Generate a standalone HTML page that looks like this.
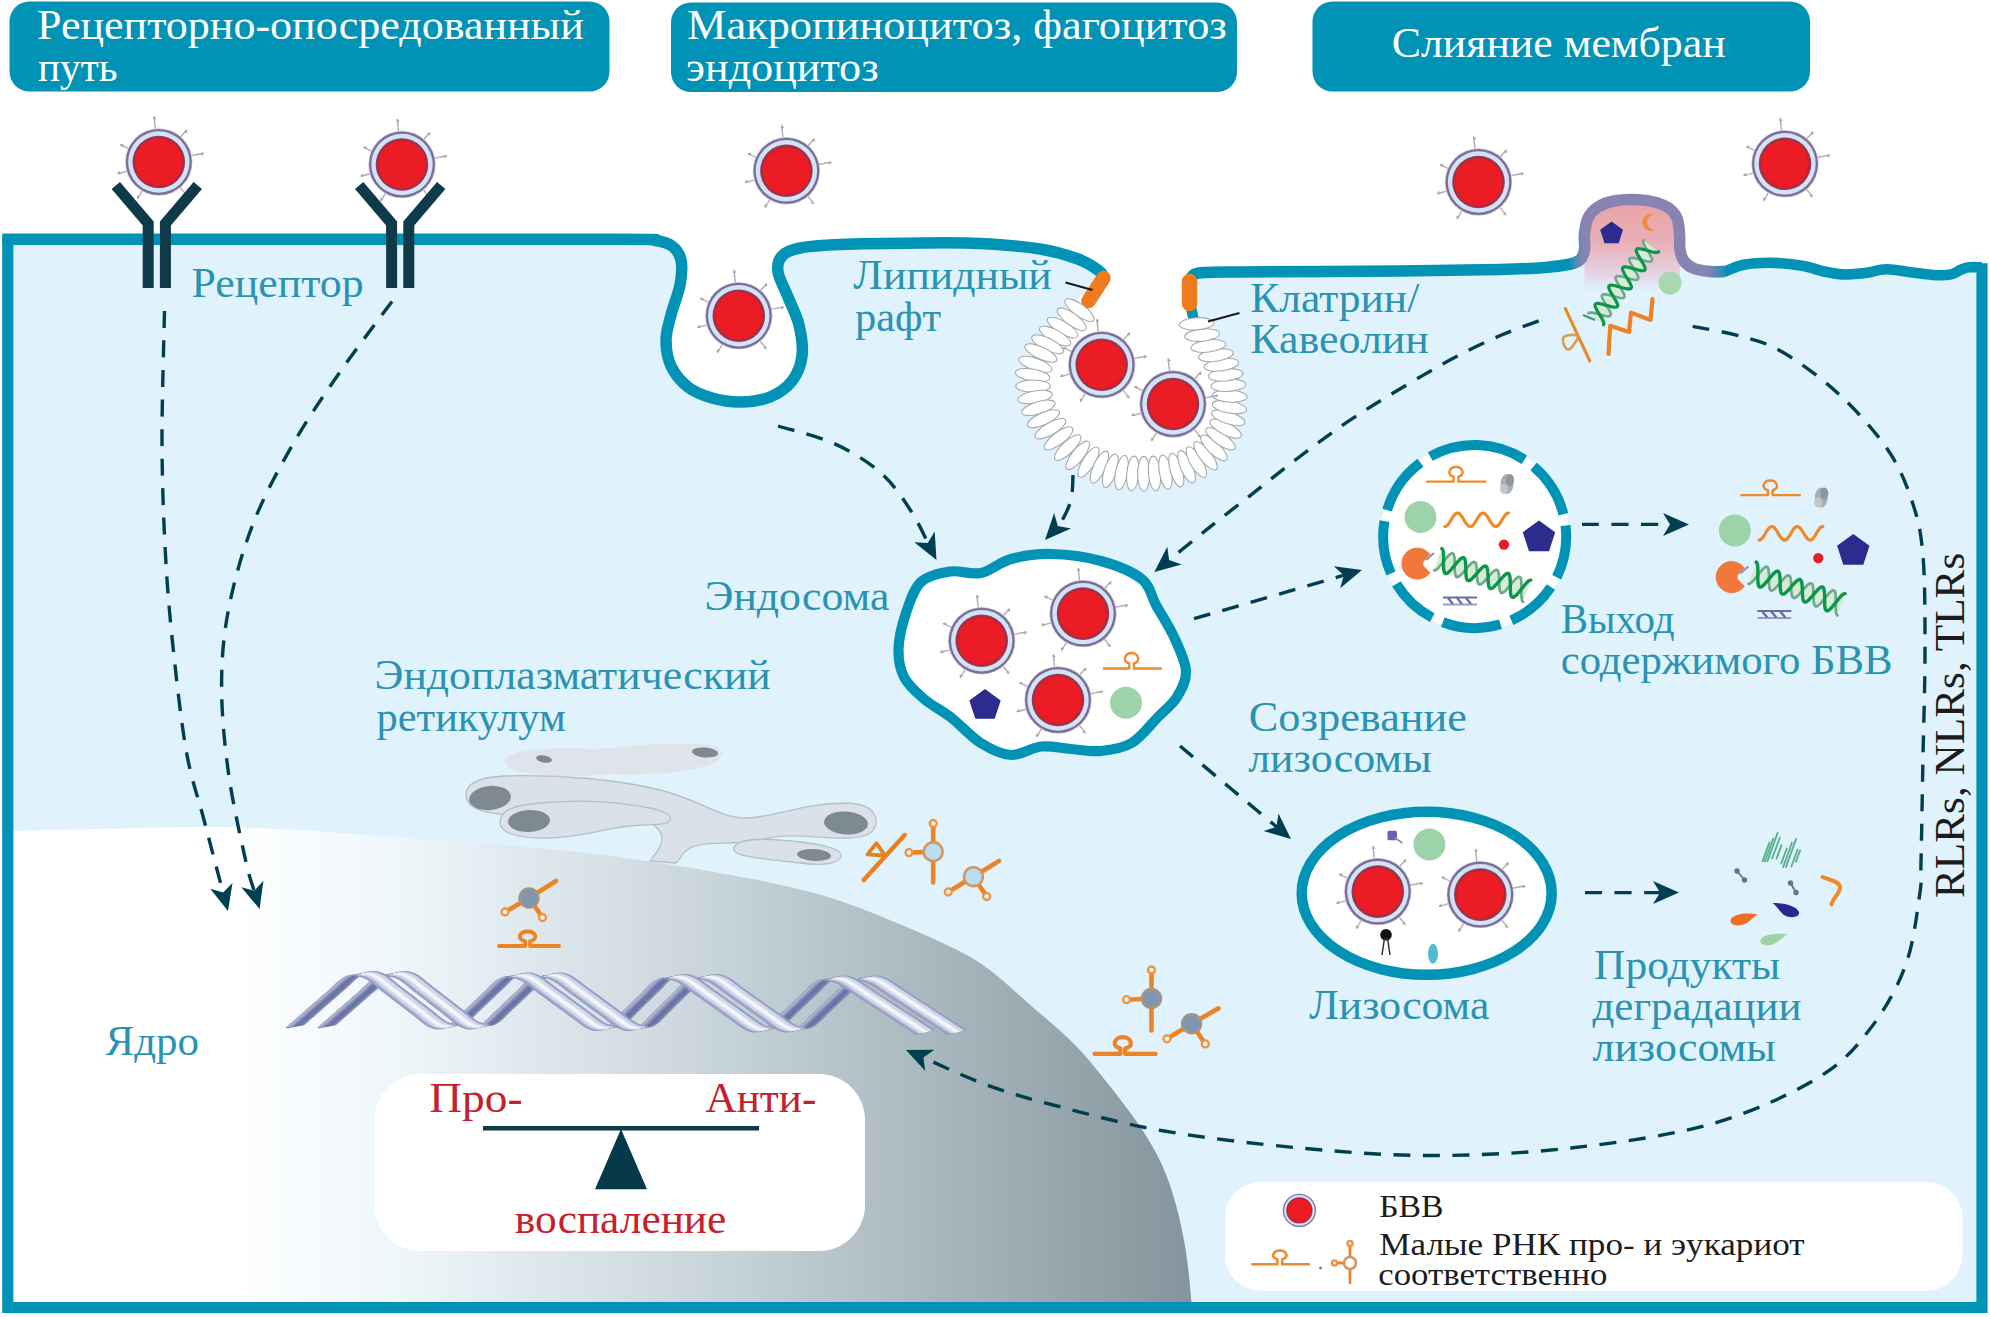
<!DOCTYPE html>
<html lang="ru">
<head>
<meta charset="utf-8">
<title>Пути проникновения БВВ в клетку</title>
<style>
html,body{margin:0;padding:0;background:#ffffff;}
body{width:1990px;height:1317px;overflow:hidden;font-family:"Liberation Serif","Times New Roman",serif;}
svg{display:block;}
</style>
</head>
<body>
<svg width="1990" height="1317" viewBox="0 0 1990 1317" font-family="'Liberation Serif', 'Times New Roman', serif">
<defs>
<linearGradient id="nuc" gradientUnits="userSpaceOnUse" x1="0" y1="0" x2="1210" y2="0">
<stop offset="0" stop-color="#ffffff"/>
<stop offset="0.19" stop-color="#ffffff"/>
<stop offset="0.33" stop-color="#eef6fa"/>
<stop offset="0.5" stop-color="#d6e1e5"/>
<stop offset="0.66" stop-color="#bccacf"/>
<stop offset="0.8" stop-color="#a4b3b9"/>
<stop offset="1" stop-color="#82929a"/>
</linearGradient>
<linearGradient id="bump" gradientUnits="userSpaceOnUse" x1="0" y1="205" x2="0" y2="292">
<stop offset="0" stop-color="#e8a4a6"/>
<stop offset="0.45" stop-color="#e8b0b8"/>
<stop offset="0.8" stop-color="#e6c9dc" stop-opacity="0.75"/>
<stop offset="1" stop-color="#e3d8ec" stop-opacity="0"/>
</linearGradient>
<linearGradient id="bumpstroke" gradientUnits="userSpaceOnUse" x1="1555" y1="0" x2="1745" y2="0">
<stop offset="0" stop-color="#0093b5"/>
<stop offset="0.06" stop-color="#0093b5"/>
<stop offset="0.15" stop-color="#8884b2"/>
<stop offset="0.8" stop-color="#8884b2"/>
<stop offset="0.93" stop-color="#0093b5"/>
<stop offset="1" stop-color="#0093b5"/>
</linearGradient>
<linearGradient id="dna" x1="0" y1="0" x2="0" y2="1">
<stop offset="0" stop-color="#8f9ac0"/>
<stop offset="0.5" stop-color="#e4e8f4"/>
<stop offset="1" stop-color="#8f9ac0"/>
</linearGradient>
<clipPath id="cellclip"><rect x="8" y="150" width="1973" height="1155"/></clipPath>
</defs>
<rect width="1990" height="1317" fill="#ffffff"/>
<path d="M2.3 239.2C51.9 239.2 197.1 239.2 300 239.2C402.9 239.2 560.8 239.1 620 239.3C679.2 239.5 646.3 239.4 655 240.5C663.7 241.6 667.7 242.8 672 246C676.3 249.2 679.7 253.5 681 260C682.3 266.5 681.7 275.8 680 285C678.3 294.2 673.3 305.8 671 315C668.7 324.2 666 331.5 666 340C666 348.5 667.3 358.2 671 366C674.7 373.8 681.2 381.7 688 387C694.8 392.3 703.2 395.5 712 398C720.8 400.5 731.3 402.2 741 402C750.7 401.8 761.5 400.5 770 397C778.5 393.5 786.7 387.8 792 381C797.3 374.2 800.8 365.3 802 356C803.2 346.7 801.3 334.8 799 325C796.7 315.2 791.5 305.8 788 297C784.5 288.2 779 278.8 778 272C777 265.2 778.3 260 782 256C785.7 252 790.3 249.9 800 248C809.7 246.1 820 245.3 840 244.5C860 243.7 896.7 243.2 920 243C943.3 242.8 960 242.5 980 243.5C1000 244.5 1023.7 246.4 1040 249C1056.3 251.6 1068.3 255.5 1078 259C1087.7 262.5 1093.7 267 1098 270C1102.3 273 1103 275.8 1104 277L1087 303 L1196 320 L1190 307 L1190 279C1190.7 278.2 1191.7 275.6 1194 274.5C1196.3 273.4 1196.3 272.9 1204 272.5C1211.7 272.1 1207.3 272.2 1240 272C1272.7 271.8 1356.7 271.4 1400 271C1443.3 270.6 1475.8 270.1 1500 269.5C1524.2 268.9 1533.2 268.4 1545 267.5C1556.8 266.6 1566.7 264.6 1571 264C1572.5 263.3 1577.8 262.3 1580 260C1582.2 257.7 1583.8 254.3 1584.5 250C1585.2 245.7 1583.9 239.3 1584.5 234C1585.1 228.7 1585.8 222.5 1588 218C1590.2 213.5 1593.7 209.8 1598 207C1602.3 204.2 1608.3 202.2 1614 201C1619.7 199.8 1625.7 199.4 1632 199.5C1638.3 199.6 1646 200.2 1652 201.5C1658 202.8 1663.8 204.8 1668 207.5C1672.2 210.2 1675.1 213.6 1677 218C1678.9 222.4 1679 228.7 1679.5 234C1680 239.3 1679.2 245.5 1680 250C1680.8 254.5 1681.8 258 1684 261C1686.2 264 1688.7 266.2 1693 268C1697.3 269.8 1704.7 270.9 1710 271.5C1715.3 272.1 1722.5 271.5 1725 271.5C1728.1 270.2 1736.2 266.2 1743.7 264.8C1751.2 263.4 1760.3 262.7 1770 262.8C1779.7 262.9 1793 264.2 1802 265.7C1811 267.1 1817.2 270.1 1824 271.5C1830.8 272.9 1836.2 274.1 1843 274.4C1849.8 274.6 1857.8 273.9 1865 273C1872.2 272.1 1878.8 269.4 1886.5 269.3C1894.2 269.2 1902.8 271.3 1911 272.3C1919.2 273.3 1929.3 274.9 1936 275.2C1942.7 275.5 1946.8 275.3 1951 274.4C1955.2 273.5 1958 270.8 1961 269.6C1964 268.4 1965.5 267.7 1969 267.3C1972.5 266.9 1979.8 267.3 1982 267.3L1982 1307 L7.8 1307 L7.8 239.2 Z" fill="#e0f2fc"/>
<path d="M8 831C23.3 830.7 66.2 829.7 100 829C133.8 828.3 177.7 826.8 211 827C244.3 827.2 276.5 828.8 300 830C323.5 831.2 332 832.5 352 834C372 835.5 396.7 837.2 420 839C443.3 840.8 468.7 842.7 492 844.5C515.3 846.3 533.5 847.1 560 850C586.5 852.9 620.8 857.2 651 861.7C681.2 866.2 716.7 872.4 741.5 877C766.3 881.6 782.1 885 800 889.5C817.9 894 828.2 896.4 849 904C869.8 911.6 903.2 925.2 925 935C946.8 944.8 962.8 951.7 980 963C997.2 974.3 1012.2 989.3 1028 1003C1043.8 1016.7 1061.5 1031.3 1075 1045C1088.5 1058.7 1098 1071.2 1109 1085C1120 1098.8 1132.2 1114.7 1141 1128C1149.8 1141.3 1156.2 1152.2 1162 1165C1167.8 1177.8 1172 1190.5 1176 1205C1180 1219.5 1183.3 1235 1186 1252C1188.7 1269 1191 1297.8 1192 1307L8 1307 Z" fill="url(#nuc)"/>
<g stroke="#b3c1c6" stroke-width="1.3"><path d="M507 757 C520 748 560 747 600 749 C640 744 690 741 716 746 C726 750 722 760 712 764 C690 772 650 776 610 774 C570 778 530 776 514 770 C505 766 503 761 507 757Z" fill="#dfe4ea" stroke="none"/><path d="M466 795 C466 782 482 777 505 776 C560 774 620 780 660 790 C700 800 720 818 745 818 C775 818 800 803 845 803 C868 803 877 812 876 823 C875 834 862 838 846 838 C810 838 790 832 760 840 C735 846 705 840 690 848 C681 853 680 860 676 863 L650 861 C656 853 662 846 662 838 C662 826 640 814 610 811 C570 807 530 816 500 814 C478 812 466 806 466 795Z" fill="#dbe1e8"/><path d="M500 822 C500 810 515 805 540 803 C580 799 620 802 650 808 C664 811 672 815 670 820 C668 826 650 824 630 826 C600 829 580 838 545 838 C515 838 500 833 500 822Z" fill="#dbe1e8"/><path d="M735 846 C740 838 770 838 800 842 C825 845 842 849 841 856 C840 864 822 866 800 863 C775 860 745 858 737 853 C733 851 733 848 735 846Z" fill="#dbe1e8"/></g><g fill="#7d8b91"><ellipse cx="490" cy="798" rx="21" ry="12" transform="rotate(-6 490 798)"/><ellipse cx="529" cy="821" rx="21" ry="11" transform="rotate(-3 529 821)"/><ellipse cx="846" cy="823" rx="22" ry="11.5" transform="rotate(4 846 823)"/><ellipse cx="814" cy="855" rx="17" ry="6" transform="rotate(3 814 855)"/><ellipse cx="705" cy="752.5" rx="13" ry="5" transform="rotate(5 705 752.5)"/><ellipse cx="544" cy="759" rx="8" ry="3.5" transform="rotate(10 544 759)"/></g>
<g fill="none" stroke="#0093b5" stroke-width="11.5" stroke-linejoin="round">
<path d="M7.8 236 L7.8 1307.5 L1982 1307.5 L1982 263.3" stroke-width="11.2" stroke-linejoin="miter"/>
<path d="M2.3 239.2C51.9 239.2 197.1 239.2 300 239.2C402.9 239.2 560.8 239.1 620 239.3C679.2 239.5 646.3 239.4 655 240.5C663.7 241.6 667.7 242.8 672 246C676.3 249.2 679.7 253.5 681 260C682.3 266.5 681.7 275.8 680 285C678.3 294.2 673.3 305.8 671 315C668.7 324.2 666 331.5 666 340C666 348.5 667.3 358.2 671 366C674.7 373.8 681.2 381.7 688 387C694.8 392.3 703.2 395.5 712 398C720.8 400.5 731.3 402.2 741 402C750.7 401.8 761.5 400.5 770 397C778.5 393.5 786.7 387.8 792 381C797.3 374.2 800.8 365.3 802 356C803.2 346.7 801.3 334.8 799 325C796.7 315.2 791.5 305.8 788 297C784.5 288.2 779 278.8 778 272C777 265.2 778.3 260 782 256C785.7 252 790.3 249.9 800 248C809.7 246.1 820 245.3 840 244.5C860 243.7 896.7 243.2 920 243C943.3 242.8 960 242.5 980 243.5C1000 244.5 1023.7 246.4 1040 249C1056.3 251.6 1068.3 255.5 1078 259C1087.7 262.5 1093.7 267 1098 270C1102.3 273 1103 275.8 1104 277" stroke-linecap="butt"/>
<path d="M1190 279C1190.7 278.2 1191.7 275.6 1194 274.5C1196.3 273.4 1196.3 272.9 1204 272.5C1211.7 272.1 1207.3 272.2 1240 272C1272.7 271.8 1356.7 271.4 1400 271C1443.3 270.6 1475.8 270.1 1500 269.5C1524.2 268.9 1533.2 268.4 1545 267.5C1556.8 266.6 1565.5 265.1 1571 264C1576.5 262.9 1576.8 261.5 1578 261"/>
<path d="M1716 272C1717.5 271.9 1720.4 272.5 1725 271.3C1729.6 270.1 1736.2 266.2 1743.7 264.8C1751.2 263.4 1760.3 262.7 1770 262.8C1779.7 262.9 1793 264.2 1802 265.7C1811 267.1 1817.2 270.1 1824 271.5C1830.8 272.9 1836.2 274.1 1843 274.4C1849.8 274.6 1857.8 273.9 1865 273C1872.2 272.1 1878.8 269.4 1886.5 269.3C1894.2 269.2 1902.8 271.3 1911 272.3C1919.2 273.3 1929.3 274.9 1936 275.2C1942.7 275.5 1946.8 275.3 1951 274.4C1955.2 273.5 1958 270.8 1961 269.6C1964 268.4 1965.5 267.7 1969 267.3C1972.5 266.9 1979.8 267.3 1982 267.3" stroke-width="10.6"/>
</g>
<path d="M1584.5 234C1585.1 231.3 1585.8 222.5 1588 218C1590.2 213.5 1593.7 209.8 1598 207C1602.3 204.2 1608.3 202.2 1614 201C1619.7 199.8 1625.7 199.4 1632 199.5C1638.3 199.6 1646 200.2 1652 201.5C1658 202.8 1663.8 204.8 1668 207.5C1672.2 210.2 1675.1 213.6 1677 218C1678.9 222.4 1679 228.7 1679.5 234C1680 239.3 1679.9 247.3 1680 250L1680 294 L1584.5 294 Z" fill="url(#bump)"/>
<path d="M1571 264C1572.5 263.3 1577.8 262.3 1580 260C1582.2 257.7 1583.8 254.3 1584.5 250C1585.2 245.7 1583.9 239.3 1584.5 234C1585.1 228.7 1585.8 222.5 1588 218C1590.2 213.5 1593.7 209.8 1598 207C1602.3 204.2 1608.3 202.2 1614 201C1619.7 199.8 1625.7 199.4 1632 199.5C1638.3 199.6 1646 200.2 1652 201.5C1658 202.8 1663.8 204.8 1668 207.5C1672.2 210.2 1675.1 213.6 1677 218C1678.9 222.4 1679 228.7 1679.5 234C1680 239.3 1679.2 245.5 1680 250C1680.8 254.5 1681.8 258 1684 261C1686.2 264 1688.7 266.2 1693 268C1697.3 269.8 1704.7 270.9 1710 271.5C1715.3 272.1 1722.5 271.5 1725 271.5" fill="none" stroke="url(#bumpstroke)" stroke-width="11.5"/>
<circle cx="1131" cy="377" r="95" fill="#ffffff"/>
<polygon points="1191,296 1210,296 1210,318 1196.5,320" fill="#e0f2fc"/>
<path d="M1190.5 305 L1193.5 319" stroke="#0093b5" stroke-width="10.5" fill="none"/>
<path d="M1103.5 278 L1088.5 301" stroke="#ee7c1e" stroke-width="14.5" stroke-linecap="round" fill="none"/>
<path d="M1189.5 281.5 L1189.5 303.5" stroke="#ee7c1e" stroke-width="15.5" stroke-linecap="round" fill="none"/>
<g fill="#ffffff" stroke="#a4a9ac" stroke-width="1.1"><ellipse cx="1079.4" cy="310.1" rx="17.4" ry="6.1" transform="rotate(36 1079.4 310.1)"/><ellipse cx="1071.8" cy="319.3" rx="17.4" ry="6.1" transform="rotate(36 1071.8 319.3)"/><ellipse cx="1062.6" cy="327.6" rx="17.4" ry="6.1" transform="rotate(31 1062.6 327.6)"/><ellipse cx="1055.1" cy="336" rx="17.4" ry="6.1" transform="rotate(28 1055.1 336)"/><ellipse cx="1047.6" cy="344.3" rx="17.4" ry="6.1" transform="rotate(26 1047.6 344.3)"/><ellipse cx="1040.9" cy="353" rx="17.4" ry="6.1" transform="rotate(25 1040.9 353)"/><ellipse cx="1035.4" cy="364.4" rx="17.4" ry="6.1" transform="rotate(19 1035.4 364.4)"/><ellipse cx="1032.6" cy="375.2" rx="17.4" ry="6.1" transform="rotate(10 1032.6 375.2)"/><ellipse cx="1033.1" cy="386.1" rx="17.4" ry="6.1" transform="rotate(0 1033.1 386.1)"/><ellipse cx="1035.1" cy="397" rx="17.4" ry="6.1" transform="rotate(-10 1035.1 397)"/><ellipse cx="1038.4" cy="407.8" rx="17.4" ry="6.1" transform="rotate(-17 1038.4 407.8)"/><ellipse cx="1043.4" cy="418.7" rx="17.4" ry="6.1" transform="rotate(-24 1043.4 418.7)"/><ellipse cx="1050.4" cy="428.7" rx="17.4" ry="6.1" transform="rotate(-30 1050.4 428.7)"/><ellipse cx="1058.5" cy="438.4" rx="17.4" ry="6.1" transform="rotate(-37 1058.5 438.4)"/><ellipse cx="1067.7" cy="447.6" rx="17.4" ry="6.1" transform="rotate(-44 1067.7 447.6)"/><ellipse cx="1077.7" cy="455.4" rx="17.4" ry="6.1" transform="rotate(-52 1077.7 455.4)"/><ellipse cx="1088.5" cy="462.1" rx="17.4" ry="6.1" transform="rotate(-58 1088.5 462.1)"/><ellipse cx="1099.4" cy="467.1" rx="17.4" ry="6.1" transform="rotate(-65 1099.4 467.1)"/><ellipse cx="1110.3" cy="470.8" rx="17.4" ry="6.1" transform="rotate(-72 1110.3 470.8)"/><ellipse cx="1121.6" cy="472.6" rx="17.4" ry="6.1" transform="rotate(-79 1121.6 472.6)"/><ellipse cx="1132.8" cy="473.5" rx="17.4" ry="6.1" transform="rotate(-85 1132.8 473.5)"/><ellipse cx="1143.7" cy="473.8" rx="17.4" ry="6.1" transform="rotate(-90 1143.7 473.8)"/><ellipse cx="1154.5" cy="473.5" rx="17.4" ry="6.1" transform="rotate(85 1154.5 473.5)"/><ellipse cx="1165.4" cy="472.1" rx="17.4" ry="6.1" transform="rotate(80 1165.4 472.1)"/><ellipse cx="1176.3" cy="470.1" rx="17.4" ry="6.1" transform="rotate(74 1176.3 470.1)"/><ellipse cx="1186.6" cy="466.8" rx="17.4" ry="6.1" transform="rotate(67 1186.6 466.8)"/><ellipse cx="1196.3" cy="462.1" rx="17.4" ry="6.1" transform="rotate(60 1196.3 462.1)"/><ellipse cx="1205.5" cy="455.8" rx="17.4" ry="6.1" transform="rotate(52 1205.5 455.8)"/><ellipse cx="1213.9" cy="447.9" rx="17.4" ry="6.1" transform="rotate(44 1213.9 447.9)"/><ellipse cx="1220.5" cy="438.7" rx="17.4" ry="6.1" transform="rotate(35 1220.5 438.7)"/><ellipse cx="1225.6" cy="428.7" rx="17.4" ry="6.1" transform="rotate(27 1225.6 428.7)"/><ellipse cx="1228.2" cy="417.8" rx="17.4" ry="6.1" transform="rotate(18 1228.2 417.8)"/><ellipse cx="1229.4" cy="407" rx="17.4" ry="6.1" transform="rotate(10 1229.4 407)"/><ellipse cx="1229.7" cy="396.1" rx="17.4" ry="6.1" transform="rotate(3 1229.7 396.1)"/><ellipse cx="1228.4" cy="385.3" rx="17.4" ry="6.1" transform="rotate(-3 1228.4 385.3)"/><ellipse cx="1225.6" cy="374.9" rx="17.4" ry="6.1" transform="rotate(-5 1225.6 374.9)"/><ellipse cx="1221.4" cy="364.7" rx="17.4" ry="6.1" transform="rotate(-8 1221.4 364.7)"/><ellipse cx="1215.9" cy="355.2" rx="17.4" ry="6.1" transform="rotate(-8 1215.9 355.2)"/><ellipse cx="1208.3" cy="346" rx="17.4" ry="6.1" transform="rotate(-7 1208.3 346)"/><ellipse cx="1202.2" cy="335.1" rx="17.4" ry="6.1" transform="rotate(-5 1202.2 335.1)"/><ellipse cx="1196.6" cy="323.8" rx="17.4" ry="6.1" transform="rotate(-3 1196.6 323.8)"/></g>
<line x1="1065.5" y1="282.5" x2="1092.5" y2="290" stroke="#1a1a1a" stroke-width="2.2"/>
<line x1="1208" y1="321.5" x2="1239.5" y2="313" stroke="#1a1a1a" stroke-width="2.2"/>
<g transform="translate(158.8 162) scale(1)"><line x1="-3.4" y1="-32.8" x2="-4" y2="-37.8" stroke="#b9a7c0" stroke-width="1.4"/><line x1="-4" y1="-37.8" x2="-4.8" y2="-45.3" stroke="#a9a7ad" stroke-width="1.4"/><path d="M-2.1 -43.1 L-4.9 -46.2 L-5.5 -42.8 Z" fill="#a9a7ad"/><line x1="21.6" y1="-24.9" x2="24.9" y2="-28.7" stroke="#9fb0a0" stroke-width="1.4"/><line x1="24.9" y1="-28.7" x2="27.8" y2="-31.9" stroke="#a8a6a4" stroke-width="1.4"/><path d="M28 -28.5 L28.4 -32.7 L25.4 -30.8 Z" fill="#a8a6a4"/><line x1="32.4" y1="-6.3" x2="37.3" y2="-7.3" stroke="#c7a8c0" stroke-width="1.4"/><line x1="37.3" y1="-7.3" x2="44.7" y2="-8.7" stroke="#a9a7ad" stroke-width="1.4"/><path d="M42.8 -5.9 L45.6 -8.9 L42.1 -9.2 Z" fill="#a9a7ad"/><line x1="21.2" y1="25.3" x2="24.4" y2="29.1" stroke="#c7a0b8" stroke-width="1.4"/><line x1="24.4" y1="29.1" x2="27.4" y2="32.7" stroke="#a3b3a3" stroke-width="1.4"/><path d="M24.1 32.4 L28.1 33.5 L26.7 30.2 Z" fill="#a3b3a3"/><line x1="-16.5" y1="28.6" x2="-19" y2="32.9" stroke="#c0a4c0" stroke-width="1.4"/><line x1="-19" y1="32.9" x2="-21.2" y2="36.7" stroke="#b0a2ae" stroke-width="1.4"/><path d="M-22.1 33.4 L-21.7 37.6 L-19.1 35.1 Z" fill="#b0a2ae"/><line x1="-31.7" y1="9.1" x2="-36.5" y2="10.5" stroke="#b9a7c0" stroke-width="1.4"/><line x1="-36.5" y1="10.5" x2="-41" y2="11.8" stroke="#a6aaa2" stroke-width="1.4"/><path d="M-39.4 8.8 L-42 12 L-38.5 12.1 Z" fill="#a6aaa2"/><line x1="-30.1" y1="-13.4" x2="-34.7" y2="-15.5" stroke="#c7a8c0" stroke-width="1.4"/><line x1="-34.7" y1="-15.5" x2="-38.4" y2="-17.1" stroke="#a9a7ad" stroke-width="1.4"/><path d="M-35.2 -18.3 L-39.3 -17.5 L-36.6 -15.2 Z" fill="#a9a7ad"/><circle r="33.7" fill="#d9c3e0"/><circle r="33" fill="#767296"/><circle r="30.7" fill="#d5e1f5"/><circle r="26.3" fill="#7a4a68"/><circle r="25.3" fill="#a82c44"/><circle r="24.3" fill="#d41f2c"/><circle r="23.3" fill="#ec1c24"/></g>
<g transform="translate(402 164.5) scale(1)"><line x1="-3.4" y1="-32.8" x2="-4" y2="-37.8" stroke="#b9a7c0" stroke-width="1.4"/><line x1="-4" y1="-37.8" x2="-4.8" y2="-45.3" stroke="#a9a7ad" stroke-width="1.4"/><path d="M-2.1 -43.1 L-4.9 -46.2 L-5.5 -42.8 Z" fill="#a9a7ad"/><line x1="21.6" y1="-24.9" x2="24.9" y2="-28.7" stroke="#9fb0a0" stroke-width="1.4"/><line x1="24.9" y1="-28.7" x2="27.8" y2="-31.9" stroke="#a8a6a4" stroke-width="1.4"/><path d="M28 -28.5 L28.4 -32.7 L25.4 -30.8 Z" fill="#a8a6a4"/><line x1="32.4" y1="-6.3" x2="37.3" y2="-7.3" stroke="#c7a8c0" stroke-width="1.4"/><line x1="37.3" y1="-7.3" x2="44.7" y2="-8.7" stroke="#a9a7ad" stroke-width="1.4"/><path d="M42.8 -5.9 L45.6 -8.9 L42.1 -9.2 Z" fill="#a9a7ad"/><line x1="21.2" y1="25.3" x2="24.4" y2="29.1" stroke="#c7a0b8" stroke-width="1.4"/><line x1="24.4" y1="29.1" x2="27.4" y2="32.7" stroke="#a3b3a3" stroke-width="1.4"/><path d="M24.1 32.4 L28.1 33.5 L26.7 30.2 Z" fill="#a3b3a3"/><line x1="-16.5" y1="28.6" x2="-19" y2="32.9" stroke="#c0a4c0" stroke-width="1.4"/><line x1="-19" y1="32.9" x2="-21.2" y2="36.7" stroke="#b0a2ae" stroke-width="1.4"/><path d="M-22.1 33.4 L-21.7 37.6 L-19.1 35.1 Z" fill="#b0a2ae"/><line x1="-31.7" y1="9.1" x2="-36.5" y2="10.5" stroke="#b9a7c0" stroke-width="1.4"/><line x1="-36.5" y1="10.5" x2="-41" y2="11.8" stroke="#a6aaa2" stroke-width="1.4"/><path d="M-39.4 8.8 L-42 12 L-38.5 12.1 Z" fill="#a6aaa2"/><line x1="-30.1" y1="-13.4" x2="-34.7" y2="-15.5" stroke="#c7a8c0" stroke-width="1.4"/><line x1="-34.7" y1="-15.5" x2="-38.4" y2="-17.1" stroke="#a9a7ad" stroke-width="1.4"/><path d="M-35.2 -18.3 L-39.3 -17.5 L-36.6 -15.2 Z" fill="#a9a7ad"/><circle r="33.7" fill="#d9c3e0"/><circle r="33" fill="#767296"/><circle r="30.7" fill="#d5e1f5"/><circle r="26.3" fill="#7a4a68"/><circle r="25.3" fill="#a82c44"/><circle r="24.3" fill="#d41f2c"/><circle r="23.3" fill="#ec1c24"/></g>
<g fill="none" stroke="#0e3a4a" stroke-width="11" stroke-linejoin="miter" stroke-miterlimit="6"><path d="M148.2 288 L148.2 223.5 L115.8 185.5"/><path d="M165.4 288 L165.4 223.5 L197.8 185.5"/></g>
<g fill="none" stroke="#0e3a4a" stroke-width="11" stroke-linejoin="miter" stroke-miterlimit="6"><path d="M391.6 288 L391.6 223.5 L359.2 185.5"/><path d="M408.8 288 L408.8 223.5 L441.2 185.5"/></g>
<g transform="translate(786.4 170.8) scale(1)"><line x1="-3.4" y1="-32.8" x2="-4" y2="-37.8" stroke="#b9a7c0" stroke-width="1.4"/><line x1="-4" y1="-37.8" x2="-4.8" y2="-45.3" stroke="#a9a7ad" stroke-width="1.4"/><path d="M-2.1 -43.1 L-4.9 -46.2 L-5.5 -42.8 Z" fill="#a9a7ad"/><line x1="21.6" y1="-24.9" x2="24.9" y2="-28.7" stroke="#9fb0a0" stroke-width="1.4"/><line x1="24.9" y1="-28.7" x2="27.8" y2="-31.9" stroke="#a8a6a4" stroke-width="1.4"/><path d="M28 -28.5 L28.4 -32.7 L25.4 -30.8 Z" fill="#a8a6a4"/><line x1="32.4" y1="-6.3" x2="37.3" y2="-7.3" stroke="#c7a8c0" stroke-width="1.4"/><line x1="37.3" y1="-7.3" x2="44.7" y2="-8.7" stroke="#a9a7ad" stroke-width="1.4"/><path d="M42.8 -5.9 L45.6 -8.9 L42.1 -9.2 Z" fill="#a9a7ad"/><line x1="21.2" y1="25.3" x2="24.4" y2="29.1" stroke="#c7a0b8" stroke-width="1.4"/><line x1="24.4" y1="29.1" x2="27.4" y2="32.7" stroke="#a3b3a3" stroke-width="1.4"/><path d="M24.1 32.4 L28.1 33.5 L26.7 30.2 Z" fill="#a3b3a3"/><line x1="-16.5" y1="28.6" x2="-19" y2="32.9" stroke="#c0a4c0" stroke-width="1.4"/><line x1="-19" y1="32.9" x2="-21.2" y2="36.7" stroke="#b0a2ae" stroke-width="1.4"/><path d="M-22.1 33.4 L-21.7 37.6 L-19.1 35.1 Z" fill="#b0a2ae"/><line x1="-31.7" y1="9.1" x2="-36.5" y2="10.5" stroke="#b9a7c0" stroke-width="1.4"/><line x1="-36.5" y1="10.5" x2="-41" y2="11.8" stroke="#a6aaa2" stroke-width="1.4"/><path d="M-39.4 8.8 L-42 12 L-38.5 12.1 Z" fill="#a6aaa2"/><line x1="-30.1" y1="-13.4" x2="-34.7" y2="-15.5" stroke="#c7a8c0" stroke-width="1.4"/><line x1="-34.7" y1="-15.5" x2="-38.4" y2="-17.1" stroke="#a9a7ad" stroke-width="1.4"/><path d="M-35.2 -18.3 L-39.3 -17.5 L-36.6 -15.2 Z" fill="#a9a7ad"/><circle r="33.7" fill="#d9c3e0"/><circle r="33" fill="#767296"/><circle r="30.7" fill="#d5e1f5"/><circle r="26.3" fill="#7a4a68"/><circle r="25.3" fill="#a82c44"/><circle r="24.3" fill="#d41f2c"/><circle r="23.3" fill="#ec1c24"/></g>
<g transform="translate(738.8 315.7) scale(1)"><line x1="-3.4" y1="-32.8" x2="-4" y2="-37.8" stroke="#b9a7c0" stroke-width="1.4"/><line x1="-4" y1="-37.8" x2="-4.8" y2="-45.3" stroke="#a9a7ad" stroke-width="1.4"/><path d="M-2.1 -43.1 L-4.9 -46.2 L-5.5 -42.8 Z" fill="#a9a7ad"/><line x1="21.6" y1="-24.9" x2="24.9" y2="-28.7" stroke="#9fb0a0" stroke-width="1.4"/><line x1="24.9" y1="-28.7" x2="27.8" y2="-31.9" stroke="#a8a6a4" stroke-width="1.4"/><path d="M28 -28.5 L28.4 -32.7 L25.4 -30.8 Z" fill="#a8a6a4"/><line x1="32.4" y1="-6.3" x2="37.3" y2="-7.3" stroke="#c7a8c0" stroke-width="1.4"/><line x1="37.3" y1="-7.3" x2="44.7" y2="-8.7" stroke="#a9a7ad" stroke-width="1.4"/><path d="M42.8 -5.9 L45.6 -8.9 L42.1 -9.2 Z" fill="#a9a7ad"/><line x1="21.2" y1="25.3" x2="24.4" y2="29.1" stroke="#c7a0b8" stroke-width="1.4"/><line x1="24.4" y1="29.1" x2="27.4" y2="32.7" stroke="#a3b3a3" stroke-width="1.4"/><path d="M24.1 32.4 L28.1 33.5 L26.7 30.2 Z" fill="#a3b3a3"/><line x1="-16.5" y1="28.6" x2="-19" y2="32.9" stroke="#c0a4c0" stroke-width="1.4"/><line x1="-19" y1="32.9" x2="-21.2" y2="36.7" stroke="#b0a2ae" stroke-width="1.4"/><path d="M-22.1 33.4 L-21.7 37.6 L-19.1 35.1 Z" fill="#b0a2ae"/><line x1="-31.7" y1="9.1" x2="-36.5" y2="10.5" stroke="#b9a7c0" stroke-width="1.4"/><line x1="-36.5" y1="10.5" x2="-41" y2="11.8" stroke="#a6aaa2" stroke-width="1.4"/><path d="M-39.4 8.8 L-42 12 L-38.5 12.1 Z" fill="#a6aaa2"/><line x1="-30.1" y1="-13.4" x2="-34.7" y2="-15.5" stroke="#c7a8c0" stroke-width="1.4"/><line x1="-34.7" y1="-15.5" x2="-38.4" y2="-17.1" stroke="#a9a7ad" stroke-width="1.4"/><path d="M-35.2 -18.3 L-39.3 -17.5 L-36.6 -15.2 Z" fill="#a9a7ad"/><circle r="33.7" fill="#d9c3e0"/><circle r="33" fill="#767296"/><circle r="30.7" fill="#d5e1f5"/><circle r="26.3" fill="#7a4a68"/><circle r="25.3" fill="#a82c44"/><circle r="24.3" fill="#d41f2c"/><circle r="23.3" fill="#ec1c24"/></g>
<g transform="translate(1101.7 364.8) scale(1)"><line x1="-3.4" y1="-32.8" x2="-4" y2="-37.8" stroke="#b9a7c0" stroke-width="1.4"/><line x1="-4" y1="-37.8" x2="-4.8" y2="-45.3" stroke="#a9a7ad" stroke-width="1.4"/><path d="M-2.1 -43.1 L-4.9 -46.2 L-5.5 -42.8 Z" fill="#a9a7ad"/><line x1="21.6" y1="-24.9" x2="24.9" y2="-28.7" stroke="#9fb0a0" stroke-width="1.4"/><line x1="24.9" y1="-28.7" x2="27.8" y2="-31.9" stroke="#a8a6a4" stroke-width="1.4"/><path d="M28 -28.5 L28.4 -32.7 L25.4 -30.8 Z" fill="#a8a6a4"/><line x1="32.4" y1="-6.3" x2="37.3" y2="-7.3" stroke="#c7a8c0" stroke-width="1.4"/><line x1="37.3" y1="-7.3" x2="44.7" y2="-8.7" stroke="#a9a7ad" stroke-width="1.4"/><path d="M42.8 -5.9 L45.6 -8.9 L42.1 -9.2 Z" fill="#a9a7ad"/><line x1="21.2" y1="25.3" x2="24.4" y2="29.1" stroke="#c7a0b8" stroke-width="1.4"/><line x1="24.4" y1="29.1" x2="27.4" y2="32.7" stroke="#a3b3a3" stroke-width="1.4"/><path d="M24.1 32.4 L28.1 33.5 L26.7 30.2 Z" fill="#a3b3a3"/><line x1="-16.5" y1="28.6" x2="-19" y2="32.9" stroke="#c0a4c0" stroke-width="1.4"/><line x1="-19" y1="32.9" x2="-21.2" y2="36.7" stroke="#b0a2ae" stroke-width="1.4"/><path d="M-22.1 33.4 L-21.7 37.6 L-19.1 35.1 Z" fill="#b0a2ae"/><line x1="-31.7" y1="9.1" x2="-36.5" y2="10.5" stroke="#b9a7c0" stroke-width="1.4"/><line x1="-36.5" y1="10.5" x2="-41" y2="11.8" stroke="#a6aaa2" stroke-width="1.4"/><path d="M-39.4 8.8 L-42 12 L-38.5 12.1 Z" fill="#a6aaa2"/><line x1="-30.1" y1="-13.4" x2="-34.7" y2="-15.5" stroke="#c7a8c0" stroke-width="1.4"/><line x1="-34.7" y1="-15.5" x2="-38.4" y2="-17.1" stroke="#a9a7ad" stroke-width="1.4"/><path d="M-35.2 -18.3 L-39.3 -17.5 L-36.6 -15.2 Z" fill="#a9a7ad"/><circle r="33.7" fill="#d9c3e0"/><circle r="33" fill="#767296"/><circle r="30.7" fill="#d5e1f5"/><circle r="26.3" fill="#7a4a68"/><circle r="25.3" fill="#a82c44"/><circle r="24.3" fill="#d41f2c"/><circle r="23.3" fill="#ec1c24"/></g>
<g transform="translate(1173 404) scale(1)"><line x1="-3.4" y1="-32.8" x2="-4" y2="-37.8" stroke="#b9a7c0" stroke-width="1.4"/><line x1="-4" y1="-37.8" x2="-4.8" y2="-45.3" stroke="#a9a7ad" stroke-width="1.4"/><path d="M-2.1 -43.1 L-4.9 -46.2 L-5.5 -42.8 Z" fill="#a9a7ad"/><line x1="21.6" y1="-24.9" x2="24.9" y2="-28.7" stroke="#9fb0a0" stroke-width="1.4"/><line x1="24.9" y1="-28.7" x2="27.8" y2="-31.9" stroke="#a8a6a4" stroke-width="1.4"/><path d="M28 -28.5 L28.4 -32.7 L25.4 -30.8 Z" fill="#a8a6a4"/><line x1="32.4" y1="-6.3" x2="37.3" y2="-7.3" stroke="#c7a8c0" stroke-width="1.4"/><line x1="37.3" y1="-7.3" x2="44.7" y2="-8.7" stroke="#a9a7ad" stroke-width="1.4"/><path d="M42.8 -5.9 L45.6 -8.9 L42.1 -9.2 Z" fill="#a9a7ad"/><line x1="21.2" y1="25.3" x2="24.4" y2="29.1" stroke="#c7a0b8" stroke-width="1.4"/><line x1="24.4" y1="29.1" x2="27.4" y2="32.7" stroke="#a3b3a3" stroke-width="1.4"/><path d="M24.1 32.4 L28.1 33.5 L26.7 30.2 Z" fill="#a3b3a3"/><line x1="-16.5" y1="28.6" x2="-19" y2="32.9" stroke="#c0a4c0" stroke-width="1.4"/><line x1="-19" y1="32.9" x2="-21.2" y2="36.7" stroke="#b0a2ae" stroke-width="1.4"/><path d="M-22.1 33.4 L-21.7 37.6 L-19.1 35.1 Z" fill="#b0a2ae"/><line x1="-31.7" y1="9.1" x2="-36.5" y2="10.5" stroke="#b9a7c0" stroke-width="1.4"/><line x1="-36.5" y1="10.5" x2="-41" y2="11.8" stroke="#a6aaa2" stroke-width="1.4"/><path d="M-39.4 8.8 L-42 12 L-38.5 12.1 Z" fill="#a6aaa2"/><line x1="-30.1" y1="-13.4" x2="-34.7" y2="-15.5" stroke="#c7a8c0" stroke-width="1.4"/><line x1="-34.7" y1="-15.5" x2="-38.4" y2="-17.1" stroke="#a9a7ad" stroke-width="1.4"/><path d="M-35.2 -18.3 L-39.3 -17.5 L-36.6 -15.2 Z" fill="#a9a7ad"/><circle r="33.7" fill="#d9c3e0"/><circle r="33" fill="#767296"/><circle r="30.7" fill="#d5e1f5"/><circle r="26.3" fill="#7a4a68"/><circle r="25.3" fill="#a82c44"/><circle r="24.3" fill="#d41f2c"/><circle r="23.3" fill="#ec1c24"/></g>
<g transform="translate(1478.5 182) scale(1)"><line x1="-3.4" y1="-32.8" x2="-4" y2="-37.8" stroke="#b9a7c0" stroke-width="1.4"/><line x1="-4" y1="-37.8" x2="-4.8" y2="-45.3" stroke="#a9a7ad" stroke-width="1.4"/><path d="M-2.1 -43.1 L-4.9 -46.2 L-5.5 -42.8 Z" fill="#a9a7ad"/><line x1="21.6" y1="-24.9" x2="24.9" y2="-28.7" stroke="#9fb0a0" stroke-width="1.4"/><line x1="24.9" y1="-28.7" x2="27.8" y2="-31.9" stroke="#a8a6a4" stroke-width="1.4"/><path d="M28 -28.5 L28.4 -32.7 L25.4 -30.8 Z" fill="#a8a6a4"/><line x1="32.4" y1="-6.3" x2="37.3" y2="-7.3" stroke="#c7a8c0" stroke-width="1.4"/><line x1="37.3" y1="-7.3" x2="44.7" y2="-8.7" stroke="#a9a7ad" stroke-width="1.4"/><path d="M42.8 -5.9 L45.6 -8.9 L42.1 -9.2 Z" fill="#a9a7ad"/><line x1="21.2" y1="25.3" x2="24.4" y2="29.1" stroke="#c7a0b8" stroke-width="1.4"/><line x1="24.4" y1="29.1" x2="27.4" y2="32.7" stroke="#a3b3a3" stroke-width="1.4"/><path d="M24.1 32.4 L28.1 33.5 L26.7 30.2 Z" fill="#a3b3a3"/><line x1="-16.5" y1="28.6" x2="-19" y2="32.9" stroke="#c0a4c0" stroke-width="1.4"/><line x1="-19" y1="32.9" x2="-21.2" y2="36.7" stroke="#b0a2ae" stroke-width="1.4"/><path d="M-22.1 33.4 L-21.7 37.6 L-19.1 35.1 Z" fill="#b0a2ae"/><line x1="-31.7" y1="9.1" x2="-36.5" y2="10.5" stroke="#b9a7c0" stroke-width="1.4"/><line x1="-36.5" y1="10.5" x2="-41" y2="11.8" stroke="#a6aaa2" stroke-width="1.4"/><path d="M-39.4 8.8 L-42 12 L-38.5 12.1 Z" fill="#a6aaa2"/><line x1="-30.1" y1="-13.4" x2="-34.7" y2="-15.5" stroke="#c7a8c0" stroke-width="1.4"/><line x1="-34.7" y1="-15.5" x2="-38.4" y2="-17.1" stroke="#a9a7ad" stroke-width="1.4"/><path d="M-35.2 -18.3 L-39.3 -17.5 L-36.6 -15.2 Z" fill="#a9a7ad"/><circle r="33.7" fill="#d9c3e0"/><circle r="33" fill="#767296"/><circle r="30.7" fill="#d5e1f5"/><circle r="26.3" fill="#7a4a68"/><circle r="25.3" fill="#a82c44"/><circle r="24.3" fill="#d41f2c"/><circle r="23.3" fill="#ec1c24"/></g>
<g transform="translate(1785 163.8) scale(1)"><line x1="-3.4" y1="-32.8" x2="-4" y2="-37.8" stroke="#b9a7c0" stroke-width="1.4"/><line x1="-4" y1="-37.8" x2="-4.8" y2="-45.3" stroke="#a9a7ad" stroke-width="1.4"/><path d="M-2.1 -43.1 L-4.9 -46.2 L-5.5 -42.8 Z" fill="#a9a7ad"/><line x1="21.6" y1="-24.9" x2="24.9" y2="-28.7" stroke="#9fb0a0" stroke-width="1.4"/><line x1="24.9" y1="-28.7" x2="27.8" y2="-31.9" stroke="#a8a6a4" stroke-width="1.4"/><path d="M28 -28.5 L28.4 -32.7 L25.4 -30.8 Z" fill="#a8a6a4"/><line x1="32.4" y1="-6.3" x2="37.3" y2="-7.3" stroke="#c7a8c0" stroke-width="1.4"/><line x1="37.3" y1="-7.3" x2="44.7" y2="-8.7" stroke="#a9a7ad" stroke-width="1.4"/><path d="M42.8 -5.9 L45.6 -8.9 L42.1 -9.2 Z" fill="#a9a7ad"/><line x1="21.2" y1="25.3" x2="24.4" y2="29.1" stroke="#c7a0b8" stroke-width="1.4"/><line x1="24.4" y1="29.1" x2="27.4" y2="32.7" stroke="#a3b3a3" stroke-width="1.4"/><path d="M24.1 32.4 L28.1 33.5 L26.7 30.2 Z" fill="#a3b3a3"/><line x1="-16.5" y1="28.6" x2="-19" y2="32.9" stroke="#c0a4c0" stroke-width="1.4"/><line x1="-19" y1="32.9" x2="-21.2" y2="36.7" stroke="#b0a2ae" stroke-width="1.4"/><path d="M-22.1 33.4 L-21.7 37.6 L-19.1 35.1 Z" fill="#b0a2ae"/><line x1="-31.7" y1="9.1" x2="-36.5" y2="10.5" stroke="#b9a7c0" stroke-width="1.4"/><line x1="-36.5" y1="10.5" x2="-41" y2="11.8" stroke="#a6aaa2" stroke-width="1.4"/><path d="M-39.4 8.8 L-42 12 L-38.5 12.1 Z" fill="#a6aaa2"/><line x1="-30.1" y1="-13.4" x2="-34.7" y2="-15.5" stroke="#c7a8c0" stroke-width="1.4"/><line x1="-34.7" y1="-15.5" x2="-38.4" y2="-17.1" stroke="#a9a7ad" stroke-width="1.4"/><path d="M-35.2 -18.3 L-39.3 -17.5 L-36.6 -15.2 Z" fill="#a9a7ad"/><circle r="33.7" fill="#d9c3e0"/><circle r="33" fill="#767296"/><circle r="30.7" fill="#d5e1f5"/><circle r="26.3" fill="#7a4a68"/><circle r="25.3" fill="#a82c44"/><circle r="24.3" fill="#d41f2c"/><circle r="23.3" fill="#ec1c24"/></g>
<path d="M898.5 649C898.8 638.3 902.2 624.2 906 613C909.8 601.8 913.7 588.9 921 582C928.3 575.1 940 573 950 571.5C960 570 970.5 575.1 980.7 573C990.9 570.9 999.3 562.2 1011 559C1022.7 555.8 1036 553.7 1051 554C1066 554.3 1085.9 556.8 1101 561C1116.1 565.2 1132.5 571.7 1141.7 579C1150.9 586.3 1150.6 595.3 1156 605C1161.4 614.7 1169 626 1174 637C1179 648 1185.5 661 1186 671C1186.5 681 1181.7 689.3 1177 697C1172.3 704.7 1165.6 709.3 1158 717C1150.4 724.7 1141.1 737.3 1131.6 743C1122.1 748.7 1111.1 750 1101 751C1090.9 752 1081 749.8 1071 749C1061 748.2 1051 745.5 1041 746.5C1031 747.5 1021 755.6 1011 755C1001 754.4 990.8 749.3 980.7 743C970.6 736.7 960 724.3 950.5 717C941 709.7 931.8 705.7 924 699C916.2 692.3 908.2 685.3 904 677C899.8 668.7 898.2 659.7 898.5 649Z" fill="#ffffff" stroke="#0093b5" stroke-width="10.2" stroke-linejoin="round"/>
<g transform="translate(981.7 640.7) scale(1)"><line x1="-3.4" y1="-32.8" x2="-4" y2="-37.8" stroke="#b9a7c0" stroke-width="1.4"/><line x1="-4" y1="-37.8" x2="-4.8" y2="-45.3" stroke="#a9a7ad" stroke-width="1.4"/><path d="M-2.1 -43.1 L-4.9 -46.2 L-5.5 -42.8 Z" fill="#a9a7ad"/><line x1="21.6" y1="-24.9" x2="24.9" y2="-28.7" stroke="#9fb0a0" stroke-width="1.4"/><line x1="24.9" y1="-28.7" x2="27.8" y2="-31.9" stroke="#a8a6a4" stroke-width="1.4"/><path d="M28 -28.5 L28.4 -32.7 L25.4 -30.8 Z" fill="#a8a6a4"/><line x1="32.4" y1="-6.3" x2="37.3" y2="-7.3" stroke="#c7a8c0" stroke-width="1.4"/><line x1="37.3" y1="-7.3" x2="44.7" y2="-8.7" stroke="#a9a7ad" stroke-width="1.4"/><path d="M42.8 -5.9 L45.6 -8.9 L42.1 -9.2 Z" fill="#a9a7ad"/><line x1="21.2" y1="25.3" x2="24.4" y2="29.1" stroke="#c7a0b8" stroke-width="1.4"/><line x1="24.4" y1="29.1" x2="27.4" y2="32.7" stroke="#a3b3a3" stroke-width="1.4"/><path d="M24.1 32.4 L28.1 33.5 L26.7 30.2 Z" fill="#a3b3a3"/><line x1="-16.5" y1="28.6" x2="-19" y2="32.9" stroke="#c0a4c0" stroke-width="1.4"/><line x1="-19" y1="32.9" x2="-21.2" y2="36.7" stroke="#b0a2ae" stroke-width="1.4"/><path d="M-22.1 33.4 L-21.7 37.6 L-19.1 35.1 Z" fill="#b0a2ae"/><line x1="-31.7" y1="9.1" x2="-36.5" y2="10.5" stroke="#b9a7c0" stroke-width="1.4"/><line x1="-36.5" y1="10.5" x2="-41" y2="11.8" stroke="#a6aaa2" stroke-width="1.4"/><path d="M-39.4 8.8 L-42 12 L-38.5 12.1 Z" fill="#a6aaa2"/><line x1="-30.1" y1="-13.4" x2="-34.7" y2="-15.5" stroke="#c7a8c0" stroke-width="1.4"/><line x1="-34.7" y1="-15.5" x2="-38.4" y2="-17.1" stroke="#a9a7ad" stroke-width="1.4"/><path d="M-35.2 -18.3 L-39.3 -17.5 L-36.6 -15.2 Z" fill="#a9a7ad"/><circle r="33.7" fill="#d9c3e0"/><circle r="33" fill="#767296"/><circle r="30.7" fill="#d5e1f5"/><circle r="26.3" fill="#7a4a68"/><circle r="25.3" fill="#a82c44"/><circle r="24.3" fill="#d41f2c"/><circle r="23.3" fill="#ec1c24"/></g>
<g transform="translate(1083 613.6) scale(1)"><line x1="-3.4" y1="-32.8" x2="-4" y2="-37.8" stroke="#b9a7c0" stroke-width="1.4"/><line x1="-4" y1="-37.8" x2="-4.8" y2="-45.3" stroke="#a9a7ad" stroke-width="1.4"/><path d="M-2.1 -43.1 L-4.9 -46.2 L-5.5 -42.8 Z" fill="#a9a7ad"/><line x1="21.6" y1="-24.9" x2="24.9" y2="-28.7" stroke="#9fb0a0" stroke-width="1.4"/><line x1="24.9" y1="-28.7" x2="27.8" y2="-31.9" stroke="#a8a6a4" stroke-width="1.4"/><path d="M28 -28.5 L28.4 -32.7 L25.4 -30.8 Z" fill="#a8a6a4"/><line x1="32.4" y1="-6.3" x2="37.3" y2="-7.3" stroke="#c7a8c0" stroke-width="1.4"/><line x1="37.3" y1="-7.3" x2="44.7" y2="-8.7" stroke="#a9a7ad" stroke-width="1.4"/><path d="M42.8 -5.9 L45.6 -8.9 L42.1 -9.2 Z" fill="#a9a7ad"/><line x1="21.2" y1="25.3" x2="24.4" y2="29.1" stroke="#c7a0b8" stroke-width="1.4"/><line x1="24.4" y1="29.1" x2="27.4" y2="32.7" stroke="#a3b3a3" stroke-width="1.4"/><path d="M24.1 32.4 L28.1 33.5 L26.7 30.2 Z" fill="#a3b3a3"/><line x1="-16.5" y1="28.6" x2="-19" y2="32.9" stroke="#c0a4c0" stroke-width="1.4"/><line x1="-19" y1="32.9" x2="-21.2" y2="36.7" stroke="#b0a2ae" stroke-width="1.4"/><path d="M-22.1 33.4 L-21.7 37.6 L-19.1 35.1 Z" fill="#b0a2ae"/><line x1="-31.7" y1="9.1" x2="-36.5" y2="10.5" stroke="#b9a7c0" stroke-width="1.4"/><line x1="-36.5" y1="10.5" x2="-41" y2="11.8" stroke="#a6aaa2" stroke-width="1.4"/><path d="M-39.4 8.8 L-42 12 L-38.5 12.1 Z" fill="#a6aaa2"/><line x1="-30.1" y1="-13.4" x2="-34.7" y2="-15.5" stroke="#c7a8c0" stroke-width="1.4"/><line x1="-34.7" y1="-15.5" x2="-38.4" y2="-17.1" stroke="#a9a7ad" stroke-width="1.4"/><path d="M-35.2 -18.3 L-39.3 -17.5 L-36.6 -15.2 Z" fill="#a9a7ad"/><circle r="33.7" fill="#d9c3e0"/><circle r="33" fill="#767296"/><circle r="30.7" fill="#d5e1f5"/><circle r="26.3" fill="#7a4a68"/><circle r="25.3" fill="#a82c44"/><circle r="24.3" fill="#d41f2c"/><circle r="23.3" fill="#ec1c24"/></g>
<g transform="translate(1058 700) scale(1)"><line x1="-3.4" y1="-32.8" x2="-4" y2="-37.8" stroke="#b9a7c0" stroke-width="1.4"/><line x1="-4" y1="-37.8" x2="-4.8" y2="-45.3" stroke="#a9a7ad" stroke-width="1.4"/><path d="M-2.1 -43.1 L-4.9 -46.2 L-5.5 -42.8 Z" fill="#a9a7ad"/><line x1="21.6" y1="-24.9" x2="24.9" y2="-28.7" stroke="#9fb0a0" stroke-width="1.4"/><line x1="24.9" y1="-28.7" x2="27.8" y2="-31.9" stroke="#a8a6a4" stroke-width="1.4"/><path d="M28 -28.5 L28.4 -32.7 L25.4 -30.8 Z" fill="#a8a6a4"/><line x1="32.4" y1="-6.3" x2="37.3" y2="-7.3" stroke="#c7a8c0" stroke-width="1.4"/><line x1="37.3" y1="-7.3" x2="44.7" y2="-8.7" stroke="#a9a7ad" stroke-width="1.4"/><path d="M42.8 -5.9 L45.6 -8.9 L42.1 -9.2 Z" fill="#a9a7ad"/><line x1="21.2" y1="25.3" x2="24.4" y2="29.1" stroke="#c7a0b8" stroke-width="1.4"/><line x1="24.4" y1="29.1" x2="27.4" y2="32.7" stroke="#a3b3a3" stroke-width="1.4"/><path d="M24.1 32.4 L28.1 33.5 L26.7 30.2 Z" fill="#a3b3a3"/><line x1="-16.5" y1="28.6" x2="-19" y2="32.9" stroke="#c0a4c0" stroke-width="1.4"/><line x1="-19" y1="32.9" x2="-21.2" y2="36.7" stroke="#b0a2ae" stroke-width="1.4"/><path d="M-22.1 33.4 L-21.7 37.6 L-19.1 35.1 Z" fill="#b0a2ae"/><line x1="-31.7" y1="9.1" x2="-36.5" y2="10.5" stroke="#b9a7c0" stroke-width="1.4"/><line x1="-36.5" y1="10.5" x2="-41" y2="11.8" stroke="#a6aaa2" stroke-width="1.4"/><path d="M-39.4 8.8 L-42 12 L-38.5 12.1 Z" fill="#a6aaa2"/><line x1="-30.1" y1="-13.4" x2="-34.7" y2="-15.5" stroke="#c7a8c0" stroke-width="1.4"/><line x1="-34.7" y1="-15.5" x2="-38.4" y2="-17.1" stroke="#a9a7ad" stroke-width="1.4"/><path d="M-35.2 -18.3 L-39.3 -17.5 L-36.6 -15.2 Z" fill="#a9a7ad"/><circle r="33.7" fill="#d9c3e0"/><circle r="33" fill="#767296"/><circle r="30.7" fill="#d5e1f5"/><circle r="26.3" fill="#7a4a68"/><circle r="25.3" fill="#a82c44"/><circle r="24.3" fill="#d41f2c"/><circle r="23.3" fill="#ec1c24"/></g>
<polygon points="985,689 1000.7,700.4 994.7,718.8 975.3,718.8 969.3,700.4" fill="#2e2b8e"/>
<circle cx="1126" cy="702.7" r="16" fill="#9dd3a8"/>
<path d="M1104 668.5 L1129.2 668.5 L1129.2 663.5 C1122.1 662 1124.6 653 1131.6 653 C1138.6 653 1141.1 662 1134 663.5 L1134 668.5 L1161 668.5" fill="none" stroke="#ee8a2a" stroke-width="2.4" stroke-linejoin="round" stroke-linecap="round"/>
<circle cx="1474.7" cy="536.5" r="94.5" fill="#ffffff"/>
<path d="M1430.2 456.5 A91.5 91.5 0 0 1 1524.4 459.7M1533.6 466.5 A91.5 91.5 0 0 1 1563.4 514.2M1565.5 525.5 A91.5 91.5 0 0 1 1556.7 577.2M1550.9 587.1 A91.5 91.5 0 0 1 1511.3 620.3M1500.5 624.3 A91.5 91.5 0 0 1 1442.8 622.3M1432.3 617.6 A91.5 91.5 0 0 1 1396.4 583.8M1391 573.6 A91.5 91.5 0 0 1 1384.5 521.2M1387.1 510.1 A91.5 91.5 0 0 1 1420.5 462.8" fill="none" stroke="#0093b5" stroke-width="10"/>
<g transform="translate(0 0)"><path d="M1427 481.6 L1453.6 481.6 L1453.6 476.6 C1446.5 475.1 1449 467 1456 467 C1463 467 1465.5 475.1 1458.4 476.6 L1458.4 481.6 L1485.5 481.6" fill="none" stroke="#ee8a2a" stroke-width="2.4" stroke-linejoin="round" stroke-linecap="round"/><g fill="#a9aeb2"><ellipse cx="1507" cy="484" rx="6.5" ry="10"/><ellipse cx="1510" cy="480" rx="4" ry="6" fill="#8f959a"/><ellipse cx="1504" cy="489" rx="4" ry="5" fill="#c2c6c9"/></g><circle cx="1420.5" cy="517" r="16" fill="#9dd3a8"/><path transform="translate(1444.8 519.8) rotate(0)" d="M0 6.8 L1.1 6.6 L2.1 5.9 L3.2 4.8 L4.2 3.4 L5.3 1.8 L6.4 -0 L7.4 -1.8 L8.5 -3.4 L9.6 -4.8 L10.6 -5.9 L11.7 -6.6 L12.7 -6.8 L13.8 -6.6 L14.9 -5.9 L15.9 -4.8 L17 -3.4 L18 -1.8 L19.1 -0 L20.2 1.8 L21.2 3.4 L22.3 4.8 L23.4 5.9 L24.4 6.6 L25.5 6.8 L26.5 6.6 L27.6 5.9 L28.7 4.8 L29.7 3.4 L30.8 1.8 L31.9 0 L32.9 -1.8 L34 -3.4 L35 -4.8 L36.1 -5.9 L37.2 -6.6 L38.2 -6.8 L39.3 -6.6 L40.3 -5.9 L41.4 -4.8 L42.5 -3.4 L43.5 -1.8 L44.6 -0 L45.7 1.8 L46.7 3.4 L47.8 4.8 L48.8 5.9 L49.9 6.6 L51 6.8 L52 6.6 L53.1 5.9 L54.1 4.8 L55.2 3.4 L56.3 1.8 L57.3 0 L58.4 -1.8 L59.5 -3.4 L60.5 -4.8 L61.6 -5.9 L62.6 -6.6 L63.7 -6.8" fill="none" stroke="#ee8a2a" stroke-width="3.2" stroke-linecap="round" stroke-linejoin="round"/><circle cx="1504" cy="544.6" r="5.2" fill="#e21f2a"/><polygon points="1539,520.5 1555.2,532.2 1549,551.3 1529,551.3 1522.8,532.2" fill="#2e2b8e"/><path d="M1422.8 562 Q1423.8 560.6 1429.9 554.5 A15.5 15.5 0 1 0 1429.9 572.7 Q1423.8 566.6 1422.8 565.2 Z" fill="#f0783a" stroke="#f0783a" stroke-width="1" stroke-linejoin="round"/><g transform="translate(1438 559.5) rotate(19.5)" fill="none" stroke-linejoin="round" stroke-linecap="round"><path d="M0 -11.5 L0.8 -11.2 L1.7 -10.3 L2.5 -8.9 L3.4 -7 L4.2 -4.9 L5.1 -2.5 L5.9 0 L6.7 2.5 L7.6 4.8 L8.4 6.9 L9.3 8.6 L10.1 9.8 L11 10.6 L11.8 10.8 L12.6 10.5 L13.5 9.7 L14.3 8.4 L15.2 6.6 L16 4.6 L16.9 2.4 L17.7 0 L18.5 -2.3 L19.4 -4.5 L20.2 -6.5 L21.1 -8.1 L21.9 -9.3 L22.8 -10.1 L23.6 -10.3 L24.4 -10 L25.3 -9.2 L26.1 -8 L27 -6.3 L27.8 -4.4 L28.7 -2.2 L29.5 -0 L30.3 2.2 L31.2 4.3 L32 6.2 L32.9 7.8 L33.7 9 L34.6 9.7 L35.4 9.9 L36.2 9.6 L37.1 8.9 L37.9 7.7 L38.8 6.1 L39.6 4.3 L40.5 2.2 L41.3 0 L42.1 -2.2 L43 -4.2 L43.8 -6.1 L44.7 -7.6 L45.5 -8.8 L46.4 -9.5 L47.2 -9.8 L48 -9.5 L48.9 -8.8 L49.7 -7.6 L50.6 -6.1 L51.4 -4.2 L52.3 -2.2 L53.1 -0 L53.9 2.2 L54.8 4.3 L55.6 6.1 L56.5 7.7 L57.3 8.9 L58.2 9.6 L59 9.9 L59.8 9.7 L60.7 9 L61.5 7.8 L62.4 6.2 L63.2 4.3 L64.1 2.2 L64.9 0 L65.7 -2.2 L66.6 -4.4 L67.4 -6.3 L68.3 -8 L69.1 -9.2 L70 -10 L70.8 -10.3 L71.7 -10.1 L72.5 -9.3 L73.3 -8.1 L74.2 -6.5 L75 -4.5 L75.9 -2.3 L76.7 -0 L77.6 2.4 L78.4 4.6 L79.2 6.6 L80.1 8.4 L80.9 9.7 L81.8 10.5 L82.6 10.8 L83.5 10.6 L84.3 9.8 L85.1 8.6 L86 6.9 L86.8 4.8 L87.7 2.5 L88.5 0 L89.4 -2.5 L90.2 -4.9 L91 -7 L91.9 -8.9 L92.7 -10.3 L93.6 -11.2 L94.4 -11.5 L94.4 11.5 L93.6 11.2 L92.7 10.3 L91.9 8.9 L91 7 L90.2 4.9 L89.4 2.5 L88.5 -0 L87.7 -2.5 L86.8 -4.8 L86 -6.9 L85.1 -8.6 L84.3 -9.8 L83.5 -10.6 L82.6 -10.8 L81.8 -10.5 L80.9 -9.7 L80.1 -8.4 L79.2 -6.6 L78.4 -4.6 L77.6 -2.4 L76.7 0 L75.9 2.3 L75 4.5 L74.2 6.5 L73.3 8.1 L72.5 9.3 L71.7 10.1 L70.8 10.3 L70 10 L69.1 9.2 L68.3 8 L67.4 6.3 L66.6 4.4 L65.7 2.2 L64.9 -0 L64.1 -2.2 L63.2 -4.3 L62.4 -6.2 L61.5 -7.8 L60.7 -9 L59.8 -9.7 L59 -9.9 L58.2 -9.6 L57.3 -8.9 L56.5 -7.7 L55.6 -6.1 L54.8 -4.3 L53.9 -2.2 L53.1 0 L52.3 2.2 L51.4 4.2 L50.6 6.1 L49.7 7.6 L48.9 8.8 L48 9.5 L47.2 9.8 L46.4 9.5 L45.5 8.8 L44.7 7.6 L43.8 6.1 L43 4.2 L42.1 2.2 L41.3 -0 L40.5 -2.2 L39.6 -4.3 L38.8 -6.1 L37.9 -7.7 L37.1 -8.9 L36.2 -9.6 L35.4 -9.9 L34.6 -9.7 L33.7 -9 L32.9 -7.8 L32 -6.2 L31.2 -4.3 L30.3 -2.2 L29.5 0 L28.7 2.2 L27.8 4.4 L27 6.3 L26.1 8 L25.3 9.2 L24.4 10 L23.6 10.3 L22.8 10.1 L21.9 9.3 L21.1 8.1 L20.2 6.5 L19.4 4.5 L18.5 2.3 L17.7 -0 L16.9 -2.4 L16 -4.6 L15.2 -6.6 L14.3 -8.4 L13.5 -9.7 L12.6 -10.5 L11.8 -10.8 L11 -10.6 L10.1 -9.8 L9.3 -8.6 L8.4 -6.9 L7.6 -4.8 L6.7 -2.5 L5.9 -0 L5.1 2.5 L4.2 4.9 L3.4 7 L2.5 8.9 L1.7 10.3 L0.8 11.2 L0 11.5Z" fill="#d3ecd6" fill-rule="evenodd"/><path d="M0 11.5 L0.8 11.2 L1.7 10.3 L2.5 8.9 L3.4 7 L4.2 4.9 L5.1 2.5 L5.9 -0 L6.7 -2.5 L7.6 -4.8 L8.4 -6.9 L9.3 -8.6 L10.1 -9.8 L11 -10.6 L11.8 -10.8 L12.6 -10.5 L13.5 -9.7 L14.3 -8.4 L15.2 -6.6 L16 -4.6 L16.9 -2.4 L17.7 -0 L18.5 2.3 L19.4 4.5 L20.2 6.5 L21.1 8.1 L21.9 9.3 L22.8 10.1 L23.6 10.3 L24.4 10 L25.3 9.2 L26.1 8 L27 6.3 L27.8 4.4 L28.7 2.2 L29.5 0 L30.3 -2.2 L31.2 -4.3 L32 -6.2 L32.9 -7.8 L33.7 -9 L34.6 -9.7 L35.4 -9.9 L36.2 -9.6 L37.1 -8.9 L37.9 -7.7 L38.8 -6.1 L39.6 -4.3 L40.5 -2.2 L41.3 -0 L42.1 2.2 L43 4.2 L43.8 6.1 L44.7 7.6 L45.5 8.8 L46.4 9.5 L47.2 9.8 L48 9.5 L48.9 8.8 L49.7 7.6 L50.6 6.1 L51.4 4.2 L52.3 2.2 L53.1 0 L53.9 -2.2 L54.8 -4.3 L55.6 -6.1 L56.5 -7.7 L57.3 -8.9 L58.2 -9.6 L59 -9.9 L59.8 -9.7 L60.7 -9 L61.5 -7.8 L62.4 -6.2 L63.2 -4.3 L64.1 -2.2 L64.9 -0 L65.7 2.2 L66.6 4.4 L67.4 6.3 L68.3 8 L69.1 9.2 L70 10 L70.8 10.3 L71.7 10.1 L72.5 9.3 L73.3 8.1 L74.2 6.5 L75 4.5 L75.9 2.3 L76.7 0 L77.6 -2.4 L78.4 -4.6 L79.2 -6.6 L80.1 -8.4 L80.9 -9.7 L81.8 -10.5 L82.6 -10.8 L83.5 -10.6 L84.3 -9.8 L85.1 -8.6 L86 -6.9 L86.8 -4.8 L87.7 -2.5 L88.5 -0 L89.4 2.5 L90.2 4.9 L91 7 L91.9 8.9 L92.7 10.3 L93.6 11.2 L94.4 11.5" stroke="#6fa88a" stroke-width="2.7"/><path d="M0 -11.5 L0.8 -11.2 L1.7 -10.3 L2.5 -8.9 L3.4 -7 L4.2 -4.9 L5.1 -2.5 L5.9 0 L6.7 2.5 L7.6 4.8 L8.4 6.9 L9.3 8.6 L10.1 9.8 L11 10.6 L11.8 10.8 L12.6 10.5 L13.5 9.7 L14.3 8.4 L15.2 6.6 L16 4.6 L16.9 2.4 L17.7 0 L18.5 -2.3 L19.4 -4.5 L20.2 -6.5 L21.1 -8.1 L21.9 -9.3 L22.8 -10.1 L23.6 -10.3 L24.4 -10 L25.3 -9.2 L26.1 -8 L27 -6.3 L27.8 -4.4 L28.7 -2.2 L29.5 -0 L30.3 2.2 L31.2 4.3 L32 6.2 L32.9 7.8 L33.7 9 L34.6 9.7 L35.4 9.9 L36.2 9.6 L37.1 8.9 L37.9 7.7 L38.8 6.1 L39.6 4.3 L40.5 2.2 L41.3 0 L42.1 -2.2 L43 -4.2 L43.8 -6.1 L44.7 -7.6 L45.5 -8.8 L46.4 -9.5 L47.2 -9.8 L48 -9.5 L48.9 -8.8 L49.7 -7.6 L50.6 -6.1 L51.4 -4.2 L52.3 -2.2 L53.1 -0 L53.9 2.2 L54.8 4.3 L55.6 6.1 L56.5 7.7 L57.3 8.9 L58.2 9.6 L59 9.9 L59.8 9.7 L60.7 9 L61.5 7.8 L62.4 6.2 L63.2 4.3 L64.1 2.2 L64.9 0 L65.7 -2.2 L66.6 -4.4 L67.4 -6.3 L68.3 -8 L69.1 -9.2 L70 -10 L70.8 -10.3 L71.7 -10.1 L72.5 -9.3 L73.3 -8.1 L74.2 -6.5 L75 -4.5 L75.9 -2.3 L76.7 -0 L77.6 2.4 L78.4 4.6 L79.2 6.6 L80.1 8.4 L80.9 9.7 L81.8 10.5 L82.6 10.8 L83.5 10.6 L84.3 9.8 L85.1 8.6 L86 6.9 L86.8 4.8 L87.7 2.5 L88.5 0 L89.4 -2.5 L90.2 -4.9 L91 -7 L91.9 -8.9 L92.7 -10.3 L93.6 -11.2 L94.4 -11.5" stroke="#0b9648" stroke-width="3.4"/></g><line x1="1426" y1="560" x2="1434" y2="553" stroke="#8a8fa8" stroke-width="2"/><g stroke="#6a6cae" stroke-width="2" fill="none"><line x1="1443" y1="597.5" x2="1477" y2="597.5"/><line x1="1443" y1="604.5" x2="1477" y2="604.5" stroke="#9a9cc8"/><path d="M1448 598 L1453 604 M1457 598 L1462 604 M1466 598 L1471 604" stroke-width="2.4"/></g></g>
<g transform="translate(314.3 13.5)"><path d="M1427 481.6 L1453.6 481.6 L1453.6 476.6 C1446.5 475.1 1449 467 1456 467 C1463 467 1465.5 475.1 1458.4 476.6 L1458.4 481.6 L1485.5 481.6" fill="none" stroke="#ee8a2a" stroke-width="2.4" stroke-linejoin="round" stroke-linecap="round"/><g fill="#a9aeb2"><ellipse cx="1507" cy="484" rx="6.5" ry="10"/><ellipse cx="1510" cy="480" rx="4" ry="6" fill="#8f959a"/><ellipse cx="1504" cy="489" rx="4" ry="5" fill="#c2c6c9"/></g><circle cx="1420.5" cy="517" r="16" fill="#9dd3a8"/><path transform="translate(1444.8 519.8) rotate(0)" d="M0 6.8 L1.1 6.6 L2.1 5.9 L3.2 4.8 L4.2 3.4 L5.3 1.8 L6.4 -0 L7.4 -1.8 L8.5 -3.4 L9.6 -4.8 L10.6 -5.9 L11.7 -6.6 L12.7 -6.8 L13.8 -6.6 L14.9 -5.9 L15.9 -4.8 L17 -3.4 L18 -1.8 L19.1 -0 L20.2 1.8 L21.2 3.4 L22.3 4.8 L23.4 5.9 L24.4 6.6 L25.5 6.8 L26.5 6.6 L27.6 5.9 L28.7 4.8 L29.7 3.4 L30.8 1.8 L31.9 0 L32.9 -1.8 L34 -3.4 L35 -4.8 L36.1 -5.9 L37.2 -6.6 L38.2 -6.8 L39.3 -6.6 L40.3 -5.9 L41.4 -4.8 L42.5 -3.4 L43.5 -1.8 L44.6 -0 L45.7 1.8 L46.7 3.4 L47.8 4.8 L48.8 5.9 L49.9 6.6 L51 6.8 L52 6.6 L53.1 5.9 L54.1 4.8 L55.2 3.4 L56.3 1.8 L57.3 0 L58.4 -1.8 L59.5 -3.4 L60.5 -4.8 L61.6 -5.9 L62.6 -6.6 L63.7 -6.8" fill="none" stroke="#ee8a2a" stroke-width="3.2" stroke-linecap="round" stroke-linejoin="round"/><circle cx="1504" cy="544.6" r="5.2" fill="#e21f2a"/><polygon points="1539,520.5 1555.2,532.2 1549,551.3 1529,551.3 1522.8,532.2" fill="#2e2b8e"/><path d="M1422.8 562 Q1423.8 560.6 1429.9 554.5 A15.5 15.5 0 1 0 1429.9 572.7 Q1423.8 566.6 1422.8 565.2 Z" fill="#f0783a" stroke="#f0783a" stroke-width="1" stroke-linejoin="round"/><g transform="translate(1438 559.5) rotate(19.5)" fill="none" stroke-linejoin="round" stroke-linecap="round"><path d="M0 -11.5 L0.8 -11.2 L1.7 -10.3 L2.5 -8.9 L3.4 -7 L4.2 -4.9 L5.1 -2.5 L5.9 0 L6.7 2.5 L7.6 4.8 L8.4 6.9 L9.3 8.6 L10.1 9.8 L11 10.6 L11.8 10.8 L12.6 10.5 L13.5 9.7 L14.3 8.4 L15.2 6.6 L16 4.6 L16.9 2.4 L17.7 0 L18.5 -2.3 L19.4 -4.5 L20.2 -6.5 L21.1 -8.1 L21.9 -9.3 L22.8 -10.1 L23.6 -10.3 L24.4 -10 L25.3 -9.2 L26.1 -8 L27 -6.3 L27.8 -4.4 L28.7 -2.2 L29.5 -0 L30.3 2.2 L31.2 4.3 L32 6.2 L32.9 7.8 L33.7 9 L34.6 9.7 L35.4 9.9 L36.2 9.6 L37.1 8.9 L37.9 7.7 L38.8 6.1 L39.6 4.3 L40.5 2.2 L41.3 0 L42.1 -2.2 L43 -4.2 L43.8 -6.1 L44.7 -7.6 L45.5 -8.8 L46.4 -9.5 L47.2 -9.8 L48 -9.5 L48.9 -8.8 L49.7 -7.6 L50.6 -6.1 L51.4 -4.2 L52.3 -2.2 L53.1 -0 L53.9 2.2 L54.8 4.3 L55.6 6.1 L56.5 7.7 L57.3 8.9 L58.2 9.6 L59 9.9 L59.8 9.7 L60.7 9 L61.5 7.8 L62.4 6.2 L63.2 4.3 L64.1 2.2 L64.9 0 L65.7 -2.2 L66.6 -4.4 L67.4 -6.3 L68.3 -8 L69.1 -9.2 L70 -10 L70.8 -10.3 L71.7 -10.1 L72.5 -9.3 L73.3 -8.1 L74.2 -6.5 L75 -4.5 L75.9 -2.3 L76.7 -0 L77.6 2.4 L78.4 4.6 L79.2 6.6 L80.1 8.4 L80.9 9.7 L81.8 10.5 L82.6 10.8 L83.5 10.6 L84.3 9.8 L85.1 8.6 L86 6.9 L86.8 4.8 L87.7 2.5 L88.5 0 L89.4 -2.5 L90.2 -4.9 L91 -7 L91.9 -8.9 L92.7 -10.3 L93.6 -11.2 L94.4 -11.5 L94.4 11.5 L93.6 11.2 L92.7 10.3 L91.9 8.9 L91 7 L90.2 4.9 L89.4 2.5 L88.5 -0 L87.7 -2.5 L86.8 -4.8 L86 -6.9 L85.1 -8.6 L84.3 -9.8 L83.5 -10.6 L82.6 -10.8 L81.8 -10.5 L80.9 -9.7 L80.1 -8.4 L79.2 -6.6 L78.4 -4.6 L77.6 -2.4 L76.7 0 L75.9 2.3 L75 4.5 L74.2 6.5 L73.3 8.1 L72.5 9.3 L71.7 10.1 L70.8 10.3 L70 10 L69.1 9.2 L68.3 8 L67.4 6.3 L66.6 4.4 L65.7 2.2 L64.9 -0 L64.1 -2.2 L63.2 -4.3 L62.4 -6.2 L61.5 -7.8 L60.7 -9 L59.8 -9.7 L59 -9.9 L58.2 -9.6 L57.3 -8.9 L56.5 -7.7 L55.6 -6.1 L54.8 -4.3 L53.9 -2.2 L53.1 0 L52.3 2.2 L51.4 4.2 L50.6 6.1 L49.7 7.6 L48.9 8.8 L48 9.5 L47.2 9.8 L46.4 9.5 L45.5 8.8 L44.7 7.6 L43.8 6.1 L43 4.2 L42.1 2.2 L41.3 -0 L40.5 -2.2 L39.6 -4.3 L38.8 -6.1 L37.9 -7.7 L37.1 -8.9 L36.2 -9.6 L35.4 -9.9 L34.6 -9.7 L33.7 -9 L32.9 -7.8 L32 -6.2 L31.2 -4.3 L30.3 -2.2 L29.5 0 L28.7 2.2 L27.8 4.4 L27 6.3 L26.1 8 L25.3 9.2 L24.4 10 L23.6 10.3 L22.8 10.1 L21.9 9.3 L21.1 8.1 L20.2 6.5 L19.4 4.5 L18.5 2.3 L17.7 -0 L16.9 -2.4 L16 -4.6 L15.2 -6.6 L14.3 -8.4 L13.5 -9.7 L12.6 -10.5 L11.8 -10.8 L11 -10.6 L10.1 -9.8 L9.3 -8.6 L8.4 -6.9 L7.6 -4.8 L6.7 -2.5 L5.9 -0 L5.1 2.5 L4.2 4.9 L3.4 7 L2.5 8.9 L1.7 10.3 L0.8 11.2 L0 11.5Z" fill="#d3ecd6" fill-rule="evenodd"/><path d="M0 11.5 L0.8 11.2 L1.7 10.3 L2.5 8.9 L3.4 7 L4.2 4.9 L5.1 2.5 L5.9 -0 L6.7 -2.5 L7.6 -4.8 L8.4 -6.9 L9.3 -8.6 L10.1 -9.8 L11 -10.6 L11.8 -10.8 L12.6 -10.5 L13.5 -9.7 L14.3 -8.4 L15.2 -6.6 L16 -4.6 L16.9 -2.4 L17.7 -0 L18.5 2.3 L19.4 4.5 L20.2 6.5 L21.1 8.1 L21.9 9.3 L22.8 10.1 L23.6 10.3 L24.4 10 L25.3 9.2 L26.1 8 L27 6.3 L27.8 4.4 L28.7 2.2 L29.5 0 L30.3 -2.2 L31.2 -4.3 L32 -6.2 L32.9 -7.8 L33.7 -9 L34.6 -9.7 L35.4 -9.9 L36.2 -9.6 L37.1 -8.9 L37.9 -7.7 L38.8 -6.1 L39.6 -4.3 L40.5 -2.2 L41.3 -0 L42.1 2.2 L43 4.2 L43.8 6.1 L44.7 7.6 L45.5 8.8 L46.4 9.5 L47.2 9.8 L48 9.5 L48.9 8.8 L49.7 7.6 L50.6 6.1 L51.4 4.2 L52.3 2.2 L53.1 0 L53.9 -2.2 L54.8 -4.3 L55.6 -6.1 L56.5 -7.7 L57.3 -8.9 L58.2 -9.6 L59 -9.9 L59.8 -9.7 L60.7 -9 L61.5 -7.8 L62.4 -6.2 L63.2 -4.3 L64.1 -2.2 L64.9 -0 L65.7 2.2 L66.6 4.4 L67.4 6.3 L68.3 8 L69.1 9.2 L70 10 L70.8 10.3 L71.7 10.1 L72.5 9.3 L73.3 8.1 L74.2 6.5 L75 4.5 L75.9 2.3 L76.7 0 L77.6 -2.4 L78.4 -4.6 L79.2 -6.6 L80.1 -8.4 L80.9 -9.7 L81.8 -10.5 L82.6 -10.8 L83.5 -10.6 L84.3 -9.8 L85.1 -8.6 L86 -6.9 L86.8 -4.8 L87.7 -2.5 L88.5 -0 L89.4 2.5 L90.2 4.9 L91 7 L91.9 8.9 L92.7 10.3 L93.6 11.2 L94.4 11.5" stroke="#6fa88a" stroke-width="2.7"/><path d="M0 -11.5 L0.8 -11.2 L1.7 -10.3 L2.5 -8.9 L3.4 -7 L4.2 -4.9 L5.1 -2.5 L5.9 0 L6.7 2.5 L7.6 4.8 L8.4 6.9 L9.3 8.6 L10.1 9.8 L11 10.6 L11.8 10.8 L12.6 10.5 L13.5 9.7 L14.3 8.4 L15.2 6.6 L16 4.6 L16.9 2.4 L17.7 0 L18.5 -2.3 L19.4 -4.5 L20.2 -6.5 L21.1 -8.1 L21.9 -9.3 L22.8 -10.1 L23.6 -10.3 L24.4 -10 L25.3 -9.2 L26.1 -8 L27 -6.3 L27.8 -4.4 L28.7 -2.2 L29.5 -0 L30.3 2.2 L31.2 4.3 L32 6.2 L32.9 7.8 L33.7 9 L34.6 9.7 L35.4 9.9 L36.2 9.6 L37.1 8.9 L37.9 7.7 L38.8 6.1 L39.6 4.3 L40.5 2.2 L41.3 0 L42.1 -2.2 L43 -4.2 L43.8 -6.1 L44.7 -7.6 L45.5 -8.8 L46.4 -9.5 L47.2 -9.8 L48 -9.5 L48.9 -8.8 L49.7 -7.6 L50.6 -6.1 L51.4 -4.2 L52.3 -2.2 L53.1 -0 L53.9 2.2 L54.8 4.3 L55.6 6.1 L56.5 7.7 L57.3 8.9 L58.2 9.6 L59 9.9 L59.8 9.7 L60.7 9 L61.5 7.8 L62.4 6.2 L63.2 4.3 L64.1 2.2 L64.9 0 L65.7 -2.2 L66.6 -4.4 L67.4 -6.3 L68.3 -8 L69.1 -9.2 L70 -10 L70.8 -10.3 L71.7 -10.1 L72.5 -9.3 L73.3 -8.1 L74.2 -6.5 L75 -4.5 L75.9 -2.3 L76.7 -0 L77.6 2.4 L78.4 4.6 L79.2 6.6 L80.1 8.4 L80.9 9.7 L81.8 10.5 L82.6 10.8 L83.5 10.6 L84.3 9.8 L85.1 8.6 L86 6.9 L86.8 4.8 L87.7 2.5 L88.5 0 L89.4 -2.5 L90.2 -4.9 L91 -7 L91.9 -8.9 L92.7 -10.3 L93.6 -11.2 L94.4 -11.5" stroke="#0b9648" stroke-width="3.4"/></g><line x1="1426" y1="560" x2="1434" y2="553" stroke="#8a8fa8" stroke-width="2"/><g stroke="#6a6cae" stroke-width="2" fill="none"><line x1="1443" y1="597.5" x2="1477" y2="597.5"/><line x1="1443" y1="604.5" x2="1477" y2="604.5" stroke="#9a9cc8"/><path d="M1448 598 L1453 604 M1457 598 L1462 604 M1466 598 L1471 604" stroke-width="2.4"/></g></g>
<ellipse cx="1426.7" cy="893.3" rx="125" ry="81.5" fill="#ffffff" stroke="#0093b5" stroke-width="10.5"/>
<g transform="translate(1377.8 891.6) scale(1)"><line x1="-3.4" y1="-32.8" x2="-4" y2="-37.8" stroke="#b9a7c0" stroke-width="1.4"/><line x1="-4" y1="-37.8" x2="-4.8" y2="-45.3" stroke="#a9a7ad" stroke-width="1.4"/><path d="M-2.1 -43.1 L-4.9 -46.2 L-5.5 -42.8 Z" fill="#a9a7ad"/><line x1="21.6" y1="-24.9" x2="24.9" y2="-28.7" stroke="#9fb0a0" stroke-width="1.4"/><line x1="24.9" y1="-28.7" x2="27.8" y2="-31.9" stroke="#a8a6a4" stroke-width="1.4"/><path d="M28 -28.5 L28.4 -32.7 L25.4 -30.8 Z" fill="#a8a6a4"/><line x1="32.4" y1="-6.3" x2="37.3" y2="-7.3" stroke="#c7a8c0" stroke-width="1.4"/><line x1="37.3" y1="-7.3" x2="44.7" y2="-8.7" stroke="#a9a7ad" stroke-width="1.4"/><path d="M42.8 -5.9 L45.6 -8.9 L42.1 -9.2 Z" fill="#a9a7ad"/><line x1="21.2" y1="25.3" x2="24.4" y2="29.1" stroke="#c7a0b8" stroke-width="1.4"/><line x1="24.4" y1="29.1" x2="27.4" y2="32.7" stroke="#a3b3a3" stroke-width="1.4"/><path d="M24.1 32.4 L28.1 33.5 L26.7 30.2 Z" fill="#a3b3a3"/><line x1="-16.5" y1="28.6" x2="-19" y2="32.9" stroke="#c0a4c0" stroke-width="1.4"/><line x1="-19" y1="32.9" x2="-21.2" y2="36.7" stroke="#b0a2ae" stroke-width="1.4"/><path d="M-22.1 33.4 L-21.7 37.6 L-19.1 35.1 Z" fill="#b0a2ae"/><line x1="-31.7" y1="9.1" x2="-36.5" y2="10.5" stroke="#b9a7c0" stroke-width="1.4"/><line x1="-36.5" y1="10.5" x2="-41" y2="11.8" stroke="#a6aaa2" stroke-width="1.4"/><path d="M-39.4 8.8 L-42 12 L-38.5 12.1 Z" fill="#a6aaa2"/><line x1="-30.1" y1="-13.4" x2="-34.7" y2="-15.5" stroke="#c7a8c0" stroke-width="1.4"/><line x1="-34.7" y1="-15.5" x2="-38.4" y2="-17.1" stroke="#a9a7ad" stroke-width="1.4"/><path d="M-35.2 -18.3 L-39.3 -17.5 L-36.6 -15.2 Z" fill="#a9a7ad"/><circle r="33.7" fill="#d9c3e0"/><circle r="33" fill="#767296"/><circle r="30.7" fill="#d5e1f5"/><circle r="26.3" fill="#7a4a68"/><circle r="25.3" fill="#a82c44"/><circle r="24.3" fill="#d41f2c"/><circle r="23.3" fill="#ec1c24"/></g>
<g transform="translate(1480.3 894.6) scale(1)"><line x1="-3.4" y1="-32.8" x2="-4" y2="-37.8" stroke="#b9a7c0" stroke-width="1.4"/><line x1="-4" y1="-37.8" x2="-4.8" y2="-45.3" stroke="#a9a7ad" stroke-width="1.4"/><path d="M-2.1 -43.1 L-4.9 -46.2 L-5.5 -42.8 Z" fill="#a9a7ad"/><line x1="21.6" y1="-24.9" x2="24.9" y2="-28.7" stroke="#9fb0a0" stroke-width="1.4"/><line x1="24.9" y1="-28.7" x2="27.8" y2="-31.9" stroke="#a8a6a4" stroke-width="1.4"/><path d="M28 -28.5 L28.4 -32.7 L25.4 -30.8 Z" fill="#a8a6a4"/><line x1="32.4" y1="-6.3" x2="37.3" y2="-7.3" stroke="#c7a8c0" stroke-width="1.4"/><line x1="37.3" y1="-7.3" x2="44.7" y2="-8.7" stroke="#a9a7ad" stroke-width="1.4"/><path d="M42.8 -5.9 L45.6 -8.9 L42.1 -9.2 Z" fill="#a9a7ad"/><line x1="21.2" y1="25.3" x2="24.4" y2="29.1" stroke="#c7a0b8" stroke-width="1.4"/><line x1="24.4" y1="29.1" x2="27.4" y2="32.7" stroke="#a3b3a3" stroke-width="1.4"/><path d="M24.1 32.4 L28.1 33.5 L26.7 30.2 Z" fill="#a3b3a3"/><line x1="-16.5" y1="28.6" x2="-19" y2="32.9" stroke="#c0a4c0" stroke-width="1.4"/><line x1="-19" y1="32.9" x2="-21.2" y2="36.7" stroke="#b0a2ae" stroke-width="1.4"/><path d="M-22.1 33.4 L-21.7 37.6 L-19.1 35.1 Z" fill="#b0a2ae"/><line x1="-31.7" y1="9.1" x2="-36.5" y2="10.5" stroke="#b9a7c0" stroke-width="1.4"/><line x1="-36.5" y1="10.5" x2="-41" y2="11.8" stroke="#a6aaa2" stroke-width="1.4"/><path d="M-39.4 8.8 L-42 12 L-38.5 12.1 Z" fill="#a6aaa2"/><line x1="-30.1" y1="-13.4" x2="-34.7" y2="-15.5" stroke="#c7a8c0" stroke-width="1.4"/><line x1="-34.7" y1="-15.5" x2="-38.4" y2="-17.1" stroke="#a9a7ad" stroke-width="1.4"/><path d="M-35.2 -18.3 L-39.3 -17.5 L-36.6 -15.2 Z" fill="#a9a7ad"/><circle r="33.7" fill="#d9c3e0"/><circle r="33" fill="#767296"/><circle r="30.7" fill="#d5e1f5"/><circle r="26.3" fill="#7a4a68"/><circle r="25.3" fill="#a82c44"/><circle r="24.3" fill="#d41f2c"/><circle r="23.3" fill="#ec1c24"/></g>
<circle cx="1429.4" cy="844.5" r="16" fill="#9dd3a8"/>
<rect x="1387.5" y="830.8" width="9.5" height="9.5" rx="1.5" fill="#6a63b4"/><line x1="1395" y1="838" x2="1402.5" y2="843" stroke="#8e93a8" stroke-width="1.8"/>
<circle cx="1386" cy="934.8" r="5.8" fill="#111"/><path d="M1384.5 938 L1382 955 M1387.5 938 L1390 955" stroke="#333" stroke-width="1.5" fill="none"/>
<ellipse cx="1433" cy="953.8" rx="5" ry="10" fill="#4fbccf"/>
<g><g stroke="#3da579" stroke-width="1.8" stroke-linecap="round" opacity="0.85"><line x1="1762.6" y1="861.4" x2="1769.4" y2="842.6"/><line x1="1764.9" y1="861.3" x2="1773.1" y2="838.7"/><line x1="1767.4" y1="861.1" x2="1777.6" y2="832.9"/><line x1="1772.2" y1="858.3" x2="1779.8" y2="837.7"/><line x1="1776.6" y1="858.6" x2="1781.4" y2="845.4"/><line x1="1781.3" y1="863.5" x2="1786.7" y2="848.5"/><line x1="1783.1" y1="867.2" x2="1791.9" y2="842.8"/><line x1="1785.9" y1="867.1" x2="1796.1" y2="838.9"/><line x1="1791.4" y1="866.5" x2="1797.6" y2="849.5"/><line x1="1795.9" y1="861.6" x2="1800.1" y2="850.4"/></g><g stroke="#6a6f92" stroke-width="1.8" fill="#6a6f92"><line x1="1737" y1="871" x2="1744.5" y2="880"/><circle cx="1737" cy="871" r="1.8"/><circle cx="1744.5" cy="880" r="1.8"/><line x1="1790.5" y1="883" x2="1796" y2="892.5"/><circle cx="1790.5" cy="883" r="1.8"/><circle cx="1796" cy="892.5" r="1.8"/></g><path d="M1822.5 877 C1830 880 1838 881 1840 886.5 C1841 893 1833 897 1831.5 904.5" fill="none" stroke="#ef8a26" stroke-width="4" stroke-linecap="round"/><path d="M1772.5 903 C1782 903 1796 905 1799 912 C1800 918 1790 918.5 1784 915 C1779 911 1777 906 1772.5 903Z" fill="#2a2792"/><path d="M1758 914.5 C1750 913 1736 912 1731 919 C1728 925 1738 927 1745 924 C1751 921 1753 917 1758 914.5Z" fill="#ef6f25"/><path d="M1787.5 934 C1779 933.5 1766 933 1761 939 C1758 945 1767 947 1774 944 C1780 941 1783 937 1787.5 934Z" fill="#9dd3a8"/></g>
<polygon points="1611.6,221.5 1623,229.8 1618.7,243.2 1604.5,243.2 1600.2,229.8" fill="#2e2b8e"/>
<path d="M1654 214.6 A8.4 8.4 0 1 0 1655 229.6 A5.2 5.2 0 0 1 1654 214.6Z" fill="#f28a3c"/>
<g transform="translate(1596 319) rotate(-53)" fill="none" stroke-linejoin="round" stroke-linecap="round"><path d="M0 9.5 L0.8 9.3 L1.6 8.6 L2.4 7.4 L3.3 5.9 L4.1 4.1 L4.9 2.1 L5.7 0 L6.5 -2.1 L7.3 -4.1 L8.2 -5.9 L9 -7.4 L9.8 -8.6 L10.6 -9.3 L11.4 -9.5 L12.2 -9.3 L13.1 -8.6 L13.9 -7.4 L14.7 -5.9 L15.5 -4.1 L16.3 -2.1 L17.1 -0 L18 2.1 L18.8 4.1 L19.6 5.9 L20.4 7.4 L21.2 8.6 L22 9.3 L22.9 9.5 L23.7 9.3 L24.5 8.6 L25.3 7.4 L26.1 5.9 L26.9 4.1 L27.7 2.1 L28.6 0 L29.4 -2.1 L30.2 -4.1 L31 -5.9 L31.8 -7.4 L32.6 -8.6 L33.5 -9.3 L34.3 -9.5 L35.1 -9.3 L35.9 -8.6 L36.7 -7.4 L37.5 -5.9 L38.4 -4.1 L39.2 -2.1 L40 -0 L40.8 2.1 L41.6 4.1 L42.4 5.9 L43.3 7.4 L44.1 8.6 L44.9 9.3 L45.7 9.5 L46.5 9.3 L47.3 8.6 L48.1 7.4 L49 5.9 L49.8 4.1 L50.6 2.1 L51.4 0 L52.2 -2.1 L53 -4.1 L53.9 -5.9 L54.7 -7.4 L55.5 -8.6 L56.3 -9.3 L57.1 -9.5 L57.9 -9.3 L58.8 -8.6 L59.6 -7.4 L60.4 -5.9 L61.2 -4.1 L62 -2.1 L62.8 -0 L63.7 2.1 L64.5 4.1 L65.3 5.9 L66.1 7.4 L66.9 8.6 L67.7 9.3 L68.6 9.5 L69.4 9.3 L70.2 8.6 L71 7.4 L71.8 5.9 L72.6 4.1 L73.4 2.1 L74.3 -0 L75.1 -2.1 L75.9 -4.1 L76.7 -5.9 L77.5 -7.4 L78.3 -8.6 L79.2 -9.3 L80 -9.5 L80.8 -9.3 L81.6 -8.6 L82.4 -7.4 L83.2 -5.9 L84.1 -4.1 L84.9 -2.1 L85.7 -0 L86.5 2.1 L87.3 4.1 L88.1 5.9 L89 7.4 L89.8 8.6 L90.6 9.3 L91.4 9.5 L91.4 -9.5 L90.6 -9.3 L89.8 -8.6 L89 -7.4 L88.1 -5.9 L87.3 -4.1 L86.5 -2.1 L85.7 0 L84.9 2.1 L84.1 4.1 L83.2 5.9 L82.4 7.4 L81.6 8.6 L80.8 9.3 L80 9.5 L79.2 9.3 L78.3 8.6 L77.5 7.4 L76.7 5.9 L75.9 4.1 L75.1 2.1 L74.3 0 L73.4 -2.1 L72.6 -4.1 L71.8 -5.9 L71 -7.4 L70.2 -8.6 L69.4 -9.3 L68.6 -9.5 L67.7 -9.3 L66.9 -8.6 L66.1 -7.4 L65.3 -5.9 L64.5 -4.1 L63.7 -2.1 L62.8 0 L62 2.1 L61.2 4.1 L60.4 5.9 L59.6 7.4 L58.8 8.6 L57.9 9.3 L57.1 9.5 L56.3 9.3 L55.5 8.6 L54.7 7.4 L53.9 5.9 L53 4.1 L52.2 2.1 L51.4 -0 L50.6 -2.1 L49.8 -4.1 L49 -5.9 L48.1 -7.4 L47.3 -8.6 L46.5 -9.3 L45.7 -9.5 L44.9 -9.3 L44.1 -8.6 L43.3 -7.4 L42.4 -5.9 L41.6 -4.1 L40.8 -2.1 L40 0 L39.2 2.1 L38.4 4.1 L37.5 5.9 L36.7 7.4 L35.9 8.6 L35.1 9.3 L34.3 9.5 L33.5 9.3 L32.6 8.6 L31.8 7.4 L31 5.9 L30.2 4.1 L29.4 2.1 L28.6 -0 L27.7 -2.1 L26.9 -4.1 L26.1 -5.9 L25.3 -7.4 L24.5 -8.6 L23.7 -9.3 L22.9 -9.5 L22 -9.3 L21.2 -8.6 L20.4 -7.4 L19.6 -5.9 L18.8 -4.1 L18 -2.1 L17.1 0 L16.3 2.1 L15.5 4.1 L14.7 5.9 L13.9 7.4 L13.1 8.6 L12.2 9.3 L11.4 9.5 L10.6 9.3 L9.8 8.6 L9 7.4 L8.2 5.9 L7.3 4.1 L6.5 2.1 L5.7 -0 L4.9 -2.1 L4.1 -4.1 L3.3 -5.9 L2.4 -7.4 L1.6 -8.6 L0.8 -9.3 L0 -9.5Z" fill="#d3ecd6" fill-rule="evenodd"/><path d="M0 -9.5 L0.8 -9.3 L1.6 -8.6 L2.4 -7.4 L3.3 -5.9 L4.1 -4.1 L4.9 -2.1 L5.7 -0 L6.5 2.1 L7.3 4.1 L8.2 5.9 L9 7.4 L9.8 8.6 L10.6 9.3 L11.4 9.5 L12.2 9.3 L13.1 8.6 L13.9 7.4 L14.7 5.9 L15.5 4.1 L16.3 2.1 L17.1 0 L18 -2.1 L18.8 -4.1 L19.6 -5.9 L20.4 -7.4 L21.2 -8.6 L22 -9.3 L22.9 -9.5 L23.7 -9.3 L24.5 -8.6 L25.3 -7.4 L26.1 -5.9 L26.9 -4.1 L27.7 -2.1 L28.6 -0 L29.4 2.1 L30.2 4.1 L31 5.9 L31.8 7.4 L32.6 8.6 L33.5 9.3 L34.3 9.5 L35.1 9.3 L35.9 8.6 L36.7 7.4 L37.5 5.9 L38.4 4.1 L39.2 2.1 L40 0 L40.8 -2.1 L41.6 -4.1 L42.4 -5.9 L43.3 -7.4 L44.1 -8.6 L44.9 -9.3 L45.7 -9.5 L46.5 -9.3 L47.3 -8.6 L48.1 -7.4 L49 -5.9 L49.8 -4.1 L50.6 -2.1 L51.4 -0 L52.2 2.1 L53 4.1 L53.9 5.9 L54.7 7.4 L55.5 8.6 L56.3 9.3 L57.1 9.5 L57.9 9.3 L58.8 8.6 L59.6 7.4 L60.4 5.9 L61.2 4.1 L62 2.1 L62.8 0 L63.7 -2.1 L64.5 -4.1 L65.3 -5.9 L66.1 -7.4 L66.9 -8.6 L67.7 -9.3 L68.6 -9.5 L69.4 -9.3 L70.2 -8.6 L71 -7.4 L71.8 -5.9 L72.6 -4.1 L73.4 -2.1 L74.3 0 L75.1 2.1 L75.9 4.1 L76.7 5.9 L77.5 7.4 L78.3 8.6 L79.2 9.3 L80 9.5 L80.8 9.3 L81.6 8.6 L82.4 7.4 L83.2 5.9 L84.1 4.1 L84.9 2.1 L85.7 0 L86.5 -2.1 L87.3 -4.1 L88.1 -5.9 L89 -7.4 L89.8 -8.6 L90.6 -9.3 L91.4 -9.5" stroke="#6fa88a" stroke-width="2.6"/><path d="M0 9.5 L0.8 9.3 L1.6 8.6 L2.4 7.4 L3.3 5.9 L4.1 4.1 L4.9 2.1 L5.7 0 L6.5 -2.1 L7.3 -4.1 L8.2 -5.9 L9 -7.4 L9.8 -8.6 L10.6 -9.3 L11.4 -9.5 L12.2 -9.3 L13.1 -8.6 L13.9 -7.4 L14.7 -5.9 L15.5 -4.1 L16.3 -2.1 L17.1 -0 L18 2.1 L18.8 4.1 L19.6 5.9 L20.4 7.4 L21.2 8.6 L22 9.3 L22.9 9.5 L23.7 9.3 L24.5 8.6 L25.3 7.4 L26.1 5.9 L26.9 4.1 L27.7 2.1 L28.6 0 L29.4 -2.1 L30.2 -4.1 L31 -5.9 L31.8 -7.4 L32.6 -8.6 L33.5 -9.3 L34.3 -9.5 L35.1 -9.3 L35.9 -8.6 L36.7 -7.4 L37.5 -5.9 L38.4 -4.1 L39.2 -2.1 L40 -0 L40.8 2.1 L41.6 4.1 L42.4 5.9 L43.3 7.4 L44.1 8.6 L44.9 9.3 L45.7 9.5 L46.5 9.3 L47.3 8.6 L48.1 7.4 L49 5.9 L49.8 4.1 L50.6 2.1 L51.4 0 L52.2 -2.1 L53 -4.1 L53.9 -5.9 L54.7 -7.4 L55.5 -8.6 L56.3 -9.3 L57.1 -9.5 L57.9 -9.3 L58.8 -8.6 L59.6 -7.4 L60.4 -5.9 L61.2 -4.1 L62 -2.1 L62.8 -0 L63.7 2.1 L64.5 4.1 L65.3 5.9 L66.1 7.4 L66.9 8.6 L67.7 9.3 L68.6 9.5 L69.4 9.3 L70.2 8.6 L71 7.4 L71.8 5.9 L72.6 4.1 L73.4 2.1 L74.3 -0 L75.1 -2.1 L75.9 -4.1 L76.7 -5.9 L77.5 -7.4 L78.3 -8.6 L79.2 -9.3 L80 -9.5 L80.8 -9.3 L81.6 -8.6 L82.4 -7.4 L83.2 -5.9 L84.1 -4.1 L84.9 -2.1 L85.7 -0 L86.5 2.1 L87.3 4.1 L88.1 5.9 L89 7.4 L89.8 8.6 L90.6 9.3 L91.4 9.5" stroke="#0b9648" stroke-width="3.2"/></g>
<line x1="1583" y1="315" x2="1595" y2="320" stroke="#3aa173" stroke-width="2.4"/>
<circle cx="1670" cy="283" r="11.5" fill="#a8d8b0"/>
<path d="M1652.5 299 L1650.5 320 L1631 312.6 L1629 332 L1610.2 325.8 L1608.5 354" fill="none" stroke="#ee8326" stroke-width="4.2" stroke-linejoin="round" stroke-linecap="round"/>
<g stroke="#e58a2c" stroke-width="3.0" fill="none" stroke-linecap="round" stroke-linejoin="round"><line x1="1565.3" y1="308.5" x2="1589.8" y2="361"/><path d="M1577.8 336.5C1577.2 334.8 1572.4 334.8 1570 335C1567.6 335.2 1564.5 335.8 1563.5 337.5C1562.5 339.2 1563.2 343 1564 345C1564.8 347 1566.9 349.5 1568.5 349.5C1570.1 349.5 1572 347.2 1573.5 345C1575 342.8 1578.4 338.2 1577.8 336.5Z" stroke="#dc9a4c" stroke-width="2.6"/></g>
<g stroke="#ea7f1f" stroke-width="4.4" fill="none" stroke-linecap="round" stroke-linejoin="round"><line x1="863.7" y1="880" x2="904.7" y2="835"/><path d="M876.5 843.2 L867.5 854.4 L885 855.6Z" stroke="#ea7f1f" stroke-width="3.8"/></g>
<g stroke="#ee8326" stroke-width="4.6" fill="none" stroke-linecap="round"><line x1="933.2" y1="851.8" x2="933.2" y2="823.5"/><line x1="933.2" y1="851.8" x2="909" y2="852.6"/><line x1="933.2" y1="851.8" x2="933.2" y2="882.5"/><circle cx="933.2" cy="823.5" r="3.5" fill="#fdf0dc" stroke="#e89548" stroke-width="2.3"/><circle cx="909" cy="852.6" r="3.5" fill="#fdf0dc" stroke="#e89548" stroke-width="2.3"/><circle cx="933.2" cy="851.8" r="9.4" fill="#b9def0" stroke="#d29660" stroke-width="2.6"/></g>
<g stroke="#ee8326" stroke-width="4.6" fill="none" stroke-linecap="round"><line x1="973.4" y1="876.7" x2="999" y2="861"/><line x1="973.4" y1="876.7" x2="948.3" y2="892"/><line x1="973.4" y1="876.7" x2="986.7" y2="896.5"/><circle cx="948.3" cy="892" r="3.5" fill="#fdf0dc" stroke="#e89548" stroke-width="2.3"/><circle cx="986.7" cy="896.5" r="3.5" fill="#fdf0dc" stroke="#e89548" stroke-width="2.3"/><circle cx="973.4" cy="876.7" r="9.4" fill="#b9def0" stroke="#d29660" stroke-width="2.6"/></g>
<g stroke="#ee8326" stroke-width="4.6" fill="none" stroke-linecap="round"><line x1="529" y1="898" x2="556" y2="881"/><line x1="529" y1="898" x2="505" y2="912"/><line x1="529" y1="898" x2="542.5" y2="917.5"/><circle cx="505" cy="912" r="3.5" fill="#fdf0dc" stroke="#e89548" stroke-width="2.3"/><circle cx="542.5" cy="917.5" r="3.5" fill="#fdf0dc" stroke="#e89548" stroke-width="2.3"/><circle cx="529" cy="898" r="9.4" fill="#7f96b2" stroke="#a59383" stroke-width="2.6"/></g>
<path d="M499 946 L525.2 946 L525.2 941 C516.6 939.5 519.1 931.5 527.6 931.5 C536.1 931.5 538.6 939.5 530 941 L530 946 L559 946" fill="none" stroke="#ee8326" stroke-width="3.8" stroke-linejoin="round" stroke-linecap="round"/>
<g stroke="#ee8326" stroke-width="4.6" fill="none" stroke-linecap="round"><line x1="1151.5" y1="998.5" x2="1151.5" y2="970"/><line x1="1151.5" y1="998.5" x2="1126.5" y2="999.7"/><line x1="1151.5" y1="998.5" x2="1151.5" y2="1030.5"/><circle cx="1151.5" cy="970" r="3.5" fill="#fdf0dc" stroke="#e89548" stroke-width="2.3"/><circle cx="1126.5" cy="999.7" r="3.5" fill="#fdf0dc" stroke="#e89548" stroke-width="2.3"/><circle cx="1151.5" cy="998.5" r="9.4" fill="#7f96b2" stroke="#a59383" stroke-width="2.6"/></g>
<g stroke="#ee8326" stroke-width="4.6" fill="none" stroke-linecap="round"><line x1="1191.6" y1="1023.8" x2="1218.5" y2="1008.3"/><line x1="1191.6" y1="1023.8" x2="1167" y2="1038.8"/><line x1="1191.6" y1="1023.8" x2="1205.3" y2="1043.9"/><circle cx="1167" cy="1038.8" r="3.5" fill="#fdf0dc" stroke="#e89548" stroke-width="2.3"/><circle cx="1205.3" cy="1043.9" r="3.5" fill="#fdf0dc" stroke="#e89548" stroke-width="2.3"/><circle cx="1191.6" cy="1023.8" r="9.4" fill="#7f96b2" stroke="#a59383" stroke-width="2.6"/></g>
<path d="M1094.6 1053.9 L1120.4 1053.9 L1120.4 1048.4 C1111.3 1046.9 1113.8 1037.2 1122.8 1037.2 C1131.8 1037.2 1134.3 1046.9 1125.2 1048.4 L1125.2 1053.9 L1155.6 1053.9" fill="none" stroke="#ee8326" stroke-width="4.2" stroke-linejoin="round" stroke-linecap="round"/>
<g stroke-linejoin="round"><path d="M286.8 1027.7 L287.8 1026.8 L289 1025.8 L290.4 1024.5 L292 1023.1 L293.7 1021.6 L295.6 1020 L297.5 1018.3 L299.5 1016.5 L301.6 1014.8 L303.6 1013 L305.7 1011.2 L308 1009.2 L310.4 1007.1 L312.9 1004.9 L315.4 1002.7 L317.9 1000.5 L320.4 998.3 L322.8 996.2 L325 994.3 L327.1 992.5 L329 990.8 L330.8 989.1 L332.5 987.6 L334.1 986 L335.6 984.6 L337.1 983.2 L338.6 981.9 L340 980.8 L341.4 979.7 L342.8 978.8 L344.1 978 L345.4 977.3 L346.6 976.8 L347.8 976.3 L348.9 976 L350.1 975.7 L351.2 975.5 L352.3 975.4 L353.5 975.3 L354.7 975.3 L371.7 972.1 L370.5 972.1 L369.3 972.2 L368.2 972.3 L367.1 972.5 L365.9 972.8 L364.8 973.1 L363.6 973.6 L362.4 974.1 L361.1 974.8 L359.8 975.6 L358.4 976.5 L357 977.6 L355.6 978.7 L354.1 980 L352.6 981.4 L351.1 982.8 L349.5 984.4 L347.8 985.9 L346 987.6 L344.1 989.3 L342 991.1 L339.8 993 L337.4 995.1 L334.9 997.3 L332.4 999.5 L329.9 1001.7 L327.4 1003.9 L325 1006 L322.7 1008 L320.6 1009.8 L318.6 1011.6 L316.5 1013.3 L314.5 1015.1 L312.6 1016.8 L310.7 1018.4 L309 1019.9 L307.4 1021.3 L306 1022.6 L304.8 1023.6 L303.8 1024.5Z" fill="#858eb8" stroke="#858eb8" stroke-width="1.6"/><path d="M294.5 1026.2 L295.4 1025.4 L296.6 1024.3 L298.1 1023.1 L299.7 1021.7 L301.4 1020.2 L303.3 1018.6 L305.2 1016.9 L307.2 1015.1 L309.2 1013.3 L311.3 1011.6 L313.4 1009.7 L315.6 1007.7 L318.1 1005.6 L320.5 1003.5 L323.1 1001.2 L325.6 999 L328.1 996.9 L330.4 994.8 L332.7 992.8 L334.7 991 L336.6 989.4 L338.4 987.7 L340.1 986.1 L341.7 984.6 L343.3 983.1 L344.8 981.8 L346.2 980.5 L347.6 979.3 L349 978.3 L350.4 977.4 L351.7 976.6 L353 975.9 L354.2 975.4 L355.4 974.9 L356.6 974.6 L357.7 974.3 L358.8 974.1 L360 974 L361.2 973.9 L362.4 973.8 L369.6 972.5 L368.4 972.5 L367.2 972.6 L366.1 972.7 L364.9 972.9 L363.8 973.2 L362.6 973.5 L361.5 974 L360.2 974.5 L359 975.2 L357.6 976 L356.2 976.9 L354.9 978 L353.4 979.1 L352 980.4 L350.5 981.8 L349 983.2 L347.4 984.8 L345.7 986.3 L343.9 988 L342 989.7 L339.9 991.5 L337.7 993.4 L335.3 995.5 L332.8 997.7 L330.3 999.9 L327.8 1002.1 L325.3 1004.3 L322.9 1006.4 L320.6 1008.4 L318.5 1010.2 L316.5 1012 L314.4 1013.7 L312.4 1015.5 L310.5 1017.2 L308.6 1018.8 L306.9 1020.3 L305.3 1021.7 L303.9 1023 L302.7 1024 L301.7 1024.9Z" fill="#6a75a5" stroke="#6a75a5" stroke-width="0.6"/><path d="M286.2 1027.7 L287.2 1026.8 L288.4 1025.8 L289.8 1024.5 L291.4 1023.1 L293.1 1021.6 L295 1020 L296.9 1018.3 L298.9 1016.5 L301 1014.8 L303 1013 L305.1 1011.2 L307.4 1009.2 L309.8 1007.1 L312.3 1004.9 L314.8 1002.7 L317.3 1000.5 L319.8 998.3 L322.2 996.2 L324.4 994.3 L326.5 992.5 L328.4 990.8 L330.2 989.1 L331.9 987.6 L333.5 986 L335 984.6 L336.5 983.2 L338 981.9 L339.4 980.8 L340.8 979.7 L342.2 978.8 L343.5 978 L344.8 977.3 L346 976.8 L347.2 976.3 L348.3 976 L349.5 975.7 L350.6 975.5 L351.7 975.4 L352.9 975.3 L354.1 975.3 L358.5 974.6 L357.3 974.6 L356.2 974.7 L355 974.8 L353.9 975 L352.7 975.3 L351.6 975.6 L350.4 976.1 L349.2 976.6 L347.9 977.3 L346.6 978.1 L345.2 979 L343.8 980.1 L342.4 981.2 L341 982.5 L339.5 983.9 L337.9 985.3 L336.3 986.8 L334.6 988.4 L332.8 990.1 L330.9 991.8 L328.9 993.6 L326.6 995.5 L324.2 997.6 L321.8 999.8 L319.2 1002 L316.7 1004.2 L314.2 1006.3 L311.8 1008.4 L309.5 1010.4 L307.4 1012.3 L305.4 1014.1 L303.4 1015.8 L301.4 1017.6 L299.4 1019.3 L297.6 1020.9 L295.8 1022.4 L294.2 1023.8 L292.8 1025 L291.6 1026.1 L290.7 1026.9Z" fill="#a9b0cf"/><path d="M439.8 1028.4 L440.9 1028.4 L441.9 1028.3 L442.9 1028.2 L443.8 1028 L444.8 1027.7 L445.7 1027.3 L446.7 1026.9 L447.8 1026.4 L448.9 1025.7 L450 1024.9 L451.3 1024 L452.5 1022.9 L453.8 1021.8 L455.2 1020.5 L456.5 1019.2 L458 1017.7 L459.5 1016.2 L461 1014.7 L462.6 1013.1 L464.3 1011.5 L466.1 1009.8 L468 1008 L470.1 1006.1 L472.2 1004.1 L474.3 1002.1 L476.5 1000.1 L478.5 998.1 L480.6 996.2 L482.5 994.4 L484.2 992.8 L485.8 991.3 L487.3 989.8 L488.7 988.3 L490.1 986.9 L491.4 985.6 L492.6 984.4 L493.8 983.2 L495.1 982.1 L496.3 981.2 L497.5 980.3 L498.8 979.6 L500 978.9 L501.2 978.4 L502.4 977.9 L503.5 977.6 L504.7 977.3 L505.9 977.1 L507.1 976.9 L508.3 976.8 L509.5 976.8 L526.5 973.6 L525.3 973.6 L524.1 973.7 L522.9 973.9 L521.7 974.1 L520.5 974.4 L519.4 974.7 L518.2 975.2 L517 975.7 L515.8 976.4 L514.5 977.1 L513.3 978 L512.1 978.9 L510.8 980 L509.6 981.2 L508.4 982.4 L507.1 983.7 L505.7 985.1 L504.3 986.6 L502.8 988.1 L501.2 989.6 L499.5 991.2 L497.6 993 L495.5 994.9 L493.5 996.9 L491.3 998.9 L489.2 1000.9 L487.1 1002.9 L485 1004.8 L483.1 1006.6 L481.3 1008.3 L479.6 1009.9 L478 1011.5 L476.5 1013 L475 1014.5 L473.5 1016 L472.2 1017.3 L470.8 1018.6 L469.5 1019.7 L468.3 1020.8 L467 1021.7 L465.9 1022.5 L464.8 1023.2 L463.7 1023.7 L462.7 1024.1 L461.8 1024.5 L460.8 1024.8 L459.9 1025 L458.9 1025.1 L457.9 1025.2 L456.8 1025.2Z" fill="#858eb8" stroke="#858eb8" stroke-width="1.6"/><path d="M447.5 1027 L448.5 1026.9 L449.5 1026.9 L450.5 1026.7 L451.5 1026.5 L452.4 1026.3 L453.4 1025.9 L454.4 1025.5 L455.4 1024.9 L456.5 1024.3 L457.7 1023.5 L458.9 1022.6 L460.2 1021.5 L461.5 1020.3 L462.8 1019.1 L464.2 1017.7 L465.6 1016.3 L467.1 1014.8 L468.7 1013.3 L470.3 1011.7 L471.9 1010.1 L473.7 1008.4 L475.7 1006.6 L477.7 1004.7 L479.8 1002.7 L482 1000.7 L484.1 998.7 L486.2 996.7 L488.2 994.8 L490.1 993 L491.9 991.4 L493.5 989.8 L495 988.3 L496.4 986.9 L497.7 985.5 L499 984.2 L500.3 982.9 L501.5 981.8 L502.7 980.7 L503.9 979.7 L505.2 978.9 L506.4 978.1 L507.6 977.5 L508.8 976.9 L510 976.5 L511.2 976.1 L512.4 975.8 L513.5 975.6 L514.7 975.5 L515.9 975.4 L517.1 975.3 L524.4 974 L523.1 974 L521.9 974.1 L520.8 974.3 L519.6 974.5 L518.4 974.8 L517.2 975.1 L516.1 975.6 L514.9 976.1 L513.6 976.8 L512.4 977.5 L511.1 978.4 L509.9 979.3 L508.7 980.4 L507.5 981.6 L506.2 982.8 L505 984.1 L503.6 985.5 L502.2 987 L500.7 988.5 L499.1 990 L497.3 991.6 L495.4 993.4 L493.4 995.3 L491.3 997.3 L489.2 999.3 L487 1001.3 L484.9 1003.3 L482.9 1005.2 L480.9 1007 L479.2 1008.7 L477.5 1010.3 L475.9 1011.9 L474.3 1013.4 L472.9 1014.9 L471.4 1016.4 L470 1017.7 L468.7 1019 L467.4 1020.1 L466.1 1021.2 L464.9 1022.1 L463.7 1022.9 L462.6 1023.6 L461.6 1024.1 L460.6 1024.5 L459.6 1024.9 L458.7 1025.2 L457.7 1025.4 L456.8 1025.5 L455.8 1025.6 L454.7 1025.6Z" fill="#6a75a5" stroke="#6a75a5" stroke-width="0.6"/><path d="M439.2 1028.4 L440.3 1028.4 L441.3 1028.3 L442.3 1028.2 L443.2 1028 L444.2 1027.7 L445.1 1027.3 L446.1 1026.9 L447.2 1026.4 L448.3 1025.7 L449.4 1024.9 L450.7 1024 L451.9 1022.9 L453.2 1021.8 L454.6 1020.5 L455.9 1019.2 L457.4 1017.7 L458.9 1016.2 L460.4 1014.7 L462 1013.1 L463.7 1011.5 L465.5 1009.8 L467.4 1008 L469.5 1006.1 L471.6 1004.1 L473.7 1002.1 L475.9 1000.1 L477.9 998.1 L480 996.2 L481.9 994.4 L483.6 992.8 L485.2 991.3 L486.7 989.8 L488.1 988.3 L489.5 986.9 L490.8 985.6 L492 984.4 L493.2 983.2 L494.5 982.1 L495.7 981.2 L496.9 980.3 L498.2 979.6 L499.4 978.9 L500.6 978.4 L501.8 977.9 L502.9 977.6 L504.1 977.3 L505.3 977.1 L506.5 976.9 L507.7 976.8 L508.9 976.8 L513.3 976.1 L512.1 976.1 L510.9 976.2 L509.7 976.3 L508.5 976.6 L507.4 976.8 L506.2 977.2 L505 977.7 L503.8 978.2 L502.6 978.8 L501.3 979.6 L500.1 980.4 L498.9 981.4 L497.7 982.5 L496.4 983.6 L495.2 984.9 L493.9 986.2 L492.6 987.6 L491.2 989 L489.7 990.5 L488 992.1 L486.3 993.7 L484.4 995.5 L482.4 997.4 L480.3 999.4 L478.1 1001.4 L476 1003.4 L473.9 1005.4 L471.8 1007.3 L469.9 1009.1 L468.1 1010.8 L466.4 1012.4 L464.8 1014 L463.3 1015.5 L461.8 1017 L460.4 1018.4 L459 1019.8 L457.7 1021.1 L456.4 1022.2 L455.1 1023.3 L453.9 1024.2 L452.7 1025 L451.6 1025.6 L450.5 1026.2 L449.6 1026.6 L448.6 1027 L447.6 1027.3 L446.7 1027.5 L445.7 1027.6 L444.7 1027.7 L443.7 1027.7Z" fill="#a9b0cf"/><path d="M598.1 1029.9 L599.2 1029.9 L600.2 1029.8 L601.2 1029.7 L602.1 1029.5 L603.1 1029.2 L604.1 1028.9 L605 1028.4 L606.1 1027.9 L607.2 1027.2 L608.3 1026.4 L609.5 1025.5 L610.7 1024.5 L612 1023.3 L613.3 1022 L614.6 1020.7 L616 1019.2 L617.4 1017.8 L618.9 1016.2 L620.4 1014.6 L622 1013 L623.8 1011.4 L625.6 1009.5 L627.6 1007.6 L629.6 1005.6 L631.7 1003.6 L633.8 1001.6 L635.8 999.6 L637.7 997.7 L639.6 996 L641.2 994.3 L642.8 992.8 L644.2 991.3 L645.6 989.8 L646.9 988.4 L648.1 987.1 L649.3 985.9 L650.5 984.7 L651.6 983.6 L652.8 982.7 L654 981.8 L655.3 981.1 L656.5 980.4 L657.7 979.9 L658.9 979.4 L660 979.1 L661.2 978.8 L662.4 978.6 L663.6 978.4 L664.8 978.3 L666 978.3 L683 975.1 L681.8 975.1 L680.6 975.2 L679.4 975.4 L678.2 975.6 L677 975.9 L675.9 976.2 L674.7 976.7 L673.5 977.2 L672.3 977.9 L671 978.6 L669.8 979.5 L668.6 980.4 L667.5 981.5 L666.3 982.7 L665.1 983.9 L663.9 985.2 L662.6 986.6 L661.2 988.1 L659.8 989.6 L658.2 991.1 L656.6 992.8 L654.7 994.5 L652.8 996.4 L650.8 998.4 L648.7 1000.4 L646.6 1002.4 L644.6 1004.4 L642.6 1006.3 L640.8 1008.2 L639 1009.8 L637.4 1011.4 L635.9 1013 L634.4 1014.6 L633 1016 L631.6 1017.5 L630.3 1018.8 L629 1020.1 L627.7 1021.3 L626.5 1022.3 L625.3 1023.2 L624.2 1024 L623.1 1024.7 L622 1025.2 L621.1 1025.7 L620.1 1026 L619.1 1026.3 L618.2 1026.5 L617.2 1026.6 L616.2 1026.7 L615.1 1026.7Z" fill="#858eb8" stroke="#858eb8" stroke-width="1.6"/><path d="M605.8 1028.5 L606.8 1028.5 L607.8 1028.4 L608.8 1028.2 L609.8 1028 L610.7 1027.8 L611.7 1027.4 L612.7 1027 L613.7 1026.4 L614.8 1025.8 L616 1025 L617.2 1024.1 L618.4 1023 L619.7 1021.9 L620.9 1020.6 L622.3 1019.2 L623.6 1017.8 L625.1 1016.3 L626.5 1014.8 L628.1 1013.2 L629.7 1011.6 L631.4 1009.9 L633.3 1008.1 L635.2 1006.2 L637.3 1004.2 L639.3 1002.2 L641.4 1000.2 L643.4 998.2 L645.4 996.3 L647.2 994.5 L648.9 992.9 L650.4 991.3 L651.9 989.8 L653.2 988.4 L654.5 987 L655.7 985.7 L656.9 984.4 L658.1 983.3 L659.3 982.2 L660.5 981.2 L661.7 980.4 L662.9 979.6 L664.1 979 L665.3 978.5 L666.5 978 L667.7 977.6 L668.9 977.4 L670 977.1 L671.2 977 L672.4 976.9 L673.7 976.9 L680.9 975.5 L679.7 975.5 L678.5 975.6 L677.3 975.8 L676.1 976 L674.9 976.3 L673.7 976.6 L672.5 977.1 L671.4 977.6 L670.1 978.3 L668.9 979 L667.7 979.9 L666.5 980.8 L665.3 981.9 L664.2 983.1 L663 984.3 L661.7 985.6 L660.5 987 L659.1 988.5 L657.7 990 L656.1 991.5 L654.4 993.2 L652.6 994.9 L650.7 996.8 L648.6 998.8 L646.6 1000.8 L644.5 1002.8 L642.5 1004.8 L640.5 1006.7 L638.6 1008.6 L636.9 1010.2 L635.3 1011.8 L633.8 1013.4 L632.3 1015 L630.9 1016.4 L629.5 1017.9 L628.2 1019.2 L626.9 1020.5 L625.6 1021.7 L624.4 1022.7 L623.2 1023.6 L622 1024.4 L620.9 1025.1 L619.9 1025.6 L618.9 1026.1 L618 1026.4 L617 1026.7 L616 1026.9 L615.1 1027 L614.1 1027.1 L613 1027.1Z" fill="#6a75a5" stroke="#6a75a5" stroke-width="0.6"/><path d="M597.5 1029.9 L598.6 1029.9 L599.6 1029.8 L600.6 1029.7 L601.5 1029.5 L602.5 1029.2 L603.5 1028.9 L604.4 1028.4 L605.5 1027.9 L606.6 1027.2 L607.7 1026.4 L608.9 1025.5 L610.1 1024.5 L611.4 1023.3 L612.7 1022 L614 1020.7 L615.4 1019.2 L616.8 1017.8 L618.3 1016.2 L619.8 1014.6 L621.4 1013 L623.2 1011.4 L625 1009.5 L627 1007.6 L629 1005.6 L631.1 1003.6 L633.2 1001.6 L635.2 999.6 L637.1 997.7 L639 996 L640.6 994.3 L642.2 992.8 L643.6 991.3 L645 989.8 L646.3 988.4 L647.5 987.1 L648.7 985.9 L649.9 984.7 L651 983.6 L652.2 982.7 L653.4 981.8 L654.7 981.1 L655.9 980.4 L657.1 979.9 L658.3 979.4 L659.4 979.1 L660.6 978.8 L661.8 978.6 L663 978.4 L664.2 978.3 L665.4 978.3 L669.8 977.6 L668.6 977.6 L667.4 977.7 L666.2 977.9 L665 978.1 L663.9 978.4 L662.7 978.7 L661.5 979.2 L660.3 979.7 L659.1 980.4 L657.9 981.1 L656.7 982 L655.5 982.9 L654.3 984 L653.1 985.2 L651.9 986.4 L650.7 987.7 L649.4 989.1 L648 990.5 L646.6 992 L645.1 993.6 L643.4 995.2 L641.5 997 L639.6 998.9 L637.6 1000.9 L635.5 1002.9 L633.5 1004.9 L631.4 1006.9 L629.5 1008.8 L627.6 1010.6 L625.9 1012.3 L624.2 1013.9 L622.7 1015.5 L621.2 1017 L619.8 1018.5 L618.4 1020 L617.1 1021.3 L615.8 1022.6 L614.6 1023.7 L613.3 1024.8 L612.1 1025.7 L611 1026.5 L609.9 1027.1 L608.9 1027.7 L607.9 1028.1 L606.9 1028.5 L606 1028.8 L605 1029 L604 1029.1 L603 1029.2 L601.9 1029.2Z" fill="#a9b0cf"/><path d="M756.4 1031.4 L757.5 1031.4 L758.5 1031.3 L759.4 1031.2 L760.4 1031 L761.3 1030.7 L762.3 1030.4 L763.3 1029.9 L764.3 1029.4 L765.4 1028.7 L766.6 1027.9 L767.8 1027 L769.1 1026 L770.4 1024.8 L771.7 1023.5 L773.1 1022.2 L774.5 1020.8 L776 1019.3 L777.6 1017.7 L779.2 1016.2 L780.8 1014.6 L782.6 1012.9 L784.6 1011.1 L786.6 1009.1 L788.7 1007.2 L790.9 1005.1 L793 1003.1 L795.1 1001.2 L797.1 999.3 L799 997.5 L800.8 995.8 L802.4 994.3 L803.9 992.8 L805.3 991.4 L806.7 990 L807.9 988.7 L809.2 987.4 L810.4 986.3 L811.6 985.2 L812.8 984.2 L814.1 983.4 L815.3 982.6 L816.6 982 L817.7 981.5 L818.9 981 L820.1 980.6 L821.3 980.4 L822.4 980.1 L823.6 980 L824.8 979.9 L826 979.9 L843 976.7 L841.8 976.7 L840.6 976.8 L839.4 976.9 L838.3 977.2 L837.1 977.4 L835.9 977.8 L834.7 978.3 L833.6 978.8 L832.3 979.4 L831.1 980.2 L829.8 981 L828.6 982 L827.4 983.1 L826.2 984.2 L824.9 985.5 L823.7 986.8 L822.3 988.2 L820.9 989.6 L819.4 991.1 L817.8 992.6 L816 994.3 L814.1 996.1 L812.1 998 L810 999.9 L807.9 1001.9 L805.7 1004 L803.6 1005.9 L801.6 1007.9 L799.6 1009.7 L797.8 1011.4 L796.2 1013 L794.6 1014.5 L793 1016.1 L791.5 1017.6 L790.1 1019 L788.7 1020.3 L787.4 1021.6 L786.1 1022.8 L784.8 1023.8 L783.6 1024.7 L782.4 1025.5 L781.3 1026.2 L780.3 1026.7 L779.3 1027.2 L778.3 1027.5 L777.4 1027.8 L776.4 1028 L775.5 1028.1 L774.5 1028.2 L773.4 1028.2Z" fill="#858eb8" stroke="#858eb8" stroke-width="1.6"/><path d="M764 1030 L765.1 1030 L766.1 1029.9 L767.1 1029.7 L768 1029.5 L769 1029.3 L769.9 1028.9 L770.9 1028.5 L772 1027.9 L773.1 1027.3 L774.3 1026.5 L775.5 1025.6 L776.7 1024.5 L778 1023.4 L779.4 1022.1 L780.8 1020.7 L782.2 1019.3 L783.7 1017.8 L785.2 1016.3 L786.8 1014.7 L788.5 1013.1 L790.3 1011.4 L792.2 1009.6 L794.3 1007.7 L796.4 1005.7 L798.5 1003.7 L800.7 1001.7 L802.8 999.7 L804.8 997.8 L806.7 996 L808.4 994.4 L810 992.9 L811.5 991.4 L813 989.9 L814.3 988.5 L815.6 987.2 L816.8 986 L818.1 984.8 L819.3 983.8 L820.5 982.8 L821.7 981.9 L823 981.2 L824.2 980.6 L825.4 980 L826.6 979.6 L827.8 979.2 L828.9 978.9 L830.1 978.7 L831.3 978.6 L832.5 978.5 L833.7 978.4 L840.9 977.1 L839.7 977.1 L838.5 977.2 L837.3 977.3 L836.1 977.6 L835 977.8 L833.8 978.2 L832.6 978.7 L831.4 979.2 L830.2 979.8 L829 980.6 L827.7 981.4 L826.5 982.4 L825.3 983.5 L824.1 984.6 L822.8 985.9 L821.5 987.2 L820.2 988.6 L818.8 990 L817.3 991.5 L815.7 993 L813.9 994.7 L812 996.5 L810 998.4 L807.9 1000.3 L805.8 1002.3 L803.6 1004.4 L801.5 1006.3 L799.5 1008.3 L797.5 1010.1 L795.7 1011.8 L794 1013.4 L792.4 1014.9 L790.9 1016.5 L789.4 1018 L788 1019.4 L786.6 1020.7 L785.3 1022 L784 1023.2 L782.7 1024.2 L781.5 1025.1 L780.3 1025.9 L779.2 1026.6 L778.2 1027.1 L777.2 1027.6 L776.2 1027.9 L775.3 1028.2 L774.3 1028.4 L773.3 1028.5 L772.3 1028.6 L771.3 1028.6Z" fill="#6a75a5" stroke="#6a75a5" stroke-width="0.6"/><path d="M755.8 1031.4 L756.9 1031.4 L757.9 1031.3 L758.8 1031.2 L759.8 1031 L760.7 1030.7 L761.7 1030.4 L762.7 1029.9 L763.7 1029.4 L764.8 1028.7 L766 1027.9 L767.2 1027 L768.5 1026 L769.8 1024.8 L771.1 1023.5 L772.5 1022.2 L773.9 1020.8 L775.4 1019.3 L777 1017.7 L778.6 1016.2 L780.2 1014.6 L782 1012.9 L784 1011.1 L786 1009.1 L788.1 1007.2 L790.3 1005.1 L792.4 1003.1 L794.5 1001.2 L796.5 999.3 L798.4 997.5 L800.2 995.8 L801.8 994.3 L803.3 992.8 L804.7 991.4 L806.1 990 L807.3 988.7 L808.6 987.4 L809.8 986.3 L811 985.2 L812.2 984.2 L813.5 983.4 L814.7 982.6 L816 982 L817.1 981.5 L818.3 981 L819.5 980.6 L820.7 980.4 L821.8 980.1 L823 980 L824.2 979.9 L825.4 979.9 L829.9 979.1 L828.7 979.2 L827.5 979.3 L826.3 979.4 L825.1 979.6 L823.9 979.9 L822.8 980.3 L821.6 980.7 L820.4 981.3 L819.2 981.9 L817.9 982.7 L816.7 983.5 L815.4 984.5 L814.2 985.5 L813 986.7 L811.8 987.9 L810.5 989.3 L809.1 990.6 L807.7 992.1 L806.2 993.6 L804.6 995.1 L802.9 996.8 L801 998.6 L798.9 1000.4 L796.8 1002.4 L794.7 1004.4 L792.6 1006.4 L790.4 1008.4 L788.4 1010.3 L786.5 1012.2 L784.7 1013.8 L783 1015.4 L781.4 1017 L779.9 1018.5 L778.4 1020 L776.9 1021.5 L775.6 1022.8 L774.2 1024.1 L772.9 1025.2 L771.7 1026.3 L770.4 1027.2 L769.2 1028 L768.1 1028.6 L767.1 1029.2 L766.1 1029.6 L765.2 1030 L764.2 1030.3 L763.3 1030.5 L762.3 1030.6 L761.3 1030.7 L760.2 1030.7Z" fill="#a9b0cf"/><path d="M318.5 1027.7 L319.5 1026.8 L320.7 1025.8 L322.1 1024.5 L323.7 1023.1 L325.4 1021.6 L327.3 1020 L329.2 1018.3 L331.2 1016.5 L333.2 1014.8 L335.3 1013 L337.4 1011.2 L339.7 1009.2 L342.1 1007.1 L344.5 1004.9 L347.1 1002.7 L349.6 1000.5 L352.1 998.3 L354.4 996.2 L356.7 994.3 L358.7 992.5 L360.6 990.8 L362.4 989.1 L364.1 987.6 L365.8 986 L367.3 984.6 L368.8 983.2 L370.2 981.9 L371.6 980.8 L373 979.7 L374.4 978.8 L375.8 978 L377 977.3 L378.2 976.8 L379.4 976.3 L380.6 976 L381.7 975.7 L382.8 975.5 L384 975.4 L385.2 975.3 L386.4 975.3 L403.4 972.1 L402.2 972.1 L401 972.2 L399.8 972.3 L398.7 972.5 L397.6 972.8 L396.4 973.1 L395.2 973.6 L394 974.1 L392.8 974.8 L391.4 975.6 L390 976.5 L388.6 977.6 L387.2 978.7 L385.8 980 L384.3 981.4 L382.8 982.8 L381.1 984.4 L379.4 985.9 L377.6 987.6 L375.7 989.3 L373.7 991.1 L371.4 993 L369.1 995.1 L366.6 997.3 L364.1 999.5 L361.5 1001.7 L359.1 1003.9 L356.7 1006 L354.4 1008 L352.3 1009.8 L350.2 1011.6 L348.2 1013.3 L346.2 1015.1 L344.3 1016.8 L342.4 1018.4 L340.7 1019.9 L339.1 1021.3 L337.7 1022.6 L336.5 1023.6 L335.5 1024.5Z" fill="#858eb8" stroke="#858eb8" stroke-width="1.6"/><path d="M326.1 1026.2 L327.1 1025.4 L328.3 1024.3 L329.7 1023.1 L331.3 1021.7 L333.1 1020.2 L334.9 1018.6 L336.9 1016.9 L338.9 1015.1 L340.9 1013.3 L342.9 1011.6 L345 1009.7 L347.3 1007.7 L349.7 1005.6 L352.2 1003.5 L354.7 1001.2 L357.2 999 L359.7 996.9 L362.1 994.8 L364.3 992.8 L366.4 991 L368.3 989.4 L370.1 987.7 L371.8 986.1 L373.4 984.6 L374.9 983.1 L376.4 981.8 L377.9 980.5 L379.3 979.3 L380.7 978.3 L382.1 977.4 L383.4 976.6 L384.7 975.9 L385.9 975.4 L387.1 974.9 L388.2 974.6 L389.4 974.3 L390.5 974.1 L391.6 974 L392.8 973.9 L394 973.8 L401.2 972.5 L400 972.5 L398.9 972.6 L397.7 972.7 L396.6 972.9 L395.5 973.2 L394.3 973.5 L393.1 974 L391.9 974.5 L390.6 975.2 L389.3 976 L387.9 976.9 L386.5 978 L385.1 979.1 L383.7 980.4 L382.2 981.8 L380.6 983.2 L379 984.8 L377.3 986.3 L375.5 988 L373.6 989.7 L371.6 991.5 L369.3 993.4 L366.9 995.5 L364.5 997.7 L361.9 999.9 L359.4 1002.1 L356.9 1004.3 L354.5 1006.4 L352.2 1008.4 L350.1 1010.2 L348.1 1012 L346.1 1013.7 L344.1 1015.5 L342.1 1017.2 L340.3 1018.8 L338.5 1020.3 L336.9 1021.7 L335.5 1023 L334.3 1024 L333.4 1024.9Z" fill="#6a75a5" stroke="#6a75a5" stroke-width="0.6"/><path d="M317.9 1027.7 L318.9 1026.8 L320.1 1025.8 L321.5 1024.5 L323.1 1023.1 L324.8 1021.6 L326.7 1020 L328.6 1018.3 L330.6 1016.5 L332.6 1014.8 L334.7 1013 L336.8 1011.2 L339.1 1009.2 L341.5 1007.1 L343.9 1004.9 L346.5 1002.7 L349 1000.5 L351.5 998.3 L353.8 996.2 L356.1 994.3 L358.1 992.5 L360 990.8 L361.8 989.1 L363.5 987.6 L365.2 986 L366.7 984.6 L368.2 983.2 L369.6 981.9 L371 980.8 L372.4 979.7 L373.8 978.8 L375.2 978 L376.4 977.3 L377.6 976.8 L378.8 976.3 L380 976 L381.1 975.7 L382.2 975.5 L383.4 975.4 L384.6 975.3 L385.8 975.3 L390.2 974.6 L389 974.6 L387.8 974.7 L386.7 974.8 L385.5 975 L384.4 975.3 L383.3 975.6 L382.1 976.1 L380.9 976.6 L379.6 977.3 L378.2 978.1 L376.9 979 L375.5 980.1 L374.1 981.2 L372.6 982.5 L371.1 983.9 L369.6 985.3 L368 986.8 L366.3 988.4 L364.5 990.1 L362.6 991.8 L360.5 993.6 L358.3 995.5 L355.9 997.6 L353.4 999.8 L350.9 1002 L348.4 1004.2 L345.9 1006.3 L343.5 1008.4 L341.2 1010.4 L339.1 1012.3 L337.1 1014.1 L335 1015.8 L333 1017.6 L331.1 1019.3 L329.2 1020.9 L327.5 1022.4 L325.9 1023.8 L324.5 1025 L323.3 1026.1 L322.3 1026.9Z" fill="#a9b0cf"/><path d="M471.5 1028.4 L472.5 1028.4 L473.6 1028.3 L474.5 1028.2 L475.5 1028 L476.4 1027.7 L477.4 1027.3 L478.4 1026.9 L479.4 1026.4 L480.5 1025.7 L481.7 1024.9 L482.9 1024 L484.2 1022.9 L485.5 1021.8 L486.8 1020.5 L488.2 1019.2 L489.6 1017.7 L491.1 1016.2 L492.7 1014.7 L494.3 1013.1 L495.9 1011.5 L497.7 1009.8 L499.7 1008 L501.7 1006.1 L503.8 1004.1 L506 1002.1 L508.1 1000.1 L510.2 998.1 L512.2 996.2 L514.1 994.4 L515.9 992.8 L517.5 991.3 L519 989.8 L520.4 988.3 L521.7 986.9 L523 985.6 L524.3 984.4 L525.5 983.2 L526.7 982.1 L527.9 981.2 L529.2 980.3 L530.4 979.6 L531.6 978.9 L532.8 978.4 L534 977.9 L535.2 977.6 L536.4 977.3 L537.5 977.1 L538.7 976.9 L539.9 976.8 L541.1 976.8 L558.1 973.6 L556.9 973.6 L555.7 973.7 L554.5 973.9 L553.4 974.1 L552.2 974.4 L551 974.7 L549.8 975.2 L548.6 975.7 L547.4 976.4 L546.2 977.1 L544.9 978 L543.7 978.9 L542.5 980 L541.3 981.2 L540 982.4 L538.7 983.7 L537.4 985.1 L536 986.6 L534.5 988.1 L532.9 989.6 L531.1 991.2 L529.2 993 L527.2 994.9 L525.1 996.9 L523 998.9 L520.8 1000.9 L518.7 1002.9 L516.7 1004.8 L514.7 1006.6 L512.9 1008.3 L511.3 1009.9 L509.7 1011.5 L508.1 1013 L506.6 1014.5 L505.2 1016 L503.8 1017.3 L502.5 1018.6 L501.2 1019.7 L499.9 1020.8 L498.7 1021.7 L497.5 1022.5 L496.4 1023.2 L495.4 1023.7 L494.4 1024.1 L493.4 1024.5 L492.5 1024.8 L491.5 1025 L490.6 1025.1 L489.5 1025.2 L488.5 1025.2Z" fill="#858eb8" stroke="#858eb8" stroke-width="1.6"/><path d="M479.1 1027 L480.2 1026.9 L481.2 1026.9 L482.2 1026.7 L483.1 1026.5 L484.1 1026.3 L485 1025.9 L486 1025.5 L487.1 1024.9 L488.2 1024.3 L489.3 1023.5 L490.6 1022.6 L491.8 1021.5 L493.1 1020.3 L494.5 1019.1 L495.9 1017.7 L497.3 1016.3 L498.8 1014.8 L500.3 1013.3 L501.9 1011.7 L503.6 1010.1 L505.4 1008.4 L507.3 1006.6 L509.4 1004.7 L511.5 1002.7 L513.6 1000.7 L515.8 998.7 L517.9 996.7 L519.9 994.8 L521.8 993 L523.5 991.4 L525.1 989.8 L526.6 988.3 L528 986.9 L529.4 985.5 L530.7 984.2 L531.9 982.9 L533.1 981.8 L534.4 980.7 L535.6 979.7 L536.8 978.9 L538.1 978.1 L539.3 977.5 L540.5 976.9 L541.7 976.5 L542.8 976.1 L544 975.8 L545.2 975.6 L546.4 975.5 L547.6 975.4 L548.8 975.3 L556 974 L554.8 974 L553.6 974.1 L552.4 974.3 L551.2 974.5 L550.1 974.8 L548.9 975.1 L547.7 975.6 L546.5 976.1 L545.3 976.8 L544 977.5 L542.8 978.4 L541.6 979.3 L540.4 980.4 L539.1 981.6 L537.9 982.8 L536.6 984.1 L535.3 985.5 L533.9 987 L532.4 988.5 L530.8 990 L529 991.6 L527.1 993.4 L525.1 995.3 L523 997.3 L520.8 999.3 L518.7 1001.3 L516.6 1003.3 L514.5 1005.2 L512.6 1007 L510.8 1008.7 L509.1 1010.3 L507.5 1011.9 L506 1013.4 L504.5 1014.9 L503.1 1016.4 L501.7 1017.7 L500.4 1019 L499.1 1020.1 L497.8 1021.2 L496.6 1022.1 L495.4 1022.9 L494.3 1023.6 L493.3 1024.1 L492.3 1024.5 L491.3 1024.9 L490.4 1025.2 L489.4 1025.4 L488.4 1025.5 L487.4 1025.6 L486.4 1025.6Z" fill="#6a75a5" stroke="#6a75a5" stroke-width="0.6"/><path d="M470.9 1028.4 L471.9 1028.4 L473 1028.3 L473.9 1028.2 L474.9 1028 L475.8 1027.7 L476.8 1027.3 L477.8 1026.9 L478.8 1026.4 L479.9 1025.7 L481.1 1024.9 L482.3 1024 L483.6 1022.9 L484.9 1021.8 L486.2 1020.5 L487.6 1019.2 L489 1017.7 L490.5 1016.2 L492.1 1014.7 L493.7 1013.1 L495.3 1011.5 L497.1 1009.8 L499.1 1008 L501.1 1006.1 L503.2 1004.1 L505.4 1002.1 L507.5 1000.1 L509.6 998.1 L511.6 996.2 L513.5 994.4 L515.3 992.8 L516.9 991.3 L518.4 989.8 L519.8 988.3 L521.1 986.9 L522.4 985.6 L523.7 984.4 L524.9 983.2 L526.1 982.1 L527.3 981.2 L528.6 980.3 L529.8 979.6 L531 978.9 L532.2 978.4 L533.4 977.9 L534.6 977.6 L535.8 977.3 L536.9 977.1 L538.1 976.9 L539.3 976.8 L540.5 976.8 L545 976.1 L543.7 976.1 L542.5 976.2 L541.4 976.3 L540.2 976.6 L539 976.8 L537.8 977.2 L536.7 977.7 L535.5 978.2 L534.2 978.8 L533 979.6 L531.8 980.4 L530.5 981.4 L529.3 982.5 L528.1 983.6 L526.9 984.9 L525.6 986.2 L524.2 987.6 L522.8 989 L521.3 990.5 L519.7 992.1 L518 993.7 L516 995.5 L514 997.4 L511.9 999.4 L509.8 1001.4 L507.6 1003.4 L505.5 1005.4 L503.5 1007.3 L501.6 1009.1 L499.8 1010.8 L498.1 1012.4 L496.5 1014 L494.9 1015.5 L493.5 1017 L492 1018.4 L490.6 1019.8 L489.3 1021.1 L488 1022.2 L486.8 1023.3 L485.5 1024.2 L484.3 1025 L483.2 1025.6 L482.2 1026.2 L481.2 1026.6 L480.2 1027 L479.3 1027.3 L478.4 1027.5 L477.4 1027.6 L476.4 1027.7 L475.3 1027.7Z" fill="#a9b0cf"/><path d="M629.8 1029.9 L630.8 1029.9 L631.8 1029.8 L632.8 1029.7 L633.8 1029.5 L634.7 1029.2 L635.7 1028.9 L636.7 1028.4 L637.7 1027.9 L638.8 1027.2 L640 1026.4 L641.2 1025.5 L642.4 1024.5 L643.7 1023.3 L644.9 1022 L646.3 1020.7 L647.6 1019.2 L649.1 1017.8 L650.5 1016.2 L652.1 1014.6 L653.7 1013 L655.4 1011.4 L657.3 1009.5 L659.3 1007.6 L661.3 1005.6 L663.4 1003.6 L665.4 1001.6 L667.4 999.6 L669.4 997.7 L671.2 996 L672.9 994.3 L674.4 992.8 L675.9 991.3 L677.2 989.8 L678.5 988.4 L679.8 987.1 L680.9 985.9 L682.1 984.7 L683.3 983.6 L684.5 982.7 L685.7 981.8 L686.9 981.1 L688.1 980.4 L689.3 979.9 L690.5 979.4 L691.7 979.1 L692.9 978.8 L694 978.6 L695.2 978.4 L696.4 978.3 L697.7 978.3 L714.7 975.1 L713.4 975.1 L712.2 975.2 L711 975.4 L709.9 975.6 L708.7 975.9 L707.5 976.2 L706.3 976.7 L705.1 977.2 L703.9 977.9 L702.7 978.6 L701.5 979.5 L700.3 980.4 L699.1 981.5 L697.9 982.7 L696.8 983.9 L695.5 985.2 L694.2 986.6 L692.9 988.1 L691.4 989.6 L689.9 991.1 L688.2 992.8 L686.4 994.5 L684.4 996.4 L682.4 998.4 L680.4 1000.4 L678.3 1002.4 L676.3 1004.4 L674.3 1006.3 L672.4 1008.2 L670.7 1009.8 L669.1 1011.4 L667.5 1013 L666.1 1014.6 L664.6 1016 L663.3 1017.5 L661.9 1018.8 L660.7 1020.1 L659.4 1021.3 L658.2 1022.3 L657 1023.2 L655.8 1024 L654.7 1024.7 L653.7 1025.2 L652.7 1025.7 L651.7 1026 L650.8 1026.3 L649.8 1026.5 L648.8 1026.6 L647.8 1026.7 L646.8 1026.7Z" fill="#858eb8" stroke="#858eb8" stroke-width="1.6"/><path d="M637.4 1028.5 L638.5 1028.5 L639.5 1028.4 L640.5 1028.2 L641.4 1028 L642.4 1027.8 L643.4 1027.4 L644.3 1027 L645.4 1026.4 L646.5 1025.8 L647.6 1025 L648.8 1024.1 L650.1 1023 L651.3 1021.9 L652.6 1020.6 L653.9 1019.2 L655.3 1017.8 L656.7 1016.3 L658.2 1014.8 L659.7 1013.2 L661.3 1011.6 L663.1 1009.9 L664.9 1008.1 L666.9 1006.2 L668.9 1004.2 L671 1002.2 L673.1 1000.2 L675.1 998.2 L677 996.3 L678.9 994.5 L680.5 992.9 L682.1 991.3 L683.5 989.8 L684.9 988.4 L686.2 987 L687.4 985.7 L688.6 984.4 L689.8 983.3 L690.9 982.2 L692.1 981.2 L693.3 980.4 L694.6 979.6 L695.8 979 L697 978.5 L698.2 978 L699.3 977.6 L700.5 977.4 L701.7 977.1 L702.9 977 L704.1 976.9 L705.3 976.9 L712.5 975.5 L711.3 975.5 L710.1 975.6 L708.9 975.8 L707.7 976 L706.6 976.3 L705.4 976.6 L704.2 977.1 L703 977.6 L701.8 978.3 L700.6 979 L699.4 979.9 L698.2 980.8 L697 981.9 L695.8 983.1 L694.6 984.3 L693.4 985.6 L692.1 987 L690.8 988.5 L689.3 990 L687.8 991.5 L686.1 993.2 L684.3 994.9 L682.3 996.8 L680.3 998.8 L678.2 1000.8 L676.2 1002.8 L674.1 1004.8 L672.2 1006.7 L670.3 1008.6 L668.6 1010.2 L667 1011.8 L665.4 1013.4 L663.9 1015 L662.5 1016.4 L661.1 1017.9 L659.8 1019.2 L658.5 1020.5 L657.3 1021.7 L656.1 1022.7 L654.8 1023.6 L653.7 1024.4 L652.6 1025.1 L651.6 1025.6 L650.6 1026.1 L649.6 1026.4 L648.7 1026.7 L647.7 1026.9 L646.7 1027 L645.7 1027.1 L644.6 1027.1Z" fill="#6a75a5" stroke="#6a75a5" stroke-width="0.6"/><path d="M629.2 1029.9 L630.2 1029.9 L631.2 1029.8 L632.2 1029.7 L633.2 1029.5 L634.1 1029.2 L635.1 1028.9 L636.1 1028.4 L637.1 1027.9 L638.2 1027.2 L639.4 1026.4 L640.6 1025.5 L641.8 1024.5 L643.1 1023.3 L644.3 1022 L645.7 1020.7 L647 1019.2 L648.5 1017.8 L649.9 1016.2 L651.5 1014.6 L653.1 1013 L654.8 1011.4 L656.7 1009.5 L658.7 1007.6 L660.7 1005.6 L662.8 1003.6 L664.8 1001.6 L666.8 999.6 L668.8 997.7 L670.6 996 L672.3 994.3 L673.8 992.8 L675.3 991.3 L676.6 989.8 L677.9 988.4 L679.2 987.1 L680.3 985.9 L681.5 984.7 L682.7 983.6 L683.9 982.7 L685.1 981.8 L686.3 981.1 L687.5 980.4 L688.7 979.9 L689.9 979.4 L691.1 979.1 L692.3 978.8 L693.4 978.6 L694.6 978.4 L695.8 978.3 L697.1 978.3 L701.5 977.6 L700.3 977.6 L699.1 977.7 L697.9 977.9 L696.7 978.1 L695.5 978.4 L694.3 978.7 L693.2 979.2 L692 979.7 L690.8 980.4 L689.5 981.1 L688.3 982 L687.1 982.9 L685.9 984 L684.8 985.2 L683.6 986.4 L682.3 987.7 L681.1 989.1 L679.7 990.5 L678.3 992 L676.7 993.6 L675 995.2 L673.2 997 L671.3 998.9 L669.2 1000.9 L667.2 1002.9 L665.1 1004.9 L663.1 1006.9 L661.1 1008.8 L659.2 1010.6 L657.5 1012.3 L655.9 1013.9 L654.4 1015.5 L652.9 1017 L651.5 1018.5 L650.1 1020 L648.8 1021.3 L647.5 1022.6 L646.2 1023.7 L645 1024.8 L643.8 1025.7 L642.6 1026.5 L641.6 1027.1 L640.5 1027.7 L639.5 1028.1 L638.6 1028.5 L637.6 1028.8 L636.7 1029 L635.7 1029.1 L634.7 1029.2 L633.6 1029.2Z" fill="#a9b0cf"/><path d="M788.1 1031.4 L789.1 1031.4 L790.1 1031.3 L791.1 1031.2 L792 1031 L793 1030.7 L794 1030.4 L794.9 1029.9 L796 1029.4 L797.1 1028.7 L798.3 1027.9 L799.5 1027 L800.8 1026 L802.1 1024.8 L803.4 1023.5 L804.8 1022.2 L806.2 1020.8 L807.7 1019.3 L809.2 1017.7 L810.8 1016.2 L812.5 1014.6 L814.3 1012.9 L816.2 1011.1 L818.3 1009.1 L820.4 1007.2 L822.5 1005.1 L824.7 1003.1 L826.8 1001.2 L828.8 999.3 L830.7 997.5 L832.4 995.8 L834.1 994.3 L835.6 992.8 L837 991.4 L838.3 990 L839.6 988.7 L840.8 987.4 L842.1 986.3 L843.3 985.2 L844.5 984.2 L845.7 983.4 L847 982.6 L848.2 982 L849.4 981.5 L850.6 981 L851.8 980.6 L852.9 980.4 L854.1 980.1 L855.3 980 L856.5 979.9 L857.7 979.9 L874.7 976.7 L873.5 976.7 L872.3 976.8 L871.1 976.9 L869.9 977.2 L868.8 977.4 L867.6 977.8 L866.4 978.3 L865.2 978.8 L864 979.4 L862.7 980.2 L861.5 981 L860.3 982 L859.1 983.1 L857.8 984.2 L856.6 985.5 L855.3 986.8 L854 988.2 L852.6 989.6 L851.1 991.1 L849.4 992.6 L847.7 994.3 L845.8 996.1 L843.8 998 L841.7 999.9 L839.5 1001.9 L837.4 1004 L835.3 1005.9 L833.2 1007.9 L831.3 1009.7 L829.5 1011.4 L827.8 1013 L826.2 1014.5 L824.7 1016.1 L823.2 1017.6 L821.8 1019 L820.4 1020.3 L819.1 1021.6 L817.8 1022.8 L816.5 1023.8 L815.3 1024.7 L814.1 1025.5 L813 1026.2 L811.9 1026.7 L811 1027.2 L810 1027.5 L809 1027.8 L808.1 1028 L807.1 1028.1 L806.1 1028.2 L805.1 1028.2Z" fill="#858eb8" stroke="#858eb8" stroke-width="1.6"/><path d="M795.7 1030 L796.8 1030 L797.8 1029.9 L798.7 1029.7 L799.7 1029.5 L800.6 1029.3 L801.6 1028.9 L802.6 1028.5 L803.6 1027.9 L804.7 1027.3 L805.9 1026.5 L807.1 1025.6 L808.4 1024.5 L809.7 1023.4 L811 1022.1 L812.4 1020.7 L813.8 1019.3 L815.3 1017.8 L816.9 1016.3 L818.5 1014.7 L820.2 1013.1 L821.9 1011.4 L823.9 1009.6 L825.9 1007.7 L828 1005.7 L830.2 1003.7 L832.3 1001.7 L834.4 999.7 L836.4 997.8 L838.3 996 L840.1 994.4 L841.7 992.9 L843.2 991.4 L844.6 989.9 L846 988.5 L847.2 987.2 L848.5 986 L849.7 984.8 L850.9 983.8 L852.1 982.8 L853.4 981.9 L854.6 981.2 L855.9 980.6 L857.1 980 L858.2 979.6 L859.4 979.2 L860.6 978.9 L861.8 978.7 L862.9 978.6 L864.1 978.5 L865.4 978.4 L872.6 977.1 L871.4 977.1 L870.2 977.2 L869 977.3 L867.8 977.6 L866.6 977.8 L865.5 978.2 L864.3 978.7 L863.1 979.2 L861.9 979.8 L860.6 980.6 L859.4 981.4 L858.1 982.4 L856.9 983.5 L855.7 984.6 L854.5 985.9 L853.2 987.2 L851.8 988.6 L850.4 990 L848.9 991.5 L847.3 993 L845.6 994.7 L843.7 996.5 L841.6 998.4 L839.5 1000.3 L837.4 1002.3 L835.3 1004.4 L833.2 1006.3 L831.1 1008.3 L829.2 1010.1 L827.4 1011.8 L825.7 1013.4 L824.1 1014.9 L822.6 1016.5 L821.1 1018 L819.6 1019.4 L818.3 1020.7 L816.9 1022 L815.6 1023.2 L814.4 1024.2 L813.1 1025.1 L812 1025.9 L810.9 1026.6 L809.8 1027.1 L808.8 1027.6 L807.9 1027.9 L806.9 1028.2 L806 1028.4 L805 1028.5 L804 1028.6 L802.9 1028.6Z" fill="#6a75a5" stroke="#6a75a5" stroke-width="0.6"/><path d="M787.5 1031.4 L788.5 1031.4 L789.5 1031.3 L790.5 1031.2 L791.4 1031 L792.4 1030.7 L793.4 1030.4 L794.3 1029.9 L795.4 1029.4 L796.5 1028.7 L797.7 1027.9 L798.9 1027 L800.2 1026 L801.5 1024.8 L802.8 1023.5 L804.2 1022.2 L805.6 1020.8 L807.1 1019.3 L808.6 1017.7 L810.2 1016.2 L811.9 1014.6 L813.7 1012.9 L815.6 1011.1 L817.7 1009.1 L819.8 1007.2 L821.9 1005.1 L824.1 1003.1 L826.2 1001.2 L828.2 999.3 L830.1 997.5 L831.8 995.8 L833.5 994.3 L835 992.8 L836.4 991.4 L837.7 990 L839 988.7 L840.2 987.4 L841.5 986.3 L842.7 985.2 L843.9 984.2 L845.1 983.4 L846.4 982.6 L847.6 982 L848.8 981.5 L850 981 L851.2 980.6 L852.3 980.4 L853.5 980.1 L854.7 980 L855.9 979.9 L857.1 979.9 L861.5 979.1 L860.3 979.2 L859.1 979.3 L857.9 979.4 L856.8 979.6 L855.6 979.9 L854.4 980.3 L853.2 980.7 L852 981.3 L850.8 981.9 L849.6 982.7 L848.3 983.5 L847.1 984.5 L845.9 985.5 L844.7 986.7 L843.4 987.9 L842.1 989.3 L840.8 990.6 L839.4 992.1 L837.9 993.6 L836.3 995.1 L834.5 996.8 L832.6 998.6 L830.6 1000.4 L828.5 1002.4 L826.4 1004.4 L824.2 1006.4 L822.1 1008.4 L820.1 1010.3 L818.1 1012.2 L816.3 1013.8 L814.7 1015.4 L813 1017 L811.5 1018.5 L810 1020 L808.6 1021.5 L807.2 1022.8 L805.9 1024.1 L804.6 1025.2 L803.3 1026.3 L802.1 1027.2 L800.9 1028 L799.8 1028.6 L798.8 1029.2 L797.8 1029.6 L796.8 1030 L795.9 1030.3 L794.9 1030.5 L793.9 1030.6 L792.9 1030.7 L791.9 1030.7Z" fill="#a9b0cf"/><path d="M354.2 975.7 L355.4 975.7 L356.7 975.8 L357.9 975.9 L359.1 976.1 L360.3 976.3 L361.6 976.7 L362.9 977.1 L364.2 977.6 L365.5 978.2 L366.9 978.9 L368.2 979.6 L369.5 980.5 L370.8 981.4 L372.1 982.4 L373.5 983.5 L374.9 984.7 L376.5 986 L378.1 987.4 L380 988.9 L382.1 990.6 L384.5 992.4 L387.1 994.4 L390 996.7 L393.1 999 L396.3 1001.5 L399.4 1003.9 L402.5 1006.3 L405.5 1008.6 L408.2 1010.7 L410.7 1012.6 L412.9 1014.3 L414.9 1015.9 L416.8 1017.5 L418.6 1018.9 L420.3 1020.3 L421.9 1021.6 L423.4 1022.7 L424.9 1023.8 L426.3 1024.8 L427.7 1025.7 L429.1 1026.4 L430.4 1027 L431.7 1027.6 L432.8 1028 L434 1028.3 L435.1 1028.5 L436.1 1028.7 L437.2 1028.8 L438.3 1028.8 L439.3 1028.8 L457.3 1024.8 L456.3 1024.8 L455.2 1024.8 L454.1 1024.7 L453.1 1024.5 L452 1024.3 L450.8 1024 L449.7 1023.6 L448.4 1023 L447.1 1022.4 L445.7 1021.7 L444.3 1020.8 L442.9 1019.8 L441.4 1018.7 L439.9 1017.6 L438.3 1016.3 L436.6 1014.9 L434.8 1013.5 L432.9 1011.9 L430.9 1010.3 L428.7 1008.6 L426.2 1006.7 L423.5 1004.6 L420.5 1002.3 L417.4 999.9 L414.3 997.5 L411.1 995 L408 992.7 L405.1 990.4 L402.5 988.4 L400.1 986.6 L398 984.9 L396.1 983.4 L394.5 982 L392.9 980.7 L391.5 979.5 L390.1 978.4 L388.8 977.4 L387.5 976.5 L386.2 975.6 L384.9 974.9 L383.5 974.2 L382.2 973.6 L380.9 973.1 L379.6 972.7 L378.3 972.3 L377.1 972.1 L375.9 971.9 L374.7 971.8 L373.4 971.7 L372.2 971.7Z" fill="#a6add0" stroke="#959ec4" stroke-width="1.6"/><path d="M357.8 974.9 L359 974.9 L360.3 975 L361.5 975.1 L362.7 975.3 L363.9 975.5 L365.2 975.9 L366.5 976.3 L367.8 976.8 L369.1 977.4 L370.5 978.1 L371.8 978.8 L373.1 979.7 L374.4 980.6 L375.7 981.6 L377.1 982.7 L378.5 983.9 L380.1 985.2 L381.7 986.6 L383.6 988.1 L385.7 989.8 L388.1 991.6 L390.7 993.6 L393.6 995.9 L396.7 998.2 L399.9 1000.7 L403 1003.1 L406.1 1005.5 L409.1 1007.8 L411.8 1009.9 L414.3 1011.8 L416.5 1013.5 L418.5 1015.1 L420.4 1016.7 L422.2 1018.1 L423.9 1019.5 L425.5 1020.8 L427 1021.9 L428.5 1023 L429.9 1024 L431.3 1024.9 L432.7 1025.6 L434 1026.2 L435.3 1026.8 L436.4 1027.2 L437.6 1027.5 L438.7 1027.7 L439.7 1027.9 L440.8 1028 L441.9 1028 L442.9 1028 L455.1 1025.3 L454 1025.3 L452.9 1025.3 L451.9 1025.2 L450.8 1025 L449.7 1024.8 L448.6 1024.5 L447.4 1024.1 L446.2 1023.5 L444.9 1022.9 L443.5 1022.2 L442 1021.3 L440.6 1020.3 L439.1 1019.2 L437.6 1018.1 L436 1016.8 L434.3 1015.4 L432.6 1014 L430.7 1012.4 L428.6 1010.8 L426.4 1009.1 L424 1007.2 L421.2 1005.1 L418.3 1002.8 L415.2 1000.4 L412 998 L408.9 995.5 L405.8 993.2 L402.9 990.9 L400.2 988.9 L397.8 987.1 L395.8 985.4 L393.9 983.9 L392.2 982.5 L390.7 981.2 L389.2 980 L387.9 978.9 L386.6 977.9 L385.3 977 L384 976.1 L382.6 975.4 L381.3 974.7 L379.9 974.1 L378.6 973.6 L377.3 973.2 L376.1 972.8 L374.9 972.6 L373.6 972.4 L372.4 972.3 L371.2 972.2 L370 972.2Z" fill="#d3d7e9" stroke="#d3d7e9" stroke-width="0.8"/><path d="M361.4 974.1 L362.6 974.1 L363.9 974.2 L365.1 974.3 L366.3 974.5 L367.5 974.7 L368.8 975.1 L370.1 975.5 L371.4 976 L372.7 976.6 L374.1 977.3 L375.4 978 L376.7 978.9 L378 979.8 L379.3 980.8 L380.7 981.9 L382.1 983.1 L383.7 984.4 L385.3 985.8 L387.2 987.3 L389.3 989 L391.7 990.8 L394.3 992.8 L397.2 995.1 L400.3 997.4 L403.5 999.9 L406.6 1002.3 L409.7 1004.7 L412.7 1007 L415.4 1009.1 L417.9 1011 L420.1 1012.7 L422.1 1014.3 L424 1015.9 L425.8 1017.3 L427.5 1018.7 L429.1 1020 L430.6 1021.1 L432.1 1022.2 L433.5 1023.2 L434.9 1024.1 L436.3 1024.8 L437.6 1025.4 L438.9 1026 L440 1026.4 L441.2 1026.7 L442.3 1026.9 L443.3 1027.1 L444.4 1027.2 L445.5 1027.2 L446.5 1027.2 L451 1026.2 L450 1026.2 L448.9 1026.2 L447.8 1026.1 L446.8 1025.9 L445.7 1025.7 L444.5 1025.4 L443.4 1025 L442.1 1024.4 L440.8 1023.8 L439.4 1023.1 L438 1022.2 L436.6 1021.2 L435.1 1020.1 L433.6 1019 L432 1017.7 L430.3 1016.3 L428.5 1014.9 L426.6 1013.3 L424.6 1011.7 L422.4 1010 L419.9 1008.1 L417.2 1006 L414.2 1003.7 L411.1 1001.3 L408 998.9 L404.8 996.4 L401.7 994.1 L398.8 991.8 L396.2 989.8 L393.8 988 L391.7 986.3 L389.8 984.8 L388.2 983.4 L386.6 982.1 L385.2 980.9 L383.8 979.8 L382.5 978.8 L381.2 977.9 L379.9 977 L378.6 976.3 L377.2 975.6 L375.9 975 L374.6 974.5 L373.3 974.1 L372 973.7 L370.8 973.5 L369.6 973.3 L368.4 973.2 L367.1 973.1 L365.9 973.1Z" fill="#f4f5fa" stroke="#f4f5fa" stroke-width="0.6"/><path d="M509 977.2 L510.2 977.2 L511.4 977.3 L512.6 977.4 L513.8 977.6 L515.1 977.8 L516.3 978.2 L517.6 978.6 L518.9 979.1 L520.2 979.7 L521.6 980.4 L523 981.1 L524.4 982 L525.8 982.9 L527.2 983.9 L528.6 985 L530.1 986.2 L531.8 987.5 L533.6 988.9 L535.5 990.4 L537.7 992.1 L540.2 993.9 L543.1 995.9 L546.2 998.2 L549.4 1000.5 L552.7 1003 L556.1 1005.4 L559.4 1007.8 L562.5 1010.1 L565.4 1012.2 L568 1014.1 L570.3 1015.8 L572.5 1017.4 L574.5 1019 L576.4 1020.4 L578.2 1021.8 L579.8 1023.1 L581.5 1024.2 L583 1025.3 L584.5 1026.3 L586 1027.2 L587.4 1027.9 L588.8 1028.5 L590 1029.1 L591.2 1029.5 L592.3 1029.8 L593.4 1030 L594.4 1030.2 L595.5 1030.3 L596.5 1030.3 L597.6 1030.3 L615.6 1026.3 L614.5 1026.3 L613.5 1026.3 L612.4 1026.2 L611.4 1026 L610.3 1025.8 L609.2 1025.5 L608 1025.1 L606.8 1024.5 L605.4 1023.9 L604 1023.2 L602.5 1022.3 L601 1021.3 L599.5 1020.2 L597.8 1019.1 L596.2 1017.8 L594.4 1016.4 L592.5 1015 L590.5 1013.4 L588.3 1011.8 L586 1010.1 L583.4 1008.2 L580.5 1006.1 L577.4 1003.8 L574.1 1001.4 L570.7 999 L567.4 996.5 L564.2 994.2 L561.1 991.9 L558.2 989.9 L555.7 988.1 L553.5 986.4 L551.6 984.9 L549.8 983.5 L548.1 982.2 L546.6 981 L545.2 979.9 L543.8 978.9 L542.4 978 L541 977.1 L539.6 976.4 L538.2 975.7 L536.9 975.1 L535.6 974.6 L534.3 974.2 L533.1 973.8 L531.8 973.6 L530.6 973.4 L529.4 973.3 L528.2 973.2 L527 973.2Z" fill="#a6add0" stroke="#959ec4" stroke-width="1.6"/><path d="M512.6 976.4 L513.8 976.4 L515 976.5 L516.2 976.6 L517.4 976.8 L518.7 977 L519.9 977.4 L521.2 977.8 L522.5 978.3 L523.8 978.9 L525.2 979.6 L526.6 980.3 L528 981.2 L529.4 982.1 L530.8 983.1 L532.2 984.2 L533.7 985.4 L535.4 986.7 L537.2 988.1 L539.1 989.6 L541.3 991.3 L543.8 993.1 L546.7 995.1 L549.8 997.4 L553 999.7 L556.3 1002.2 L559.7 1004.6 L563 1007 L566.1 1009.3 L569 1011.4 L571.6 1013.3 L573.9 1015 L576.1 1016.6 L578.1 1018.2 L580 1019.6 L581.8 1021 L583.4 1022.3 L585.1 1023.4 L586.6 1024.5 L588.1 1025.5 L589.6 1026.4 L591 1027.1 L592.4 1027.7 L593.6 1028.3 L594.8 1028.7 L595.9 1029 L597 1029.2 L598 1029.4 L599.1 1029.5 L600.1 1029.5 L601.2 1029.5 L613.4 1026.8 L612.3 1026.8 L611.2 1026.8 L610.2 1026.7 L609.1 1026.5 L608.1 1026.3 L606.9 1026 L605.8 1025.6 L604.5 1025 L603.2 1024.4 L601.8 1023.7 L600.3 1022.8 L598.8 1021.8 L597.2 1020.7 L595.6 1019.6 L593.9 1018.3 L592.1 1016.9 L590.2 1015.5 L588.2 1013.9 L586.1 1012.3 L583.7 1010.6 L581.1 1008.7 L578.2 1006.6 L575.1 1004.3 L571.8 1001.9 L568.5 999.5 L565.2 997 L561.9 994.7 L558.8 992.4 L556 990.4 L553.5 988.6 L551.3 986.9 L549.3 985.4 L547.5 984 L545.9 982.7 L544.3 981.5 L542.9 980.4 L541.5 979.4 L540.2 978.5 L538.8 977.6 L537.4 976.9 L536 976.2 L534.6 975.6 L533.3 975.1 L532 974.7 L530.8 974.3 L529.6 974.1 L528.4 973.9 L527.2 973.8 L525.9 973.7 L524.7 973.7Z" fill="#d3d7e9" stroke="#d3d7e9" stroke-width="0.8"/><path d="M516.2 975.6 L517.4 975.6 L518.6 975.7 L519.8 975.8 L521 976 L522.3 976.2 L523.5 976.6 L524.8 977 L526.1 977.5 L527.4 978.1 L528.8 978.8 L530.2 979.5 L531.6 980.4 L533 981.3 L534.4 982.3 L535.8 983.4 L537.3 984.6 L539 985.9 L540.8 987.3 L542.7 988.8 L544.9 990.5 L547.4 992.3 L550.3 994.3 L553.4 996.6 L556.6 998.9 L559.9 1001.4 L563.3 1003.8 L566.6 1006.2 L569.7 1008.5 L572.6 1010.6 L575.2 1012.5 L577.5 1014.2 L579.7 1015.8 L581.7 1017.4 L583.6 1018.8 L585.4 1020.2 L587 1021.5 L588.7 1022.6 L590.2 1023.7 L591.7 1024.7 L593.2 1025.6 L594.6 1026.3 L596 1026.9 L597.2 1027.5 L598.4 1027.9 L599.5 1028.2 L600.6 1028.4 L601.6 1028.6 L602.7 1028.7 L603.7 1028.7 L604.8 1028.7 L609.3 1027.7 L608.2 1027.7 L607.2 1027.7 L606.1 1027.6 L605.1 1027.4 L604 1027.2 L602.9 1026.9 L601.7 1026.5 L600.5 1025.9 L599.1 1025.3 L597.7 1024.6 L596.2 1023.7 L594.7 1022.7 L593.2 1021.6 L591.5 1020.5 L589.9 1019.2 L588.1 1017.8 L586.2 1016.4 L584.2 1014.8 L582 1013.2 L579.7 1011.5 L577.1 1009.6 L574.2 1007.5 L571.1 1005.2 L567.8 1002.8 L564.4 1000.4 L561.1 997.9 L557.9 995.6 L554.8 993.3 L551.9 991.3 L549.4 989.5 L547.2 987.8 L545.3 986.3 L543.5 984.9 L541.8 983.6 L540.3 982.4 L538.9 981.3 L537.5 980.3 L536.1 979.4 L534.7 978.5 L533.3 977.8 L531.9 977.1 L530.6 976.5 L529.3 976 L528 975.6 L526.8 975.2 L525.5 975 L524.3 974.8 L523.1 974.7 L521.9 974.6 L520.7 974.6Z" fill="#f4f5fa" stroke="#f4f5fa" stroke-width="0.6"/><path d="M665.5 978.7 L666.7 978.7 L667.9 978.8 L669.1 978.9 L670.3 979.1 L671.5 979.3 L672.8 979.7 L674.1 980.1 L675.4 980.6 L676.7 981.2 L678.2 981.9 L679.6 982.6 L681 983.5 L682.4 984.4 L683.8 985.4 L685.3 986.5 L686.9 987.7 L688.5 989 L690.4 990.4 L692.4 991.9 L694.7 993.6 L697.3 995.4 L700.2 997.5 L703.3 999.7 L706.7 1002.1 L710.1 1004.5 L713.6 1006.9 L716.9 1009.3 L720.1 1011.6 L723.1 1013.7 L725.8 1015.6 L728.2 1017.3 L730.4 1018.9 L732.5 1020.5 L734.4 1021.9 L736.3 1023.3 L738 1024.6 L739.6 1025.7 L741.2 1026.8 L742.8 1027.8 L744.3 1028.7 L745.7 1029.4 L747.1 1030 L748.3 1030.6 L749.5 1031 L750.6 1031.3 L751.7 1031.5 L752.7 1031.7 L753.8 1031.8 L754.8 1031.8 L755.9 1031.8 L773.9 1027.8 L772.8 1027.8 L771.8 1027.8 L770.7 1027.7 L769.7 1027.5 L768.6 1027.3 L767.5 1027 L766.3 1026.6 L765.1 1026 L763.7 1025.4 L762.3 1024.7 L760.8 1023.8 L759.2 1022.8 L757.6 1021.7 L756 1020.6 L754.3 1019.3 L752.4 1017.9 L750.5 1016.5 L748.4 1014.9 L746.2 1013.3 L743.8 1011.6 L741.1 1009.7 L738.1 1007.6 L734.9 1005.3 L731.6 1002.9 L728.1 1000.5 L724.7 998.1 L721.3 995.7 L718.2 993.5 L715.3 991.4 L712.7 989.6 L710.4 987.9 L708.4 986.4 L706.5 985 L704.9 983.7 L703.3 982.5 L701.8 981.4 L700.4 980.4 L699 979.5 L697.6 978.6 L696.2 977.9 L694.7 977.2 L693.4 976.6 L692.1 976.1 L690.8 975.7 L689.5 975.3 L688.3 975.1 L687.1 974.9 L685.9 974.8 L684.7 974.7 L683.5 974.7Z" fill="#a6add0" stroke="#959ec4" stroke-width="1.6"/><path d="M669.1 977.9 L670.3 977.9 L671.5 978 L672.7 978.1 L673.9 978.3 L675.1 978.5 L676.4 978.9 L677.7 979.3 L679 979.8 L680.3 980.4 L681.8 981.1 L683.2 981.8 L684.6 982.7 L686 983.6 L687.4 984.6 L688.9 985.7 L690.5 986.9 L692.1 988.2 L694 989.6 L696 991.1 L698.3 992.8 L700.9 994.6 L703.8 996.7 L706.9 998.9 L710.3 1001.3 L713.7 1003.7 L717.2 1006.1 L720.5 1008.5 L723.7 1010.8 L726.7 1012.9 L729.4 1014.8 L731.8 1016.5 L734 1018.1 L736.1 1019.7 L738 1021.1 L739.9 1022.5 L741.6 1023.8 L743.2 1024.9 L744.8 1026 L746.4 1027 L747.9 1027.9 L749.3 1028.6 L750.7 1029.2 L751.9 1029.8 L753.1 1030.2 L754.2 1030.5 L755.3 1030.7 L756.3 1030.9 L757.4 1031 L758.4 1031 L759.5 1031 L771.6 1028.3 L770.6 1028.3 L769.5 1028.3 L768.5 1028.2 L767.4 1028 L766.4 1027.8 L765.3 1027.5 L764.1 1027.1 L762.8 1026.5 L761.5 1025.9 L760 1025.2 L758.5 1024.3 L757 1023.3 L755.4 1022.2 L753.7 1021.1 L752 1019.8 L750.2 1018.4 L748.2 1017 L746.1 1015.4 L743.9 1013.8 L741.5 1012.1 L738.9 1010.2 L735.9 1008.1 L732.7 1005.8 L729.3 1003.4 L725.9 1001 L722.4 998.6 L719.1 996.2 L715.9 994 L713 991.9 L710.4 990.1 L708.2 988.4 L706.1 986.9 L704.3 985.5 L702.6 984.2 L701 983 L699.6 981.9 L698.1 980.9 L696.7 980 L695.3 979.1 L693.9 978.4 L692.5 977.7 L691.1 977.1 L689.8 976.6 L688.5 976.2 L687.3 975.8 L686.1 975.6 L684.9 975.4 L683.7 975.3 L682.5 975.2 L681.3 975.2Z" fill="#d3d7e9" stroke="#d3d7e9" stroke-width="0.8"/><path d="M672.7 977.1 L673.9 977.1 L675.1 977.2 L676.3 977.3 L677.5 977.5 L678.7 977.7 L680 978.1 L681.3 978.5 L682.6 979 L683.9 979.6 L685.4 980.3 L686.8 981 L688.2 981.9 L689.6 982.8 L691 983.8 L692.5 984.9 L694.1 986.1 L695.7 987.4 L697.6 988.8 L699.6 990.3 L701.9 992 L704.5 993.8 L707.4 995.9 L710.5 998.1 L713.9 1000.5 L717.3 1002.9 L720.8 1005.3 L724.1 1007.7 L727.3 1010 L730.3 1012.1 L733 1014 L735.4 1015.7 L737.6 1017.3 L739.7 1018.9 L741.6 1020.3 L743.5 1021.7 L745.2 1023 L746.8 1024.1 L748.4 1025.2 L750 1026.2 L751.5 1027.1 L752.9 1027.8 L754.3 1028.4 L755.5 1029 L756.7 1029.4 L757.8 1029.7 L758.9 1029.9 L759.9 1030.1 L761 1030.2 L762 1030.2 L763.1 1030.2 L767.6 1029.2 L766.5 1029.2 L765.5 1029.2 L764.4 1029.1 L763.4 1028.9 L762.3 1028.7 L761.2 1028.4 L760 1028 L758.8 1027.4 L757.4 1026.8 L756 1026.1 L754.5 1025.2 L752.9 1024.2 L751.3 1023.1 L749.7 1022 L748 1020.7 L746.1 1019.3 L744.2 1017.9 L742.1 1016.3 L739.9 1014.7 L737.5 1013 L734.8 1011.1 L731.8 1009 L728.6 1006.7 L725.3 1004.3 L721.8 1001.9 L718.4 999.5 L715 997.1 L711.9 994.9 L709 992.8 L706.4 991 L704.1 989.3 L702.1 987.8 L700.2 986.4 L698.6 985.1 L697 983.9 L695.5 982.8 L694.1 981.8 L692.7 980.9 L691.3 980 L689.9 979.3 L688.4 978.6 L687.1 978 L685.8 977.5 L684.5 977.1 L683.2 976.7 L682 976.5 L680.8 976.3 L679.6 976.2 L678.4 976.1 L677.2 976.1Z" fill="#f4f5fa" stroke="#f4f5fa" stroke-width="0.6"/><path d="M825.5 980.3 L826.8 980.3 L827.9 980.3 L829.1 980.4 L830.2 980.6 L831.4 980.8 L832.6 981.2 L833.9 981.6 L835.2 982.1 L836.7 982.7 L838.2 983.4 L839.8 984.3 L841.4 985.2 L843 986.2 L844.7 987.3 L846.4 988.5 L848.3 989.8 L850.3 991.2 L852.6 992.7 L855 994.3 L857.6 996.1 L860.7 998.1 L864.1 1000.3 L867.8 1002.7 L871.7 1005.3 L875.8 1007.9 L879.8 1010.5 L883.8 1013.1 L887.5 1015.6 L891 1017.8 L894.2 1019.9 L897 1021.7 L899.8 1023.6 L902.5 1025.3 L905 1026.9 L907.3 1028.4 L909.5 1029.9 L911.5 1031.1 L913.2 1032.3 L914.7 1033.2 L915.9 1034 L933.9 1030 L932.7 1029.2 L931.2 1028.3 L929.5 1027.1 L927.5 1025.9 L925.3 1024.4 L923 1022.9 L920.5 1021.3 L917.8 1019.6 L915 1017.7 L912.2 1015.9 L909 1013.8 L905.5 1011.6 L901.8 1009.1 L897.8 1006.5 L893.8 1003.9 L889.7 1001.3 L885.8 998.7 L882.1 996.3 L878.7 994.1 L875.6 992.1 L873 990.3 L870.6 988.7 L868.3 987.2 L866.3 985.8 L864.4 984.5 L862.7 983.3 L861 982.2 L859.4 981.2 L857.8 980.3 L856.2 979.4 L854.7 978.7 L853.2 978.1 L851.9 977.6 L850.6 977.2 L849.4 976.8 L848.2 976.6 L847.1 976.4 L845.9 976.3 L844.8 976.3 L843.5 976.3Z" fill="#a6add0" stroke="#959ec4" stroke-width="1.6"/><path d="M829.1 979.5 L830.4 979.5 L831.5 979.5 L832.7 979.6 L833.8 979.8 L835 980 L836.2 980.4 L837.5 980.8 L838.8 981.3 L840.3 981.9 L841.8 982.6 L843.4 983.5 L845 984.4 L846.6 985.4 L848.3 986.5 L850 987.7 L851.9 989 L853.9 990.4 L856.2 991.9 L858.6 993.5 L861.2 995.3 L864.3 997.3 L867.7 999.5 L871.4 1001.9 L875.3 1004.5 L879.4 1007.1 L883.4 1009.7 L887.4 1012.3 L891.1 1014.8 L894.6 1017 L897.8 1019.1 L900.6 1020.9 L903.4 1022.8 L906.1 1024.5 L908.6 1026.1 L910.9 1027.6 L913.1 1029.1 L915.1 1030.3 L916.8 1031.5 L918.3 1032.4 L919.5 1033.2 L931.7 1030.5 L930.5 1029.7 L929 1028.8 L927.2 1027.6 L925.3 1026.4 L923.1 1024.9 L920.7 1023.4 L918.2 1021.8 L915.6 1020.1 L912.8 1018.2 L909.9 1016.4 L906.8 1014.3 L903.3 1012.1 L899.5 1009.6 L895.6 1007 L891.5 1004.4 L887.5 1001.8 L883.6 999.2 L879.8 996.8 L876.4 994.6 L873.4 992.6 L870.7 990.8 L868.3 989.2 L866.1 987.7 L864.1 986.3 L862.2 985 L860.4 983.8 L858.8 982.7 L857.1 981.7 L855.5 980.8 L854 979.9 L852.4 979.2 L851 978.6 L849.6 978.1 L848.4 977.7 L847.2 977.3 L846 977.1 L844.8 976.9 L843.7 976.8 L842.5 976.8 L841.3 976.8Z" fill="#d3d7e9" stroke="#d3d7e9" stroke-width="0.8"/><path d="M832.7 978.7 L834 978.7 L835.1 978.7 L836.3 978.8 L837.4 979 L838.6 979.2 L839.8 979.6 L841.1 980 L842.4 980.5 L843.9 981.1 L845.4 981.8 L847 982.7 L848.6 983.6 L850.2 984.6 L851.9 985.7 L853.6 986.9 L855.5 988.2 L857.5 989.6 L859.8 991.1 L862.2 992.7 L864.8 994.5 L867.9 996.5 L871.3 998.7 L875 1001.1 L878.9 1003.7 L883 1006.3 L887 1008.9 L891 1011.5 L894.7 1014 L898.2 1016.2 L901.4 1018.3 L904.2 1020.1 L907 1022 L909.7 1023.7 L912.2 1025.3 L914.5 1026.8 L916.7 1028.3 L918.7 1029.5 L920.4 1030.7 L921.9 1031.6 L923.1 1032.4 L927.6 1031.4 L926.4 1030.6 L924.9 1029.7 L923.2 1028.5 L921.2 1027.3 L919 1025.8 L916.7 1024.3 L914.2 1022.7 L911.5 1021 L908.7 1019.1 L905.9 1017.3 L902.7 1015.2 L899.2 1013 L895.5 1010.5 L891.5 1007.9 L887.5 1005.3 L883.4 1002.7 L879.5 1000.1 L875.8 997.7 L872.4 995.5 L869.3 993.5 L866.7 991.7 L864.3 990.1 L862 988.6 L860 987.2 L858.1 985.9 L856.4 984.7 L854.7 983.6 L853.1 982.6 L851.5 981.7 L849.9 980.8 L848.4 980.1 L846.9 979.5 L845.6 979 L844.3 978.6 L843.1 978.2 L841.9 978 L840.8 977.8 L839.6 977.7 L838.5 977.7 L837.2 977.7Z" fill="#f4f5fa" stroke="#f4f5fa" stroke-width="0.6"/><path d="M385.9 975.7 L387.1 975.7 L388.3 975.8 L389.5 975.9 L390.8 976.1 L392 976.3 L393.2 976.7 L394.5 977.1 L395.8 977.6 L397.2 978.2 L398.5 978.9 L399.9 979.6 L401.2 980.5 L402.5 981.4 L403.8 982.4 L405.1 983.5 L406.6 984.7 L408.1 986 L409.8 987.4 L411.7 988.9 L413.7 990.6 L416.1 992.4 L418.8 994.4 L421.7 996.7 L424.8 999 L427.9 1001.5 L431.1 1003.9 L434.2 1006.3 L437.1 1008.6 L439.9 1010.7 L442.3 1012.6 L444.5 1014.3 L446.6 1015.9 L448.5 1017.5 L450.3 1018.9 L451.9 1020.3 L453.5 1021.6 L455 1022.7 L456.5 1023.8 L458 1024.8 L459.4 1025.7 L460.8 1026.4 L462.1 1027 L463.3 1027.6 L464.5 1028 L465.6 1028.3 L466.7 1028.5 L467.8 1028.7 L468.8 1028.8 L469.9 1028.8 L471 1028.8 L489 1024.8 L487.9 1024.8 L486.8 1024.8 L485.8 1024.7 L484.7 1024.5 L483.6 1024.3 L482.5 1024 L481.3 1023.6 L480.1 1023 L478.8 1022.4 L477.4 1021.7 L476 1020.8 L474.5 1019.8 L473 1018.7 L471.5 1017.6 L469.9 1016.3 L468.3 1014.9 L466.5 1013.5 L464.6 1011.9 L462.5 1010.3 L460.3 1008.6 L457.9 1006.7 L455.1 1004.6 L452.2 1002.3 L449.1 999.9 L445.9 997.5 L442.8 995 L439.7 992.7 L436.8 990.4 L434.1 988.4 L431.7 986.6 L429.7 984.9 L427.8 983.4 L426.1 982 L424.6 980.7 L423.1 979.5 L421.8 978.4 L420.5 977.4 L419.2 976.5 L417.9 975.6 L416.5 974.9 L415.2 974.2 L413.8 973.6 L412.5 973.1 L411.2 972.7 L410 972.3 L408.8 972.1 L407.5 971.9 L406.3 971.8 L405.1 971.7 L403.9 971.7Z" fill="#a6add0" stroke="#959ec4" stroke-width="1.6"/><path d="M389.5 974.9 L390.7 974.9 L391.9 975 L393.1 975.1 L394.4 975.3 L395.6 975.5 L396.8 975.9 L398.1 976.3 L399.4 976.8 L400.8 977.4 L402.1 978.1 L403.5 978.8 L404.8 979.7 L406.1 980.6 L407.4 981.6 L408.7 982.7 L410.2 983.9 L411.7 985.2 L413.4 986.6 L415.3 988.1 L417.3 989.8 L419.7 991.6 L422.4 993.6 L425.3 995.9 L428.4 998.2 L431.5 1000.7 L434.7 1003.1 L437.8 1005.5 L440.7 1007.8 L443.5 1009.9 L445.9 1011.8 L448.1 1013.5 L450.2 1015.1 L452.1 1016.7 L453.9 1018.1 L455.5 1019.5 L457.1 1020.8 L458.6 1021.9 L460.1 1023 L461.6 1024 L463 1024.9 L464.4 1025.6 L465.7 1026.2 L466.9 1026.8 L468.1 1027.2 L469.2 1027.5 L470.3 1027.7 L471.4 1027.9 L472.4 1028 L473.5 1028 L474.6 1028 L486.7 1025.3 L485.7 1025.3 L484.6 1025.3 L483.5 1025.2 L482.5 1025 L481.4 1024.8 L480.2 1024.5 L479.1 1024.1 L477.8 1023.5 L476.5 1022.9 L475.1 1022.2 L473.7 1021.3 L472.3 1020.3 L470.8 1019.2 L469.3 1018.1 L467.7 1016.8 L466 1015.4 L464.2 1014 L462.3 1012.4 L460.3 1010.8 L458.1 1009.1 L455.6 1007.2 L452.9 1005.1 L449.9 1002.8 L446.8 1000.4 L443.7 998 L440.5 995.5 L437.5 993.2 L434.5 990.9 L431.9 988.9 L429.5 987.1 L427.4 985.4 L425.6 983.9 L423.9 982.5 L422.3 981.2 L420.9 980 L419.5 978.9 L418.2 977.9 L416.9 977 L415.6 976.1 L414.3 975.4 L412.9 974.7 L411.6 974.1 L410.3 973.6 L409 973.2 L407.7 972.8 L406.5 972.6 L405.3 972.4 L404.1 972.3 L402.8 972.2 L401.6 972.2Z" fill="#d3d7e9" stroke="#d3d7e9" stroke-width="0.8"/><path d="M393.1 974.1 L394.3 974.1 L395.5 974.2 L396.7 974.3 L398 974.5 L399.2 974.7 L400.4 975.1 L401.7 975.5 L403 976 L404.4 976.6 L405.7 977.3 L407.1 978 L408.4 978.9 L409.7 979.8 L411 980.8 L412.3 981.9 L413.8 983.1 L415.3 984.4 L417 985.8 L418.9 987.3 L420.9 989 L423.3 990.8 L426 992.8 L428.9 995.1 L432 997.4 L435.1 999.9 L438.3 1002.3 L441.4 1004.7 L444.3 1007 L447.1 1009.1 L449.5 1011 L451.7 1012.7 L453.8 1014.3 L455.7 1015.9 L457.5 1017.3 L459.1 1018.7 L460.7 1020 L462.2 1021.1 L463.7 1022.2 L465.2 1023.2 L466.6 1024.1 L468 1024.8 L469.3 1025.4 L470.5 1026 L471.7 1026.4 L472.8 1026.7 L473.9 1026.9 L475 1027.1 L476 1027.2 L477.1 1027.2 L478.2 1027.2 L482.7 1026.2 L481.6 1026.2 L480.5 1026.2 L479.5 1026.1 L478.4 1025.9 L477.3 1025.7 L476.2 1025.4 L475 1025 L473.8 1024.4 L472.5 1023.8 L471.1 1023.1 L469.7 1022.2 L468.2 1021.2 L466.7 1020.1 L465.2 1019 L463.6 1017.7 L462 1016.3 L460.2 1014.9 L458.3 1013.3 L456.2 1011.7 L454 1010 L451.6 1008.1 L448.8 1006 L445.9 1003.7 L442.8 1001.3 L439.6 998.9 L436.5 996.4 L433.4 994.1 L430.5 991.8 L427.8 989.8 L425.4 988 L423.4 986.3 L421.5 984.8 L419.8 983.4 L418.3 982.1 L416.8 980.9 L415.5 979.8 L414.2 978.8 L412.9 977.9 L411.6 977 L410.2 976.3 L408.9 975.6 L407.5 975 L406.2 974.5 L404.9 974.1 L403.7 973.7 L402.5 973.5 L401.2 973.3 L400 973.2 L398.8 973.1 L397.6 973.1Z" fill="#f4f5fa" stroke="#f4f5fa" stroke-width="0.6"/><path d="M540.6 977.2 L541.9 977.2 L543.1 977.3 L544.3 977.4 L545.5 977.6 L546.7 977.8 L548 978.2 L549.2 978.6 L550.5 979.1 L551.9 979.7 L553.3 980.4 L554.7 981.1 L556.1 982 L557.4 982.9 L558.8 983.9 L560.2 985 L561.8 986.2 L563.4 987.5 L565.2 988.9 L567.2 990.4 L569.4 992.1 L571.9 993.9 L574.7 995.9 L577.8 998.2 L581.1 1000.5 L584.4 1003 L587.7 1005.4 L591 1007.8 L594.1 1010.1 L597 1012.2 L599.6 1014.1 L602 1015.8 L604.1 1017.4 L606.2 1019 L608 1020.4 L609.8 1021.8 L611.5 1023.1 L613.1 1024.2 L614.7 1025.3 L616.2 1026.3 L617.7 1027.2 L619.1 1027.9 L620.4 1028.5 L621.7 1029.1 L622.8 1029.5 L624 1029.8 L625 1030 L626.1 1030.2 L627.1 1030.3 L628.2 1030.3 L629.3 1030.3 L647.3 1026.3 L646.2 1026.3 L645.1 1026.3 L644.1 1026.2 L643 1026 L642 1025.8 L640.8 1025.5 L639.7 1025.1 L638.4 1024.5 L637.1 1023.9 L635.7 1023.2 L634.2 1022.3 L632.7 1021.3 L631.1 1020.2 L629.5 1019.1 L627.8 1017.8 L626 1016.4 L624.2 1015 L622.1 1013.4 L620 1011.8 L617.6 1010.1 L615 1008.2 L612.1 1006.1 L609 1003.8 L605.7 1001.4 L602.4 999 L599.1 996.5 L595.8 994.2 L592.7 991.9 L589.9 989.9 L587.4 988.1 L585.2 986.4 L583.2 984.9 L581.4 983.5 L579.8 982.2 L578.2 981 L576.8 979.9 L575.4 978.9 L574.1 978 L572.7 977.1 L571.3 976.4 L569.9 975.7 L568.5 975.1 L567.2 974.6 L566 974.2 L564.7 973.8 L563.5 973.6 L562.3 973.4 L561.1 973.3 L559.9 973.2 L558.6 973.2Z" fill="#a6add0" stroke="#959ec4" stroke-width="1.6"/><path d="M544.2 976.4 L545.5 976.4 L546.7 976.5 L547.9 976.6 L549.1 976.8 L550.3 977 L551.6 977.4 L552.8 977.8 L554.1 978.3 L555.5 978.9 L556.9 979.6 L558.3 980.3 L559.7 981.2 L561 982.1 L562.4 983.1 L563.8 984.2 L565.4 985.4 L567 986.7 L568.8 988.1 L570.8 989.6 L573 991.3 L575.5 993.1 L578.3 995.1 L581.4 997.4 L584.7 999.7 L588 1002.2 L591.3 1004.6 L594.6 1007 L597.7 1009.3 L600.6 1011.4 L603.2 1013.3 L605.6 1015 L607.7 1016.6 L609.8 1018.2 L611.6 1019.6 L613.4 1021 L615.1 1022.3 L616.7 1023.4 L618.3 1024.5 L619.8 1025.5 L621.3 1026.4 L622.7 1027.1 L624 1027.7 L625.3 1028.3 L626.4 1028.7 L627.6 1029 L628.6 1029.2 L629.7 1029.4 L630.7 1029.5 L631.8 1029.5 L632.9 1029.5 L645 1026.8 L643.9 1026.8 L642.9 1026.8 L641.8 1026.7 L640.8 1026.5 L639.7 1026.3 L638.6 1026 L637.4 1025.6 L636.2 1025 L634.8 1024.4 L633.4 1023.7 L631.9 1022.8 L630.4 1021.8 L628.9 1020.7 L627.3 1019.6 L625.6 1018.3 L623.8 1016.9 L621.9 1015.5 L619.9 1013.9 L617.7 1012.3 L615.4 1010.6 L612.8 1008.7 L609.9 1006.6 L606.8 1004.3 L603.5 1001.9 L600.1 999.5 L596.8 997 L593.6 994.7 L590.5 992.4 L587.6 990.4 L585.1 988.6 L582.9 986.9 L581 985.4 L579.2 984 L577.5 982.7 L576 981.5 L574.6 980.4 L573.2 979.4 L571.8 978.5 L570.5 977.6 L569 976.9 L567.6 976.2 L566.3 975.6 L565 975.1 L563.7 974.7 L562.5 974.3 L561.2 974.1 L560 973.9 L558.8 973.8 L557.6 973.7 L556.4 973.7Z" fill="#d3d7e9" stroke="#d3d7e9" stroke-width="0.8"/><path d="M547.8 975.6 L549.1 975.6 L550.3 975.7 L551.5 975.8 L552.7 976 L553.9 976.2 L555.2 976.6 L556.4 977 L557.7 977.5 L559.1 978.1 L560.5 978.8 L561.9 979.5 L563.3 980.4 L564.6 981.3 L566 982.3 L567.4 983.4 L569 984.6 L570.6 985.9 L572.4 987.3 L574.4 988.8 L576.6 990.5 L579.1 992.3 L581.9 994.3 L585 996.6 L588.3 998.9 L591.6 1001.4 L594.9 1003.8 L598.2 1006.2 L601.3 1008.5 L604.2 1010.6 L606.8 1012.5 L609.2 1014.2 L611.3 1015.8 L613.4 1017.4 L615.2 1018.8 L617 1020.2 L618.7 1021.5 L620.3 1022.6 L621.9 1023.7 L623.4 1024.7 L624.9 1025.6 L626.3 1026.3 L627.6 1026.9 L628.9 1027.5 L630 1027.9 L631.2 1028.2 L632.2 1028.4 L633.3 1028.6 L634.3 1028.7 L635.4 1028.7 L636.5 1028.7 L641 1027.7 L639.9 1027.7 L638.8 1027.7 L637.8 1027.6 L636.7 1027.4 L635.7 1027.2 L634.5 1026.9 L633.4 1026.5 L632.1 1025.9 L630.8 1025.3 L629.4 1024.6 L627.9 1023.7 L626.4 1022.7 L624.8 1021.6 L623.2 1020.5 L621.5 1019.2 L619.7 1017.8 L617.9 1016.4 L615.8 1014.8 L613.7 1013.2 L611.3 1011.5 L608.7 1009.6 L605.8 1007.5 L602.7 1005.2 L599.4 1002.8 L596.1 1000.4 L592.8 997.9 L589.5 995.6 L586.4 993.3 L583.6 991.3 L581.1 989.5 L578.9 987.8 L576.9 986.3 L575.1 984.9 L573.5 983.6 L571.9 982.4 L570.5 981.3 L569.1 980.3 L567.8 979.4 L566.4 978.5 L565 977.8 L563.6 977.1 L562.2 976.5 L560.9 976 L559.7 975.6 L558.4 975.2 L557.2 975 L556 974.8 L554.8 974.7 L553.6 974.6 L552.3 974.6Z" fill="#f4f5fa" stroke="#f4f5fa" stroke-width="0.6"/><path d="M697.2 978.7 L698.4 978.7 L699.6 978.8 L700.8 978.9 L702 979.1 L703.2 979.3 L704.4 979.7 L705.7 980.1 L707 980.6 L708.4 981.2 L709.8 981.9 L711.3 982.6 L712.6 983.5 L714 984.4 L715.5 985.4 L716.9 986.5 L718.5 987.7 L720.2 989 L722.1 990.4 L724.1 991.9 L726.4 993.6 L728.9 995.4 L731.8 997.5 L735 999.7 L738.3 1002.1 L741.8 1004.5 L745.2 1006.9 L748.6 1009.3 L751.8 1011.6 L754.8 1013.7 L757.4 1015.6 L759.8 1017.3 L762.1 1018.9 L764.1 1020.5 L766.1 1021.9 L767.9 1023.3 L769.6 1024.6 L771.3 1025.7 L772.9 1026.8 L774.4 1027.8 L775.9 1028.7 L777.4 1029.4 L778.7 1030 L780 1030.6 L781.2 1031 L782.3 1031.3 L783.3 1031.5 L784.4 1031.7 L785.4 1031.8 L786.5 1031.8 L787.6 1031.8 L805.6 1027.8 L804.5 1027.8 L803.4 1027.8 L802.4 1027.7 L801.3 1027.5 L800.3 1027.3 L799.2 1027 L798 1026.6 L796.7 1026 L795.4 1025.4 L793.9 1024.7 L792.4 1023.8 L790.9 1022.8 L789.3 1021.7 L787.6 1020.6 L785.9 1019.3 L784.1 1017.9 L782.1 1016.5 L780.1 1014.9 L777.8 1013.3 L775.4 1011.6 L772.8 1009.7 L769.8 1007.6 L766.6 1005.3 L763.2 1002.9 L759.8 1000.5 L756.3 998.1 L753 995.7 L749.8 993.5 L746.9 991.4 L744.4 989.6 L742.1 987.9 L740.1 986.4 L738.2 985 L736.5 983.7 L734.9 982.5 L733.5 981.4 L732 980.4 L730.6 979.5 L729.3 978.6 L727.8 977.9 L726.4 977.2 L725 976.6 L723.7 976.1 L722.4 975.7 L721.2 975.3 L720 975.1 L718.8 974.9 L717.6 974.8 L716.4 974.7 L715.2 974.7Z" fill="#a6add0" stroke="#959ec4" stroke-width="1.6"/><path d="M700.8 977.9 L702 977.9 L703.2 978 L704.4 978.1 L705.6 978.3 L706.8 978.5 L708 978.9 L709.3 979.3 L710.6 979.8 L712 980.4 L713.4 981.1 L714.9 981.8 L716.2 982.7 L717.6 983.6 L719.1 984.6 L720.5 985.7 L722.1 986.9 L723.8 988.2 L725.7 989.6 L727.7 991.1 L730 992.8 L732.5 994.6 L735.4 996.7 L738.6 998.9 L741.9 1001.3 L745.4 1003.7 L748.8 1006.1 L752.2 1008.5 L755.4 1010.8 L758.4 1012.9 L761 1014.8 L763.4 1016.5 L765.7 1018.1 L767.7 1019.7 L769.7 1021.1 L771.5 1022.5 L773.2 1023.8 L774.9 1024.9 L776.5 1026 L778 1027 L779.5 1027.9 L781 1028.6 L782.3 1029.2 L783.6 1029.8 L784.8 1030.2 L785.9 1030.5 L786.9 1030.7 L788 1030.9 L789 1031 L790.1 1031 L791.2 1031 L803.3 1028.3 L802.2 1028.3 L801.2 1028.3 L800.1 1028.2 L799.1 1028 L798 1027.8 L796.9 1027.5 L795.7 1027.1 L794.5 1026.5 L793.1 1025.9 L791.7 1025.2 L790.2 1024.3 L788.6 1023.3 L787 1022.2 L785.4 1021.1 L783.7 1019.8 L781.8 1018.4 L779.9 1017 L777.8 1015.4 L775.6 1013.8 L773.2 1012.1 L770.5 1010.2 L767.5 1008.1 L764.3 1005.8 L761 1003.4 L757.5 1001 L754.1 998.6 L750.8 996.2 L747.6 994 L744.7 991.9 L742.1 990.1 L739.8 988.4 L737.8 986.9 L736 985.5 L734.3 984.2 L732.7 983 L731.2 981.9 L729.8 980.9 L728.4 980 L727 979.1 L725.6 978.4 L724.1 977.7 L722.8 977.1 L721.5 976.6 L720.2 976.2 L719 975.8 L717.7 975.6 L716.5 975.4 L715.3 975.3 L714.1 975.2 L712.9 975.2Z" fill="#d3d7e9" stroke="#d3d7e9" stroke-width="0.8"/><path d="M704.4 977.1 L705.6 977.1 L706.8 977.2 L708 977.3 L709.2 977.5 L710.4 977.7 L711.6 978.1 L712.9 978.5 L714.2 979 L715.6 979.6 L717 980.3 L718.5 981 L719.8 981.9 L721.2 982.8 L722.7 983.8 L724.1 984.9 L725.7 986.1 L727.4 987.4 L729.3 988.8 L731.3 990.3 L733.6 992 L736.1 993.8 L739 995.9 L742.2 998.1 L745.5 1000.5 L749 1002.9 L752.4 1005.3 L755.8 1007.7 L759 1010 L762 1012.1 L764.6 1014 L767 1015.7 L769.3 1017.3 L771.3 1018.9 L773.3 1020.3 L775.1 1021.7 L776.8 1023 L778.5 1024.1 L780.1 1025.2 L781.6 1026.2 L783.1 1027.1 L784.6 1027.8 L785.9 1028.4 L787.2 1029 L788.4 1029.4 L789.5 1029.7 L790.5 1029.9 L791.6 1030.1 L792.6 1030.2 L793.7 1030.2 L794.8 1030.2 L799.3 1029.2 L798.2 1029.2 L797.1 1029.2 L796.1 1029.1 L795 1028.9 L794 1028.7 L792.9 1028.4 L791.7 1028 L790.4 1027.4 L789.1 1026.8 L787.6 1026.1 L786.1 1025.2 L784.6 1024.2 L783 1023.1 L781.3 1022 L779.6 1020.7 L777.8 1019.3 L775.8 1017.9 L773.8 1016.3 L771.5 1014.7 L769.1 1013 L766.5 1011.1 L763.5 1009 L760.3 1006.7 L756.9 1004.3 L753.5 1001.9 L750 999.5 L746.7 997.1 L743.5 994.9 L740.6 992.8 L738.1 991 L735.8 989.3 L733.8 987.8 L731.9 986.4 L730.2 985.1 L728.6 983.9 L727.2 982.8 L725.7 981.8 L724.3 980.9 L723 980 L721.5 979.3 L720.1 978.6 L718.7 978 L717.4 977.5 L716.1 977.1 L714.9 976.7 L713.7 976.5 L712.5 976.3 L711.3 976.2 L710.1 976.1 L708.9 976.1Z" fill="#f4f5fa" stroke="#f4f5fa" stroke-width="0.6"/><path d="M857.2 980.3 L858.4 980.3 L859.6 980.3 L860.7 980.4 L861.9 980.6 L863.1 980.8 L864.3 981.2 L865.5 981.6 L866.9 982.1 L868.3 982.7 L869.9 983.4 L871.5 984.3 L873 985.2 L874.7 986.2 L876.3 987.3 L878.1 988.5 L880 989.8 L882 991.2 L884.2 992.7 L886.6 994.3 L889.3 996.1 L892.3 998.1 L895.7 1000.3 L899.5 1002.7 L903.4 1005.3 L907.4 1007.9 L911.5 1010.5 L915.4 1013.1 L919.2 1015.6 L922.7 1017.8 L925.8 1019.9 L928.7 1021.7 L931.5 1023.6 L934.1 1025.3 L936.6 1026.9 L939 1028.4 L941.2 1029.9 L943.1 1031.1 L944.9 1032.3 L946.4 1033.2 L947.6 1034 L965.6 1030 L964.4 1029.2 L962.9 1028.3 L961.1 1027.1 L959.2 1025.9 L957 1024.4 L954.6 1022.9 L952.1 1021.3 L949.5 1019.6 L946.7 1017.7 L943.8 1015.9 L940.7 1013.8 L937.2 1011.6 L933.4 1009.1 L929.5 1006.5 L925.4 1003.9 L921.4 1001.3 L917.5 998.7 L913.7 996.3 L910.3 994.1 L907.3 992.1 L904.6 990.3 L902.2 988.7 L900 987.2 L898 985.8 L896.1 984.5 L894.3 983.3 L892.7 982.2 L891 981.2 L889.5 980.3 L887.9 979.4 L886.3 978.7 L884.9 978.1 L883.5 977.6 L882.3 977.2 L881.1 976.8 L879.9 976.6 L878.7 976.4 L877.6 976.3 L876.4 976.3 L875.2 976.3Z" fill="#a6add0" stroke="#959ec4" stroke-width="1.6"/><path d="M860.8 979.5 L862 979.5 L863.2 979.5 L864.3 979.6 L865.5 979.8 L866.7 980 L867.9 980.4 L869.1 980.8 L870.5 981.3 L871.9 981.9 L873.5 982.6 L875.1 983.5 L876.6 984.4 L878.3 985.4 L879.9 986.5 L881.7 987.7 L883.6 989 L885.6 990.4 L887.8 991.9 L890.2 993.5 L892.9 995.3 L895.9 997.3 L899.3 999.5 L903.1 1001.9 L907 1004.5 L911 1007.1 L915.1 1009.7 L919 1012.3 L922.8 1014.8 L926.3 1017 L929.4 1019.1 L932.3 1020.9 L935.1 1022.8 L937.7 1024.5 L940.2 1026.1 L942.6 1027.6 L944.8 1029.1 L946.7 1030.3 L948.5 1031.5 L950 1032.4 L951.2 1033.2 L963.3 1030.5 L962.1 1029.7 L960.6 1028.8 L958.9 1027.6 L956.9 1026.4 L954.7 1024.9 L952.4 1023.4 L949.9 1021.8 L947.2 1020.1 L944.5 1018.2 L941.6 1016.4 L938.5 1014.3 L934.9 1012.1 L931.2 1009.6 L927.2 1007 L923.2 1004.4 L919.1 1001.8 L915.2 999.2 L911.5 996.8 L908.1 994.6 L905 992.6 L902.4 990.8 L900 989.2 L897.7 987.7 L895.7 986.3 L893.8 985 L892.1 983.8 L890.4 982.7 L888.8 981.7 L887.2 980.8 L885.6 979.9 L884.1 979.2 L882.6 978.6 L881.3 978.1 L880 977.7 L878.8 977.3 L877.6 977.1 L876.5 976.9 L875.3 976.8 L874.2 976.8 L873 976.8Z" fill="#d3d7e9" stroke="#d3d7e9" stroke-width="0.8"/><path d="M864.4 978.7 L865.6 978.7 L866.8 978.7 L867.9 978.8 L869.1 979 L870.3 979.2 L871.5 979.6 L872.7 980 L874.1 980.5 L875.5 981.1 L877.1 981.8 L878.7 982.7 L880.2 983.6 L881.9 984.6 L883.5 985.7 L885.3 986.9 L887.2 988.2 L889.2 989.6 L891.4 991.1 L893.8 992.7 L896.5 994.5 L899.5 996.5 L902.9 998.7 L906.7 1001.1 L910.6 1003.7 L914.6 1006.3 L918.7 1008.9 L922.6 1011.5 L926.4 1014 L929.9 1016.2 L933 1018.3 L935.9 1020.1 L938.7 1022 L941.3 1023.7 L943.8 1025.3 L946.2 1026.8 L948.4 1028.3 L950.3 1029.5 L952.1 1030.7 L953.6 1031.6 L954.8 1032.4 L959.3 1031.4 L958.1 1030.6 L956.6 1029.7 L954.8 1028.5 L952.9 1027.3 L950.7 1025.8 L948.3 1024.3 L945.8 1022.7 L943.2 1021 L940.4 1019.1 L937.5 1017.3 L934.4 1015.2 L930.9 1013 L927.1 1010.5 L923.2 1007.9 L919.1 1005.3 L915.1 1002.7 L911.2 1000.1 L907.4 997.7 L904 995.5 L901 993.5 L898.3 991.7 L895.9 990.1 L893.7 988.6 L891.7 987.2 L889.8 985.9 L888 984.7 L886.4 983.6 L884.7 982.6 L883.2 981.7 L881.6 980.8 L880 980.1 L878.6 979.5 L877.2 979 L876 978.6 L874.8 978.2 L873.6 978 L872.4 977.8 L871.3 977.7 L870.1 977.7 L868.9 977.7Z" fill="#f4f5fa" stroke="#f4f5fa" stroke-width="0.6"/></g>
<rect x="374.6" y="1074" width="490.4" height="177" rx="46" fill="#ffffff"/>
<line x1="483" y1="1128.3" x2="759" y2="1128.3" stroke="#0c3b48" stroke-width="4.4"/>
<polygon points="621,1129 647,1189.2 595,1189.2" fill="#06394a"/>
<rect x="1225" y="1181.8" width="737.5" height="109" rx="36" fill="#ffffff"/>
<g transform="translate(1299.4 1210.4) scale(0.5)"><circle r="33.7" fill="#d9c3e0"/><circle r="33" fill="#767296"/><circle r="30.7" fill="#d5e1f5"/><circle r="26.3" fill="#7a4a68"/><circle r="25.3" fill="#a82c44"/><circle r="24.3" fill="#d41f2c"/><circle r="23.3" fill="#ec1c24"/></g>
<path d="M1252.3 1264.3 L1277.4 1264.3 L1277.4 1259.3 C1270.3 1257.8 1272.8 1250.5 1279.8 1250.5 C1286.8 1250.5 1289.3 1257.8 1282.2 1259.3 L1282.2 1264.3 L1308.8 1264.3" fill="none" stroke="#ee8a2a" stroke-width="2.6" stroke-linejoin="round" stroke-linecap="round"/>
<circle cx="1320.5" cy="1268" r="1.5" fill="#9a7a8a"/>
<g stroke="#ee8326" stroke-width="2.8" fill="none" stroke-linecap="round"><line x1="1350" y1="1263" x2="1350" y2="1243.5"/><line x1="1350" y1="1263" x2="1334.5" y2="1263"/><line x1="1350" y1="1263" x2="1350" y2="1283"/><circle cx="1350" cy="1243.5" r="2.6" fill="#fdf0dc" stroke="#e89548" stroke-width="2.3"/><circle cx="1334.5" cy="1263" r="2.6" fill="#fdf0dc" stroke="#e89548" stroke-width="2.3"/><circle cx="1350" cy="1263" r="6" fill="#ffffff" stroke="#d29660" stroke-width="2.6"/></g>
<path d="M164.5 311C164.1 332.5 161.9 400.9 162 440C162.1 479.1 163.3 512.7 165 545.5C166.7 578.3 168.5 603 172 637C175.5 671 180.7 719 186 749.5C191.3 780 197.6 795.3 204 820C210.4 844.7 221 884.6 224.4 897.5" fill="none" stroke="#003f50" stroke-width="3.4" stroke-dasharray="17 12.5" stroke-dashoffset="0"/><path d="M228 911 L210.2 888.8 L223.2 892.6 L232.5 882.9 Z" fill="#003f50"/>
<path d="M392 301.5C383.3 313.2 356.5 348.2 340 372C323.5 395.8 307.5 418.7 293 444C278.5 469.3 263.7 496.5 253 524C242.3 551.5 233.8 582 228.6 609C223.4 636 221.6 658.5 221.6 686C221.6 713.5 224.5 744.7 228.6 774C232.7 803.3 241.5 841.7 246 862C250.5 882.3 254.1 890 255.7 895.6" fill="none" stroke="#003f50" stroke-width="3.4" stroke-dasharray="17 12.5" stroke-dashoffset="0"/><path d="M259.6 909 L241.3 887.2 L254.3 890.7 L263.4 880.8 Z" fill="#003f50"/>
<path d="M778 426C787.3 428.9 816.8 435.7 834 443.5C851.2 451.3 868.2 461.8 881 473C893.8 484.2 902.8 498.6 911 511C919.2 523.4 926.9 541.5 930 547.6" fill="none" stroke="#003f50" stroke-width="3.4" stroke-dasharray="17 12.5" stroke-dashoffset="0"/><path d="M936.5 560 L914.3 542.2 L927.7 543.1 L934.7 531.6 Z" fill="#003f50"/>
<path d="M1073 475C1072.7 479.2 1073 492.1 1071 500C1069 507.9 1063.8 517.6 1061 522.5C1058.2 527.4 1055.5 528.5 1054.4 529.7" fill="none" stroke="#003f50" stroke-width="3.4" stroke-dasharray="17 12.5" stroke-dashoffset="0"/><path d="M1045 540 L1054.1 513.1 L1057.8 526 L1071 528.6 Z" fill="#003f50"/>
<path d="M1538.7 320.9C1532.4 323.3 1515 329.1 1501 335.2C1487 341.3 1472.2 348.1 1455 357.3C1437.8 366.5 1415.7 379.5 1397.7 390.3C1379.7 401.1 1363.5 411 1347 422.2C1330.5 433.4 1314.4 445.6 1298.6 457.5C1282.8 469.4 1267.7 481.7 1252.3 493.8C1236.9 505.9 1220.5 518.6 1206 530.2C1191.5 541.8 1172 557.7 1165.2 563.2" fill="none" stroke="#003f50" stroke-width="3.4" stroke-dasharray="17 12.5" stroke-dashoffset="0"/><path d="M1154.3 572 L1167.3 546.7 L1169.1 560.1 L1181.7 564.6 Z" fill="#003f50"/>
<path d="M1194 618.7C1219.8 611.2 1322.8 581.4 1348.6 573.9" fill="none" stroke="#003f50" stroke-width="3.4" stroke-dasharray="17 12.5" stroke-dashoffset="0"/><path d="M1362 570 L1340.2 588.3 L1343.8 575.3 L1333.8 566.2 Z" fill="#003f50"/>
<path d="M1582 524.4C1597.5 524.4 1659.5 524.4 1675 524.4" fill="none" stroke="#003f50" stroke-width="3.4" stroke-dasharray="17 12.5" stroke-dashoffset="0"/><path d="M1689 524.4 L1663 535.9 L1670 524.4 L1663 512.9 Z" fill="#003f50"/>
<path d="M1180 746C1196.7 760 1263.6 816 1280.3 830" fill="none" stroke="#003f50" stroke-width="3.4" stroke-dasharray="17 12.5" stroke-dashoffset="0"/><path d="M1291 839 L1263.7 831.1 L1276.4 826.8 L1278.5 813.5 Z" fill="#003f50"/>
<path d="M1585 892.6C1598.3 892.6 1651.7 892.6 1665 892.6" fill="none" stroke="#003f50" stroke-width="3.4" stroke-dasharray="17 12.5" stroke-dashoffset="0"/><path d="M1679 892.6 L1653 904.1 L1660 892.6 L1653 881.1 Z" fill="#003f50"/>
<path d="M1692.7 326.4C1700.6 328 1725.1 331.8 1740 336C1754.9 340.2 1765.5 342 1782 351.7C1798.5 361.4 1821 377.6 1838.7 394C1856.4 410.4 1875.7 431.8 1888 450C1900.3 468.2 1906.8 485.3 1912.6 503C1918.4 520.7 1920.9 531.3 1923 556C1925.1 580.7 1925 617.6 1925 651C1925 684.4 1923.7 721.4 1923 756.6C1922.3 791.8 1921.6 838.9 1921 862C1920.4 885.1 1922.2 877.8 1919.6 895C1917 912.2 1913.8 943.2 1905.5 965.5C1897.2 987.8 1884.7 1010.2 1870 1029C1855.3 1047.8 1843.9 1062.2 1817.6 1078C1791.3 1093.8 1753.1 1112.1 1712 1123.8C1670.9 1135.5 1617.9 1142.7 1571 1148C1524.1 1153.3 1475.9 1155.5 1430.7 1155.5C1385.5 1155.5 1344.7 1152.1 1300 1148C1255.3 1143.9 1203.3 1137.8 1162.8 1130.8C1122.3 1123.8 1086.3 1113.6 1057 1106C1027.7 1098.4 1010 1093.4 987 1085C964 1076.6 930.2 1060.5 918.9 1055.6" fill="none" stroke="#003f50" stroke-width="3.4" stroke-dasharray="17 12.5" stroke-dashoffset="0"/><path d="M906 1050 L934.4 1049.8 L923.4 1057.5 L925.3 1070.9 Z" fill="#003f50"/>
<rect x="9.5" y="1.5" width="600" height="90" rx="20" fill="#0093b5"/>
<rect x="671" y="2.5" width="566" height="89.5" rx="20" fill="#0093b5"/>
<rect x="1312.5" y="1.5" width="497.5" height="90" rx="20" fill="#0093b5"/>
<text transform="translate(37 39.1) scale(1.0613 1)" font-size="41.5" fill="#ffffff">Рецепторно-опосредованный</text>
<text transform="translate(38 80.6) scale(0.9950 1)" font-size="41.5" fill="#ffffff">путь</text>
<text transform="translate(687.1 39.1) scale(1.0681 1)" font-size="41.5" fill="#ffffff">Макропиноцитоз, фагоцитоз</text>
<text transform="translate(686.1 80.6) scale(1.0636 1)" font-size="41.5" fill="#ffffff">эндоцитоз</text>
<text transform="translate(1391.8 56.6) scale(1.0554 1)" font-size="41.5" fill="#ffffff">Слияние мембран</text>
<text transform="translate(191.5 297) scale(1.0575 1)" font-size="41.5" fill="#2a93b2">Рецептор</text>
<text transform="translate(853.3 289.1) scale(1.0549 1)" font-size="41.5" fill="#2a93b2">Липидный</text>
<text transform="translate(855 331.3) scale(1.0231 1)" font-size="41.5" fill="#2a93b2">рафт</text>
<text transform="translate(1250.3 312.4) scale(1.0495 1)" font-size="41.5" fill="#2a93b2">Клатрин/</text>
<text transform="translate(1250.2 353.4) scale(1.0594 1)" font-size="41.5" fill="#2a93b2">Кавеолин</text>
<text transform="translate(704.5 609.8) scale(1.0552 1)" font-size="41.5" fill="#2a93b2">Эндосома</text>
<text transform="translate(374.5 689.4) scale(1.0552 1)" font-size="41.5" fill="#2a93b2">Эндоплазматический</text>
<text transform="translate(376.6 730.8) scale(1.0220 1)" font-size="41.5" fill="#2a93b2">ретикулум</text>
<text transform="translate(1248.8 731) scale(1.0680 1)" font-size="41.5" fill="#2a93b2">Созревание</text>
<text transform="translate(1248.2 772.4) scale(1.0580 1)" font-size="41.5" fill="#2a93b2">лизосомы</text>
<text transform="translate(1560.7 632.5) scale(0.9861 1)" font-size="41.5" fill="#2a93b2">Выход</text>
<text transform="translate(1560.7 673.5) scale(1.0292 1)" font-size="41.5" fill="#2a93b2">содержимого БВВ</text>
<text transform="translate(1309.2 1018.9) scale(1.0536 1)" font-size="41.5" fill="#2a93b2">Лизосома</text>
<text transform="translate(1594.1 979.1) scale(1.0467 1)" font-size="41.5" fill="#2a93b2">Продукты</text>
<text transform="translate(1592.5 1019.6) scale(1.0358 1)" font-size="41.5" fill="#2a93b2">деградации</text>
<text transform="translate(1592.5 1061) scale(1.0574 1)" font-size="41.5" fill="#2a93b2">лизосомы</text>
<text transform="translate(105.5 1054.5) scale(1.0364 1)" font-size="41.5" fill="#2a93b2">Ядро</text>
<text transform="translate(429.2 1112.2) scale(1.0950 1)" font-size="41.5" fill="#c5202b">Про-</text>
<text transform="translate(705.5 1112.2) scale(1.0424 1)" font-size="41.5" fill="#c5202b">Анти-</text>
<text transform="translate(514.7 1232.5) scale(1.0455 1)" font-size="41.5" fill="#c5202b">воспаление</text>
<text transform="translate(1379.3 1217) scale(1.0677 1)" font-size="31.5" fill="#1c1c1c">БВВ</text>
<text transform="translate(1379.3 1255) scale(1.1155 1)" font-size="31.5" fill="#1c1c1c">Малые РНК про- и эукариот</text>
<text transform="translate(1378.2 1285.3) scale(1.1050 1)" font-size="31.5" fill="#1c1c1c">соответственно</text>
<text transform="translate(1963.6 898) rotate(-90) scale(1.0428 1)" font-size="41.5" fill="#1c1c1c">RLRs, NLRs, TLRs</text>
</svg>
</body>
</html>
